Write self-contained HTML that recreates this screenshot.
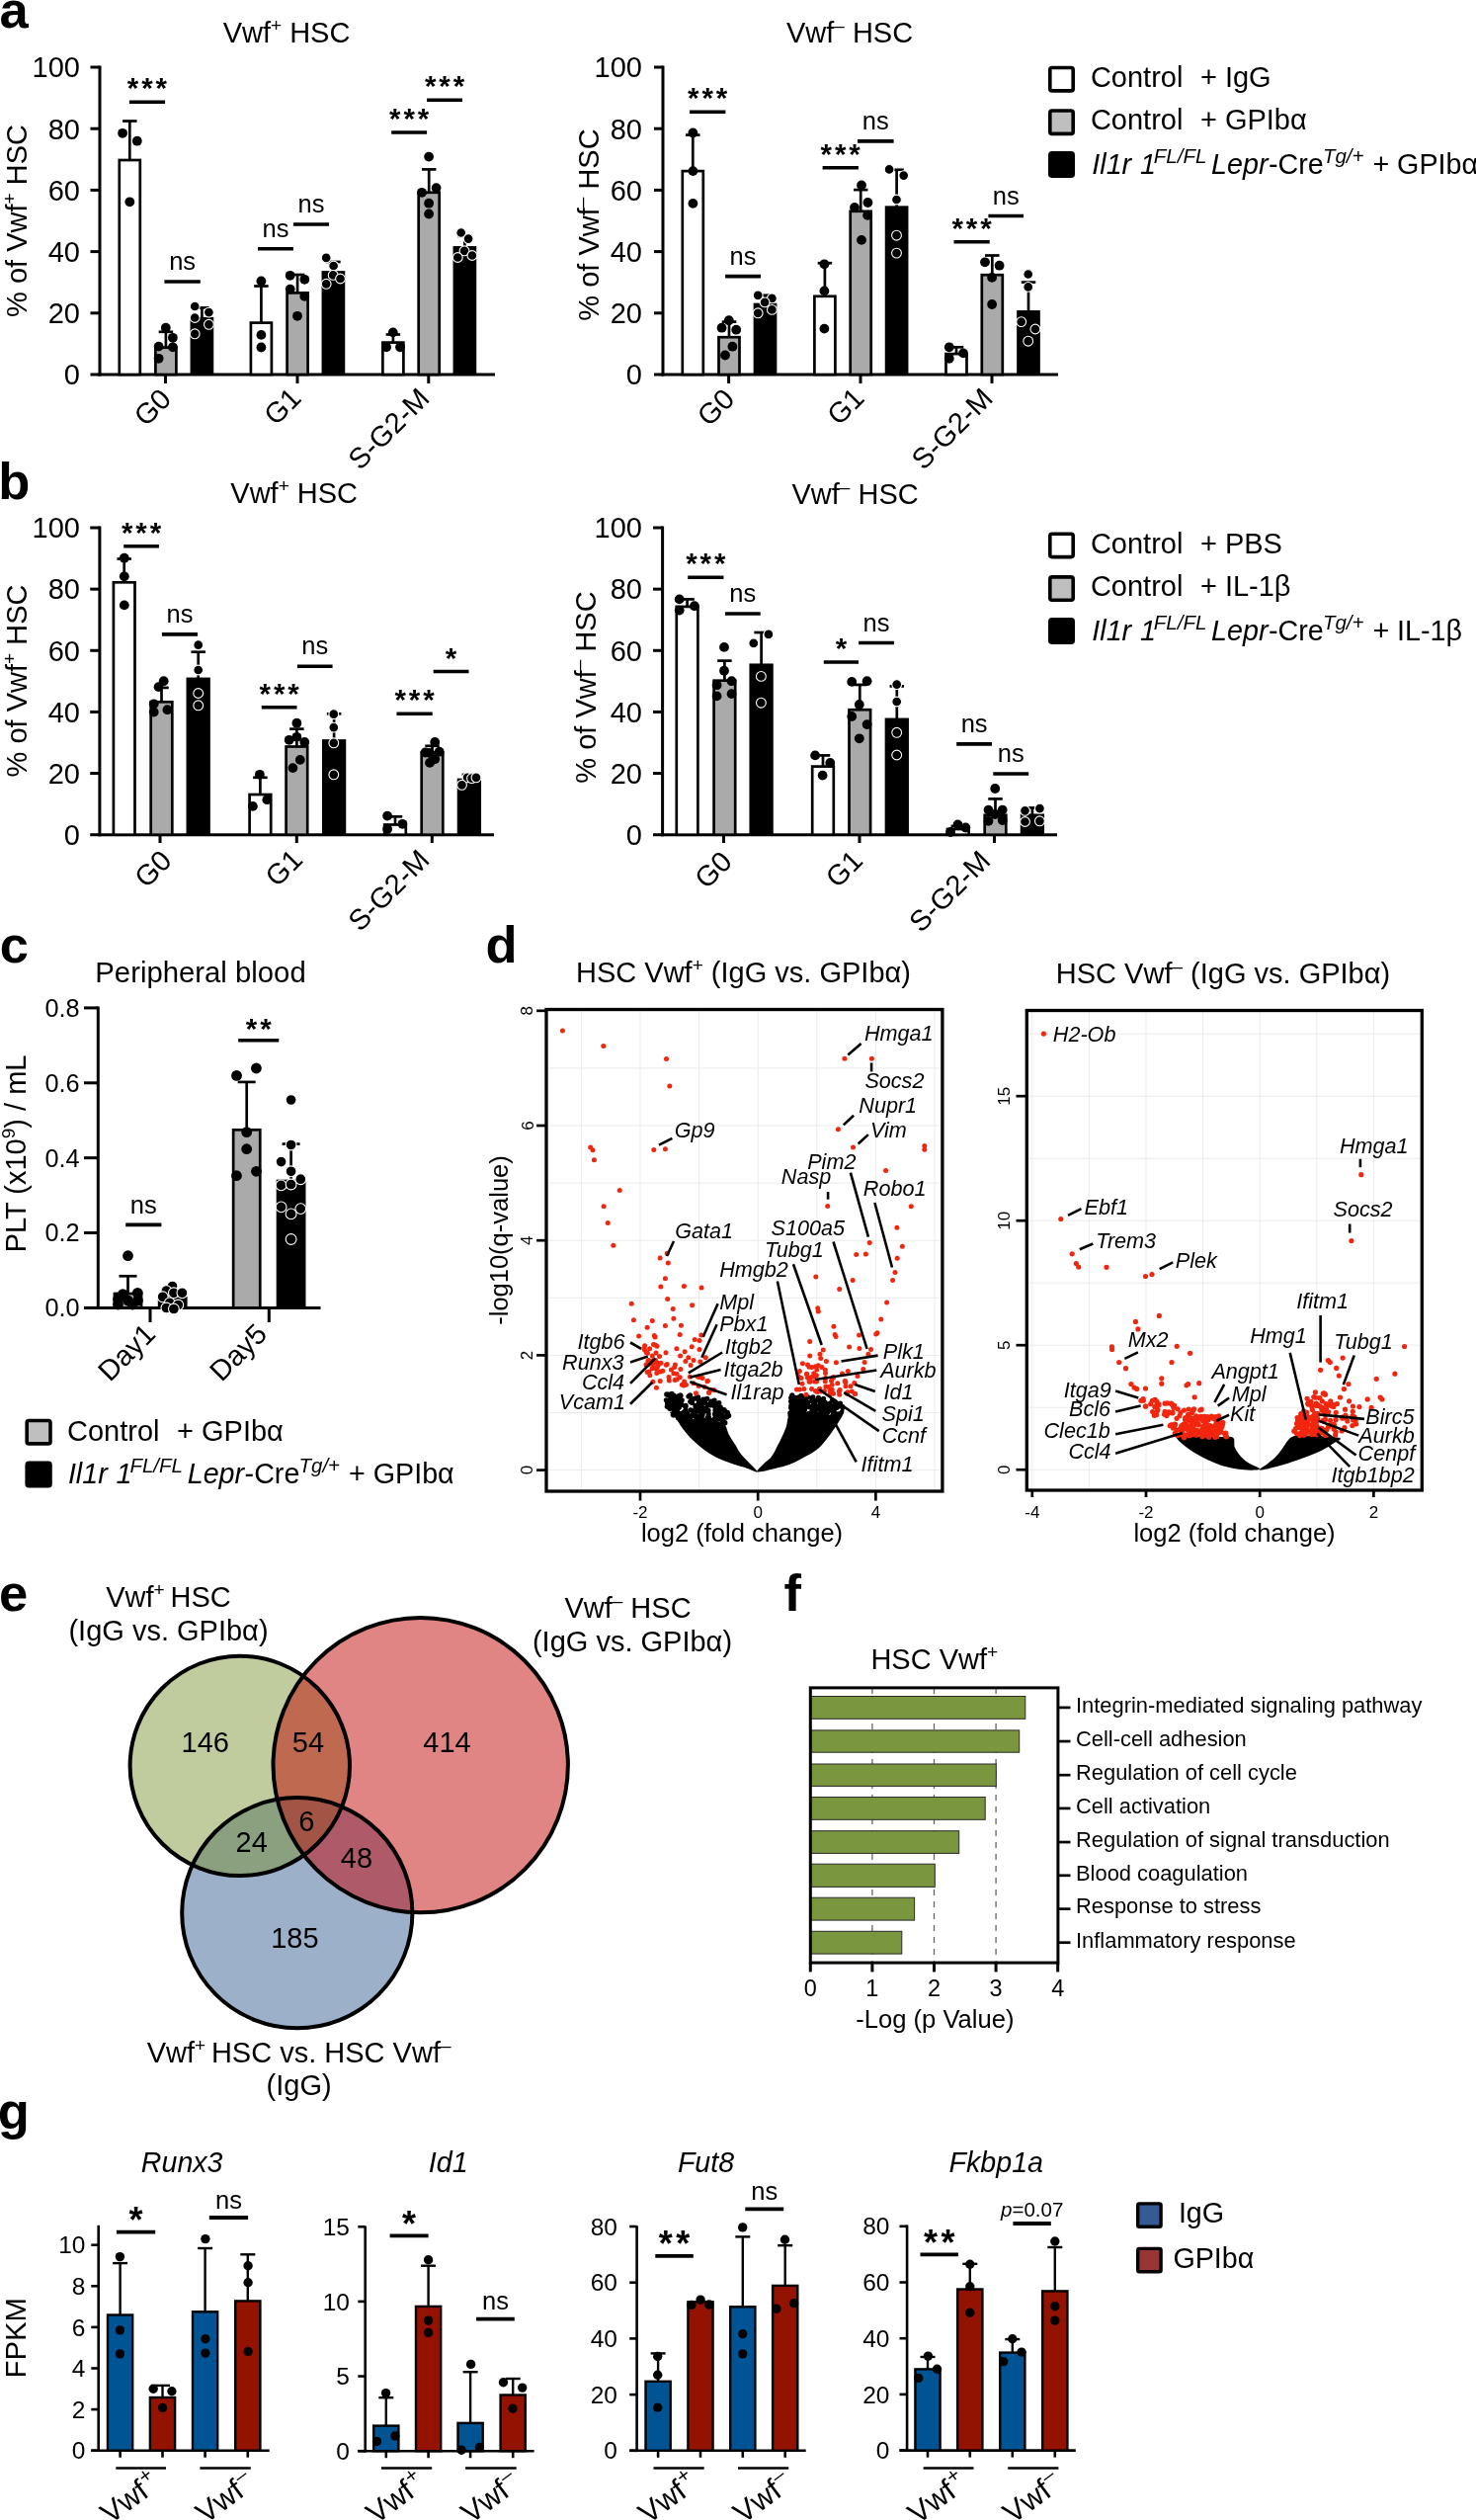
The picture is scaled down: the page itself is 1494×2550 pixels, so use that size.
<!DOCTYPE html>
<html><head><meta charset="utf-8"><style>
html,body{margin:0;padding:0;background:#fff;}
svg{display:block;will-change:transform;}
text{font-family:"Liberation Sans",sans-serif;white-space:pre;}
</style></head><body>
<svg xmlns="http://www.w3.org/2000/svg" width="1494" height="2550" viewBox="0 0 1494 2550">
<rect width="1494" height="2550" fill="#fff"/>
<line x1="101" y1="66.5" x2="101" y2="380.5" stroke="#000" stroke-width="3" stroke-linecap="butt" />
<line x1="99.5" y1="379" x2="501" y2="379" stroke="#000" stroke-width="3" stroke-linecap="butt" />
<line x1="91.5" y1="379" x2="101" y2="379" stroke="#000" stroke-width="3" stroke-linecap="butt" />
<text x="81" y="389.3" font-size="29" text-anchor="end" font-weight="normal" font-style="normal" fill="#000" >0</text>
<line x1="91.5" y1="316.8" x2="101" y2="316.8" stroke="#000" stroke-width="3" stroke-linecap="butt" />
<text x="81" y="327.1" font-size="29" text-anchor="end" font-weight="normal" font-style="normal" fill="#000" >20</text>
<line x1="91.5" y1="254.6" x2="101" y2="254.6" stroke="#000" stroke-width="3" stroke-linecap="butt" />
<text x="81" y="264.9" font-size="29" text-anchor="end" font-weight="normal" font-style="normal" fill="#000" >40</text>
<line x1="91.5" y1="192.4" x2="101" y2="192.4" stroke="#000" stroke-width="3" stroke-linecap="butt" />
<text x="81" y="202.7" font-size="29" text-anchor="end" font-weight="normal" font-style="normal" fill="#000" >60</text>
<line x1="91.5" y1="130.2" x2="101" y2="130.2" stroke="#000" stroke-width="3" stroke-linecap="butt" />
<text x="81" y="140.5" font-size="29" text-anchor="end" font-weight="normal" font-style="normal" fill="#000" >80</text>
<line x1="91.5" y1="68" x2="101" y2="68" stroke="#000" stroke-width="3" stroke-linecap="butt" />
<text x="81" y="78.3" font-size="29" text-anchor="end" font-weight="normal" font-style="normal" fill="#000" >100</text>
<line x1="167.5" y1="379" x2="167.5" y2="388" stroke="#000" stroke-width="3" stroke-linecap="butt" />
<line x1="301" y1="379" x2="301" y2="388" stroke="#000" stroke-width="3" stroke-linecap="butt" />
<line x1="433.8" y1="379" x2="433.8" y2="388" stroke="#000" stroke-width="3" stroke-linecap="butt" />
<rect x="120.8" y="162" width="21" height="217" fill="#fff" stroke="#000" stroke-width="2.7" />
<rect x="157.4" y="351.7" width="21" height="27.3" fill="#aaaaaa" stroke="#000" stroke-width="2.7" />
<rect x="192.55" y="320.85" width="23.7" height="58.15" fill="#000" />
<rect x="253.9" y="326.6" width="21" height="52.4" fill="#fff" stroke="#000" stroke-width="2.7" />
<rect x="290.6" y="296.4" width="21" height="82.6" fill="#aaaaaa" stroke="#000" stroke-width="2.7" />
<rect x="325.55" y="274.15" width="23.7" height="104.85" fill="#000" />
<rect x="387.4" y="346.6" width="21" height="32.4" fill="#fff" stroke="#000" stroke-width="2.7" />
<rect x="423.7" y="194.8" width="21" height="184.2" fill="#aaaaaa" stroke="#000" stroke-width="2.7" />
<rect x="458.55" y="249.05" width="23.7" height="129.95" fill="#000" />
<line x1="131.3" y1="162" x2="131.3" y2="122.5" stroke="#000" stroke-width="2.7" stroke-linecap="butt" />
<line x1="124.05" y1="122.5" x2="138.55" y2="122.5" stroke="#000" stroke-width="2.7" stroke-linecap="butt" />
<line x1="167.9" y1="351.7" x2="167.9" y2="335.8" stroke="#000" stroke-width="2.7" stroke-linecap="butt" />
<line x1="160.65" y1="335.8" x2="175.15" y2="335.8" stroke="#000" stroke-width="2.7" stroke-linecap="butt" />
<line x1="204.4" y1="322.2" x2="204.4" y2="311.4" stroke="#000" stroke-width="2.7" stroke-linecap="butt" />
<line x1="197.15" y1="311.4" x2="211.65" y2="311.4" stroke="#000" stroke-width="2.7" stroke-linecap="butt" />
<line x1="264.4" y1="326.6" x2="264.4" y2="289.5" stroke="#000" stroke-width="2.7" stroke-linecap="butt" />
<line x1="257.15" y1="289.5" x2="271.65" y2="289.5" stroke="#000" stroke-width="2.7" stroke-linecap="butt" />
<line x1="301.1" y1="296.4" x2="301.1" y2="278" stroke="#000" stroke-width="2.7" stroke-linecap="butt" />
<line x1="293.85" y1="278" x2="308.35" y2="278" stroke="#000" stroke-width="2.7" stroke-linecap="butt" />
<line x1="337.4" y1="275.5" x2="337.4" y2="265" stroke="#000" stroke-width="2.7" stroke-linecap="butt" />
<line x1="330.15" y1="265" x2="344.65" y2="265" stroke="#000" stroke-width="2.7" stroke-linecap="butt" />
<line x1="397.9" y1="346.6" x2="397.9" y2="338.5" stroke="#000" stroke-width="2.7" stroke-linecap="butt" />
<line x1="390.65" y1="338.5" x2="405.15" y2="338.5" stroke="#000" stroke-width="2.7" stroke-linecap="butt" />
<line x1="434.2" y1="194.8" x2="434.2" y2="171.4" stroke="#000" stroke-width="2.7" stroke-linecap="butt" />
<line x1="426.95" y1="171.4" x2="441.45" y2="171.4" stroke="#000" stroke-width="2.7" stroke-linecap="butt" />
<line x1="470.4" y1="250.4" x2="470.4" y2="238.9" stroke="#000" stroke-width="2.7" stroke-linecap="butt" />
<line x1="463.15" y1="238.9" x2="477.65" y2="238.9" stroke="#000" stroke-width="2.7" stroke-linecap="butt" />
<circle cx="124.1" cy="134.8" r="4.9" fill="#000"/>
<circle cx="138.8" cy="142.7" r="4.9" fill="#000"/>
<circle cx="131.3" cy="204.3" r="4.9" fill="#000"/>
<circle cx="167.8" cy="331.7" r="4.9" fill="#000"/>
<circle cx="174.9" cy="341.8" r="4.9" fill="#000"/>
<circle cx="160.6" cy="350.6" r="4.9" fill="#000"/>
<circle cx="174.9" cy="351.3" r="4.9" fill="#000"/>
<circle cx="160.6" cy="362.8" r="4.9" fill="#000"/>
<circle cx="197.2" cy="310" r="4.9" fill="#000" stroke="#fff" stroke-width="1.1"/>
<circle cx="211.4" cy="316.1" r="4.9" fill="#000" stroke="#fff" stroke-width="1.1"/>
<circle cx="197.2" cy="321.5" r="4.9" fill="#000" stroke="#fff" stroke-width="1.1"/>
<circle cx="211.4" cy="328.3" r="4.9" fill="#000" stroke="#fff" stroke-width="1.1"/>
<circle cx="197.2" cy="337.8" r="4.9" fill="#000" stroke="#fff" stroke-width="1.1"/>
<circle cx="264.4" cy="284.5" r="4.9" fill="#000"/>
<circle cx="264.4" cy="338.9" r="4.9" fill="#000"/>
<circle cx="264.4" cy="351.5" r="4.9" fill="#000"/>
<circle cx="293.7" cy="278.8" r="4.9" fill="#000"/>
<circle cx="308.3" cy="282.8" r="4.9" fill="#000"/>
<circle cx="293.7" cy="292.6" r="4.9" fill="#000"/>
<circle cx="308.3" cy="299.9" r="4.9" fill="#000"/>
<circle cx="301" cy="319.8" r="4.9" fill="#000"/>
<circle cx="330.2" cy="260.9" r="4.9" fill="#000" stroke="#fff" stroke-width="1.1"/>
<circle cx="337.6" cy="269" r="4.9" fill="#000" stroke="#fff" stroke-width="1.1"/>
<circle cx="337.2" cy="278.4" r="4.9" fill="#000" stroke="#fff" stroke-width="1.1"/>
<circle cx="344.5" cy="282" r="4.9" fill="#000" stroke="#fff" stroke-width="1.1"/>
<circle cx="330.2" cy="287.3" r="4.9" fill="#000" stroke="#fff" stroke-width="1.1"/>
<circle cx="397.8" cy="336.4" r="4.9" fill="#000"/>
<circle cx="391.1" cy="351.3" r="4.9" fill="#000"/>
<circle cx="405" cy="351.3" r="4.9" fill="#000"/>
<circle cx="434.1" cy="158.6" r="4.9" fill="#000"/>
<circle cx="427" cy="194.8" r="4.9" fill="#000"/>
<circle cx="441.6" cy="190.1" r="4.9" fill="#000"/>
<circle cx="434.1" cy="205.7" r="4.9" fill="#000"/>
<circle cx="434.1" cy="216.5" r="4.9" fill="#000"/>
<circle cx="466.7" cy="235.5" r="4.9" fill="#000" stroke="#fff" stroke-width="1.1"/>
<circle cx="474.1" cy="241.6" r="4.9" fill="#000" stroke="#fff" stroke-width="1.1"/>
<circle cx="470" cy="253.8" r="4.9" fill="#000" stroke="#fff" stroke-width="1.1"/>
<circle cx="463.3" cy="260.5" r="4.9" fill="#000" stroke="#fff" stroke-width="1.1"/>
<circle cx="477.9" cy="258.5" r="4.9" fill="#000" stroke="#fff" stroke-width="1.1"/>
<line x1="130.9" y1="103.3" x2="167.1" y2="103.3" stroke="#000" stroke-width="3.6" stroke-linecap="butt" />
<text x="150.45" y="99.3" font-size="29.5" text-anchor="middle" font-weight="bold" font-style="normal" fill="#000" letter-spacing="2.9">***</text>
<line x1="166.4" y1="285" x2="202.8" y2="285" stroke="#000" stroke-width="3.6" stroke-linecap="butt" />
<text x="184.6" y="273.2" font-size="25.5" text-anchor="middle" font-weight="normal" font-style="normal" fill="#000" >ns</text>
<line x1="261" y1="251.8" x2="296.9" y2="251.8" stroke="#000" stroke-width="3.6" stroke-linecap="butt" />
<text x="278.95" y="240" font-size="25.5" text-anchor="middle" font-weight="normal" font-style="normal" fill="#000" >ns</text>
<line x1="296.9" y1="227" x2="333" y2="227" stroke="#000" stroke-width="3.6" stroke-linecap="butt" />
<text x="314.95" y="215.2" font-size="25.5" text-anchor="middle" font-weight="normal" font-style="normal" fill="#000" >ns</text>
<line x1="396.2" y1="134" x2="432.1" y2="134" stroke="#000" stroke-width="3.6" stroke-linecap="butt" />
<text x="415.6" y="130" font-size="29.5" text-anchor="middle" font-weight="bold" font-style="normal" fill="#000" letter-spacing="2.9">***</text>
<line x1="432.1" y1="101.2" x2="468" y2="101.2" stroke="#000" stroke-width="3.6" stroke-linecap="butt" />
<text x="451.5" y="97.2" font-size="29.5" text-anchor="middle" font-weight="bold" font-style="normal" fill="#000" letter-spacing="2.9">***</text>
<text x="290" y="42.5" font-size="29" text-anchor="middle" font-weight="normal" font-style="normal" fill="#000" >Vwf<tspan font-size="19" dy="-11">+</tspan><tspan dy="11"> </tspan>HSC</text>
<text x="27" y="223.5" font-size="29" text-anchor="middle" font-weight="normal" font-style="normal" fill="#000" transform="rotate(-90 27 223.5)" >% of Vwf<tspan font-size="19" dy="-11">+</tspan><tspan dy="11"> </tspan>HSC</text>
<text x="175" y="405.5" font-size="29" text-anchor="end" font-weight="normal" font-style="normal" fill="#000" transform="rotate(-45 175 405.5)" >G0</text>
<text x="306.5" y="404.5" font-size="29" text-anchor="end" font-weight="normal" font-style="normal" fill="#000" transform="rotate(-45 306.5 404.5)" >G1</text>
<text x="436.3" y="405" font-size="29" text-anchor="end" font-weight="normal" font-style="normal" fill="#000" transform="rotate(-45 436.3 405)" >S-G2-M</text>
<line x1="671" y1="66.5" x2="671" y2="380.5" stroke="#000" stroke-width="3" stroke-linecap="butt" />
<line x1="669.5" y1="379" x2="1071" y2="379" stroke="#000" stroke-width="3" stroke-linecap="butt" />
<line x1="662" y1="379" x2="671" y2="379" stroke="#000" stroke-width="3" stroke-linecap="butt" />
<text x="650" y="389.3" font-size="29" text-anchor="end" font-weight="normal" font-style="normal" fill="#000" >0</text>
<line x1="662" y1="316.8" x2="671" y2="316.8" stroke="#000" stroke-width="3" stroke-linecap="butt" />
<text x="650" y="327.1" font-size="29" text-anchor="end" font-weight="normal" font-style="normal" fill="#000" >20</text>
<line x1="662" y1="254.6" x2="671" y2="254.6" stroke="#000" stroke-width="3" stroke-linecap="butt" />
<text x="650" y="264.9" font-size="29" text-anchor="end" font-weight="normal" font-style="normal" fill="#000" >40</text>
<line x1="662" y1="192.4" x2="671" y2="192.4" stroke="#000" stroke-width="3" stroke-linecap="butt" />
<text x="650" y="202.7" font-size="29" text-anchor="end" font-weight="normal" font-style="normal" fill="#000" >60</text>
<line x1="662" y1="130.2" x2="671" y2="130.2" stroke="#000" stroke-width="3" stroke-linecap="butt" />
<text x="650" y="140.5" font-size="29" text-anchor="end" font-weight="normal" font-style="normal" fill="#000" >80</text>
<line x1="662" y1="68" x2="671" y2="68" stroke="#000" stroke-width="3" stroke-linecap="butt" />
<text x="650" y="78.3" font-size="29" text-anchor="end" font-weight="normal" font-style="normal" fill="#000" >100</text>
<line x1="737.6" y1="379" x2="737.6" y2="388" stroke="#000" stroke-width="3" stroke-linecap="butt" />
<line x1="871" y1="379" x2="871" y2="388" stroke="#000" stroke-width="3" stroke-linecap="butt" />
<line x1="1004" y1="379" x2="1004" y2="388" stroke="#000" stroke-width="3" stroke-linecap="butt" />
<rect x="690.8" y="173.1" width="21" height="205.9" fill="#fff" stroke="#000" stroke-width="2.7" />
<rect x="727.5" y="341.2" width="21" height="37.8" fill="#aaaaaa" stroke="#000" stroke-width="2.7" />
<rect x="762.65" y="306.65" width="23.7" height="72.35" fill="#000" />
<rect x="824.4" y="299.8" width="21" height="79.2" fill="#fff" stroke="#000" stroke-width="2.7" />
<rect x="860.7" y="213.8" width="21" height="165.2" fill="#aaaaaa" stroke="#000" stroke-width="2.7" />
<rect x="895.75" y="208.35" width="23.7" height="170.65" fill="#000" />
<rect x="957.5" y="358.1" width="21" height="20.9" fill="#fff" stroke="#000" stroke-width="2.7" />
<rect x="993.8" y="278.2" width="21" height="100.8" fill="#aaaaaa" stroke="#000" stroke-width="2.7" />
<rect x="1029.15" y="314.05" width="23.7" height="64.95" fill="#000" />
<line x1="701.3" y1="173.1" x2="701.3" y2="136.6" stroke="#000" stroke-width="2.7" stroke-linecap="butt" />
<line x1="694.05" y1="136.6" x2="708.55" y2="136.6" stroke="#000" stroke-width="2.7" stroke-linecap="butt" />
<line x1="738" y1="341.2" x2="738" y2="325.6" stroke="#000" stroke-width="2.7" stroke-linecap="butt" />
<line x1="730.75" y1="325.6" x2="745.25" y2="325.6" stroke="#000" stroke-width="2.7" stroke-linecap="butt" />
<line x1="774.5" y1="308" x2="774.5" y2="298.8" stroke="#000" stroke-width="2.7" stroke-linecap="butt" />
<line x1="767.25" y1="298.8" x2="781.75" y2="298.8" stroke="#000" stroke-width="2.7" stroke-linecap="butt" />
<line x1="834.9" y1="299.8" x2="834.9" y2="266.2" stroke="#000" stroke-width="2.7" stroke-linecap="butt" />
<line x1="827.65" y1="266.2" x2="842.15" y2="266.2" stroke="#000" stroke-width="2.7" stroke-linecap="butt" />
<line x1="871.2" y1="213.8" x2="871.2" y2="192.1" stroke="#000" stroke-width="2.7" stroke-linecap="butt" />
<line x1="863.95" y1="192.1" x2="878.45" y2="192.1" stroke="#000" stroke-width="2.7" stroke-linecap="butt" />
<line x1="907.6" y1="209.7" x2="907.6" y2="171.8" stroke="#000" stroke-width="2.7" stroke-linecap="butt" />
<line x1="900.35" y1="171.8" x2="914.85" y2="171.8" stroke="#000" stroke-width="2.7" stroke-linecap="butt" />
<line x1="968" y1="358.1" x2="968" y2="351.3" stroke="#000" stroke-width="2.7" stroke-linecap="butt" />
<line x1="960.75" y1="351.3" x2="975.25" y2="351.3" stroke="#000" stroke-width="2.7" stroke-linecap="butt" />
<line x1="1004.3" y1="278.2" x2="1004.3" y2="258.5" stroke="#000" stroke-width="2.7" stroke-linecap="butt" />
<line x1="997.05" y1="258.5" x2="1011.55" y2="258.5" stroke="#000" stroke-width="2.7" stroke-linecap="butt" />
<line x1="1041" y1="315.4" x2="1041" y2="285.6" stroke="#000" stroke-width="2.7" stroke-linecap="butt" />
<line x1="1033.75" y1="285.6" x2="1048.25" y2="285.6" stroke="#000" stroke-width="2.7" stroke-linecap="butt" />
<circle cx="701.4" cy="134.5" r="4.9" fill="#000"/>
<circle cx="701.4" cy="173.1" r="4.9" fill="#000"/>
<circle cx="701.4" cy="205.9" r="4.9" fill="#000"/>
<circle cx="737.8" cy="324.2" r="4.9" fill="#000"/>
<circle cx="730.6" cy="331.7" r="4.9" fill="#000"/>
<circle cx="745.2" cy="333.7" r="4.9" fill="#000"/>
<circle cx="741.4" cy="350.7" r="4.9" fill="#000"/>
<circle cx="734" cy="359.5" r="4.9" fill="#000"/>
<circle cx="767.2" cy="298.8" r="4.9" fill="#000" stroke="#fff" stroke-width="1.1"/>
<circle cx="781.4" cy="301.9" r="4.9" fill="#000" stroke="#fff" stroke-width="1.1"/>
<circle cx="774.1" cy="305.9" r="4.9" fill="#000" stroke="#fff" stroke-width="1.1"/>
<circle cx="781.4" cy="313.4" r="4.9" fill="#000" stroke="#fff" stroke-width="1.1"/>
<circle cx="767.2" cy="316.8" r="4.9" fill="#000" stroke="#fff" stroke-width="1.1"/>
<circle cx="834.4" cy="267.3" r="4.9" fill="#000"/>
<circle cx="834.4" cy="294.4" r="4.9" fill="#000"/>
<circle cx="834.4" cy="332.6" r="4.9" fill="#000"/>
<circle cx="872" cy="187.4" r="4.9" fill="#000"/>
<circle cx="878.4" cy="205" r="4.9" fill="#000"/>
<circle cx="878.1" cy="217.9" r="4.9" fill="#000"/>
<circle cx="865" cy="210" r="4.9" fill="#000"/>
<circle cx="872" cy="242.9" r="4.9" fill="#000"/>
<circle cx="900.1" cy="171.4" r="4.9" fill="#000" stroke="#fff" stroke-width="1.1"/>
<circle cx="914.7" cy="177.6" r="4.9" fill="#000" stroke="#fff" stroke-width="1.1"/>
<circle cx="907.5" cy="202" r="4.9" fill="#000" stroke="#fff" stroke-width="1.1"/>
<circle cx="907.5" cy="238.2" r="4.9" fill="#000" stroke="#fff" stroke-width="1.1"/>
<circle cx="907.5" cy="256.1" r="4.9" fill="#000" stroke="#fff" stroke-width="1.1"/>
<circle cx="960.8" cy="351.3" r="4.9" fill="#000"/>
<circle cx="975" cy="357.4" r="4.9" fill="#000"/>
<circle cx="960.8" cy="362.8" r="4.9" fill="#000"/>
<circle cx="997" cy="265.3" r="4.9" fill="#000"/>
<circle cx="1011.6" cy="268.7" r="4.9" fill="#000"/>
<circle cx="1004.1" cy="280.9" r="4.9" fill="#000"/>
<circle cx="1004.1" cy="308" r="4.9" fill="#000"/>
<circle cx="1040.7" cy="277.5" r="4.9" fill="#000" stroke="#fff" stroke-width="1.1"/>
<circle cx="1040.7" cy="290.4" r="4.9" fill="#000" stroke="#fff" stroke-width="1.1"/>
<circle cx="1033.7" cy="325.6" r="4.9" fill="#000" stroke="#fff" stroke-width="1.1"/>
<circle cx="1047.9" cy="333" r="4.9" fill="#000" stroke="#fff" stroke-width="1.1"/>
<circle cx="1040.7" cy="345.2" r="4.9" fill="#000" stroke="#fff" stroke-width="1.1"/>
<line x1="698" y1="113.2" x2="734.4" y2="113.2" stroke="#000" stroke-width="3.6" stroke-linecap="butt" />
<text x="717.65" y="109.2" font-size="29.5" text-anchor="middle" font-weight="bold" font-style="normal" fill="#000" letter-spacing="2.9">***</text>
<line x1="734.1" y1="279.6" x2="770" y2="279.6" stroke="#000" stroke-width="3.6" stroke-linecap="butt" />
<text x="752.05" y="267.8" font-size="25.5" text-anchor="middle" font-weight="normal" font-style="normal" fill="#000" >ns</text>
<line x1="832.6" y1="169.7" x2="868.9" y2="169.7" stroke="#000" stroke-width="3.6" stroke-linecap="butt" />
<text x="852.2" y="165.7" font-size="29.5" text-anchor="middle" font-weight="bold" font-style="normal" fill="#000" letter-spacing="2.9">***</text>
<line x1="868" y1="142.9" x2="904.6" y2="142.9" stroke="#000" stroke-width="3.6" stroke-linecap="butt" />
<text x="886.3" y="131.1" font-size="25.5" text-anchor="middle" font-weight="normal" font-style="normal" fill="#000" >ns</text>
<line x1="965.5" y1="244.8" x2="1001.7" y2="244.8" stroke="#000" stroke-width="3.6" stroke-linecap="butt" />
<text x="985.05" y="240.8" font-size="29.5" text-anchor="middle" font-weight="bold" font-style="normal" fill="#000" letter-spacing="2.9">***</text>
<line x1="1000.4" y1="218.5" x2="1036" y2="218.5" stroke="#000" stroke-width="3.6" stroke-linecap="butt" />
<text x="1018.2" y="206.7" font-size="25.5" text-anchor="middle" font-weight="normal" font-style="normal" fill="#000" >ns</text>
<text x="860" y="42.5" font-size="29" text-anchor="middle" font-weight="normal" font-style="normal" fill="#000" >Vwf<tspan font-size="19" dy="-11">–</tspan><tspan dy="11"> </tspan>HSC</text>
<text x="605.6" y="227.5" font-size="29" text-anchor="middle" font-weight="normal" font-style="normal" fill="#000" transform="rotate(-90 605.6 227.5)" >% of Vwf<tspan font-size="19" dy="-11">–</tspan><tspan dy="11"> </tspan>HSC</text>
<text x="745.1" y="405.5" font-size="29" text-anchor="end" font-weight="normal" font-style="normal" fill="#000" transform="rotate(-45 745.1 405.5)" >G0</text>
<text x="876.5" y="404.5" font-size="29" text-anchor="end" font-weight="normal" font-style="normal" fill="#000" transform="rotate(-45 876.5 404.5)" >G1</text>
<text x="1006.5" y="405" font-size="29" text-anchor="end" font-weight="normal" font-style="normal" fill="#000" transform="rotate(-45 1006.5 405)" >S-G2-M</text>
<rect x="1062.8" y="68.5" width="23.4" height="23.4" fill="#fff" stroke="#000" stroke-width="3.6" rx="2"/>
<text x="1103.9" y="87.8" font-size="29" text-anchor="start" font-weight="normal" font-style="normal" fill="#000" >Control</text>
<text x="1214.9" y="87.8" font-size="29" text-anchor="start" font-weight="normal" font-style="normal" fill="#000" >+ IgG</text>
<rect x="1062.8" y="112" width="23.4" height="23.4" fill="#bfbfbf" stroke="#000" stroke-width="3.6" rx="2"/>
<text x="1103.9" y="131.3" font-size="29" text-anchor="start" font-weight="normal" font-style="normal" fill="#000" >Control</text>
<text x="1214.9" y="131.3" font-size="29" text-anchor="start" font-weight="normal" font-style="normal" fill="#000" >+ GPIbα</text>
<rect x="1062.8" y="154.8" width="23.4" height="23.4" fill="#000" stroke="#000" stroke-width="3.6" rx="2"/>
<text x="1105.3" y="175.6" font-size="28.7" text-anchor="start" font-weight="normal" font-style="italic" fill="#000" >Il1r</text>
<text x="1154" y="175.6" font-size="28.7" text-anchor="start" font-weight="normal" font-style="italic" fill="#000" >1</text>
<text x="1167.8" y="165.2" font-size="20.5" text-anchor="start" font-weight="normal" font-style="italic" fill="#000" >FL/FL</text>
<text x="1226.1" y="175.6" font-size="28.7" text-anchor="start" font-weight="normal" font-style="italic" fill="#000" >Lepr</text>
<text x="1284" y="175.6" font-size="28.7" text-anchor="start" font-weight="normal" font-style="normal" fill="#000" >-Cre</text>
<text x="1338.9" y="165.2" font-size="20.5" text-anchor="start" font-weight="normal" font-style="italic" fill="#000" >Tg/+</text>
<text x="1389.4" y="175.6" font-size="28.7" text-anchor="start" font-weight="normal" font-style="normal" fill="#000" >+ GPIbα</text>
<line x1="100.9" y1="532.5" x2="100.9" y2="846.2" stroke="#000" stroke-width="3" stroke-linecap="butt" />
<line x1="99.4" y1="844.7" x2="500" y2="844.7" stroke="#000" stroke-width="3" stroke-linecap="butt" />
<line x1="91.2" y1="844.7" x2="100.9" y2="844.7" stroke="#000" stroke-width="3" stroke-linecap="butt" />
<text x="81" y="855" font-size="29" text-anchor="end" font-weight="normal" font-style="normal" fill="#000" >0</text>
<line x1="91.2" y1="782.56" x2="100.9" y2="782.56" stroke="#000" stroke-width="3" stroke-linecap="butt" />
<text x="81" y="792.86" font-size="29" text-anchor="end" font-weight="normal" font-style="normal" fill="#000" >20</text>
<line x1="91.2" y1="720.42" x2="100.9" y2="720.42" stroke="#000" stroke-width="3" stroke-linecap="butt" />
<text x="81" y="730.72" font-size="29" text-anchor="end" font-weight="normal" font-style="normal" fill="#000" >40</text>
<line x1="91.2" y1="658.28" x2="100.9" y2="658.28" stroke="#000" stroke-width="3" stroke-linecap="butt" />
<text x="81" y="668.58" font-size="29" text-anchor="end" font-weight="normal" font-style="normal" fill="#000" >60</text>
<line x1="91.2" y1="596.14" x2="100.9" y2="596.14" stroke="#000" stroke-width="3" stroke-linecap="butt" />
<text x="81" y="606.44" font-size="29" text-anchor="end" font-weight="normal" font-style="normal" fill="#000" >80</text>
<line x1="91.2" y1="534" x2="100.9" y2="534" stroke="#000" stroke-width="3" stroke-linecap="butt" />
<text x="81" y="544.3" font-size="29" text-anchor="end" font-weight="normal" font-style="normal" fill="#000" >100</text>
<line x1="162" y1="844.7" x2="162" y2="853" stroke="#000" stroke-width="3" stroke-linecap="butt" />
<line x1="300.3" y1="844.7" x2="300.3" y2="853" stroke="#000" stroke-width="3" stroke-linecap="butt" />
<line x1="437.3" y1="844.7" x2="437.3" y2="853" stroke="#000" stroke-width="3" stroke-linecap="butt" />
<rect x="114.9" y="589.3" width="21.6" height="255.4" fill="#fff" stroke="#000" stroke-width="2.7" />
<rect x="152.7" y="710.3" width="21.6" height="134.4" fill="#aaaaaa" stroke="#000" stroke-width="2.7" />
<rect x="188.55" y="685.55" width="24.3" height="159.15" fill="#000" />
<rect x="252.6" y="804" width="21.6" height="40.7" fill="#fff" stroke="#000" stroke-width="2.7" />
<rect x="289.6" y="755.5" width="21.6" height="89.2" fill="#aaaaaa" stroke="#000" stroke-width="2.7" />
<rect x="325.95" y="748.15" width="24.3" height="96.55" fill="#000" />
<rect x="389.2" y="834.5" width="21.6" height="10.2" fill="#fff" stroke="#000" stroke-width="2.7" />
<rect x="426.7" y="761.5" width="21.6" height="83.2" fill="#aaaaaa" stroke="#000" stroke-width="2.7" />
<rect x="462.75" y="787.65" width="24.3" height="57.05" fill="#000" />
<line x1="125.7" y1="589.3" x2="125.7" y2="565.5" stroke="#000" stroke-width="2.7" stroke-linecap="butt" />
<line x1="118.45" y1="565.5" x2="132.95" y2="565.5" stroke="#000" stroke-width="2.7" stroke-linecap="butt" />
<line x1="163.5" y1="710.3" x2="163.5" y2="695.9" stroke="#000" stroke-width="2.7" stroke-linecap="butt" />
<line x1="156.25" y1="695.9" x2="170.75" y2="695.9" stroke="#000" stroke-width="2.7" stroke-linecap="butt" />
<line x1="200.7" y1="686.9" x2="200.7" y2="659.7" stroke="#000" stroke-width="2.7" stroke-linecap="butt" />
<line x1="193.45" y1="659.7" x2="207.95" y2="659.7" stroke="#000" stroke-width="2.7" stroke-linecap="butt" />
<line x1="263.4" y1="804" x2="263.4" y2="786.8" stroke="#000" stroke-width="2.7" stroke-linecap="butt" />
<line x1="256.15" y1="786.8" x2="270.65" y2="786.8" stroke="#000" stroke-width="2.7" stroke-linecap="butt" />
<line x1="300.4" y1="755.5" x2="300.4" y2="737.6" stroke="#000" stroke-width="2.7" stroke-linecap="butt" />
<line x1="293.15" y1="737.6" x2="307.65" y2="737.6" stroke="#000" stroke-width="2.7" stroke-linecap="butt" />
<line x1="338.1" y1="749.5" x2="338.1" y2="722.3" stroke="#000" stroke-width="2.7" stroke-linecap="butt" />
<line x1="330.85" y1="722.3" x2="345.35" y2="722.3" stroke="#000" stroke-width="2.7" stroke-linecap="butt" />
<line x1="400" y1="834.5" x2="400" y2="826.3" stroke="#000" stroke-width="2.7" stroke-linecap="butt" />
<line x1="392.75" y1="826.3" x2="407.25" y2="826.3" stroke="#000" stroke-width="2.7" stroke-linecap="butt" />
<line x1="437.5" y1="761.5" x2="437.5" y2="754.8" stroke="#000" stroke-width="2.7" stroke-linecap="butt" />
<line x1="430.25" y1="754.8" x2="444.75" y2="754.8" stroke="#000" stroke-width="2.7" stroke-linecap="butt" />
<line x1="474.9" y1="789" x2="474.9" y2="784" stroke="#000" stroke-width="2.7" stroke-linecap="butt" />
<line x1="467.65" y1="784" x2="482.15" y2="784" stroke="#000" stroke-width="2.7" stroke-linecap="butt" />
<circle cx="125.8" cy="564.7" r="4.9" fill="#000"/>
<circle cx="125.8" cy="583.3" r="4.9" fill="#000"/>
<circle cx="125.8" cy="612.4" r="4.9" fill="#000"/>
<circle cx="165.7" cy="689.2" r="4.9" fill="#000"/>
<circle cx="160.5" cy="695.1" r="4.9" fill="#000"/>
<circle cx="155.7" cy="712.3" r="4.9" fill="#000"/>
<circle cx="155.7" cy="720.5" r="4.9" fill="#000"/>
<circle cx="169.4" cy="718.2" r="4.9" fill="#000"/>
<circle cx="200.7" cy="652.7" r="4.9" fill="#000" stroke="#fff" stroke-width="1.1"/>
<circle cx="200.7" cy="678" r="4.9" fill="#000" stroke="#fff" stroke-width="1.1"/>
<circle cx="200.7" cy="701.5" r="4.9" fill="#000" stroke="#fff" stroke-width="1.1"/>
<circle cx="200.7" cy="713.8" r="4.9" fill="#000" stroke="#fff" stroke-width="1.1"/>
<circle cx="262.9" cy="783.8" r="4.9" fill="#000"/>
<circle cx="255.9" cy="815.9" r="4.9" fill="#000"/>
<circle cx="270.3" cy="809.2" r="4.9" fill="#000"/>
<circle cx="300.4" cy="731.7" r="4.9" fill="#000"/>
<circle cx="292.7" cy="748.8" r="4.9" fill="#000"/>
<circle cx="300.4" cy="745.8" r="4.9" fill="#000"/>
<circle cx="308.3" cy="751" r="4.9" fill="#000"/>
<circle cx="303.8" cy="768.9" r="4.9" fill="#000"/>
<circle cx="296.4" cy="777.1" r="4.9" fill="#000"/>
<circle cx="337.8" cy="722.7" r="4.9" fill="#000" stroke="#fff" stroke-width="1.1"/>
<circle cx="337.8" cy="736.1" r="4.9" fill="#000" stroke="#fff" stroke-width="1.1"/>
<circle cx="337.8" cy="751.8" r="4.9" fill="#000" stroke="#fff" stroke-width="1.1"/>
<circle cx="337.8" cy="783.8" r="4.9" fill="#000" stroke="#fff" stroke-width="1.1"/>
<circle cx="392.1" cy="825.6" r="4.9" fill="#000"/>
<circle cx="407.4" cy="833.8" r="4.9" fill="#000"/>
<circle cx="392.1" cy="839" r="4.9" fill="#000"/>
<circle cx="440.2" cy="751" r="4.9" fill="#000"/>
<circle cx="430.5" cy="761.5" r="4.9" fill="#000"/>
<circle cx="444.7" cy="760.7" r="4.9" fill="#000"/>
<circle cx="440.2" cy="768.2" r="4.9" fill="#000"/>
<circle cx="435" cy="771.9" r="4.9" fill="#000"/>
<circle cx="435" cy="762" r="4.9" fill="#000"/>
<circle cx="473" cy="786.8" r="4.9" fill="#000" stroke="#fff" stroke-width="1.1"/>
<circle cx="477.5" cy="787.6" r="4.9" fill="#000" stroke="#fff" stroke-width="1.1"/>
<circle cx="482" cy="786.8" r="4.9" fill="#000" stroke="#fff" stroke-width="1.1"/>
<circle cx="467.5" cy="794.3" r="4.9" fill="#000" stroke="#fff" stroke-width="1.1"/>
<line x1="125.2" y1="552.8" x2="160.9" y2="552.8" stroke="#000" stroke-width="3.6" stroke-linecap="butt" />
<text x="144.5" y="548.8" font-size="29.5" text-anchor="middle" font-weight="bold" font-style="normal" fill="#000" letter-spacing="2.9">***</text>
<line x1="163.9" y1="641.9" x2="200" y2="641.9" stroke="#000" stroke-width="3.6" stroke-linecap="butt" />
<text x="181.95" y="630.1" font-size="25.5" text-anchor="middle" font-weight="normal" font-style="normal" fill="#000" >ns</text>
<line x1="264.8" y1="715.7" x2="300.5" y2="715.7" stroke="#000" stroke-width="3.6" stroke-linecap="butt" />
<text x="284.1" y="711.7" font-size="29.5" text-anchor="middle" font-weight="bold" font-style="normal" fill="#000" letter-spacing="2.9">***</text>
<line x1="300.9" y1="674.2" x2="336.6" y2="674.2" stroke="#000" stroke-width="3.6" stroke-linecap="butt" />
<text x="318.75" y="662.4" font-size="25.5" text-anchor="middle" font-weight="normal" font-style="normal" fill="#000" >ns</text>
<line x1="401.5" y1="722.2" x2="437.7" y2="722.2" stroke="#000" stroke-width="3.6" stroke-linecap="butt" />
<text x="421.05" y="718.2" font-size="29.5" text-anchor="middle" font-weight="bold" font-style="normal" fill="#000" letter-spacing="2.9">***</text>
<line x1="438.7" y1="679.5" x2="474.5" y2="679.5" stroke="#000" stroke-width="3.6" stroke-linecap="butt" />
<text x="458.05" y="675.5" font-size="29.5" text-anchor="middle" font-weight="bold" font-style="normal" fill="#000" letter-spacing="2.9">*</text>
<text x="297.7" y="509.1" font-size="29" text-anchor="middle" font-weight="normal" font-style="normal" fill="#000" >Vwf<tspan font-size="19" dy="-11">+</tspan><tspan dy="11"> </tspan>HSC</text>
<text x="27" y="689" font-size="29" text-anchor="middle" font-weight="normal" font-style="normal" fill="#000" transform="rotate(-90 27 689)" >% of Vwf<tspan font-size="19" dy="-11">+</tspan><tspan dy="11"> </tspan>HSC</text>
<text x="175.5" y="872.5" font-size="29" text-anchor="end" font-weight="normal" font-style="normal" fill="#000" transform="rotate(-45 175.5 872.5)" >G0</text>
<text x="307.8" y="871.5" font-size="29" text-anchor="end" font-weight="normal" font-style="normal" fill="#000" transform="rotate(-45 307.8 871.5)" >G1</text>
<text x="436.3" y="872" font-size="29" text-anchor="end" font-weight="normal" font-style="normal" fill="#000" transform="rotate(-45 436.3 872)" >S-G2-M</text>
<line x1="670.6" y1="532.5" x2="670.6" y2="846.2" stroke="#000" stroke-width="3" stroke-linecap="butt" />
<line x1="669.1" y1="844.7" x2="1070" y2="844.7" stroke="#000" stroke-width="3" stroke-linecap="butt" />
<line x1="661" y1="844.7" x2="670.6" y2="844.7" stroke="#000" stroke-width="3" stroke-linecap="butt" />
<text x="650" y="855" font-size="29" text-anchor="end" font-weight="normal" font-style="normal" fill="#000" >0</text>
<line x1="661" y1="782.56" x2="670.6" y2="782.56" stroke="#000" stroke-width="3" stroke-linecap="butt" />
<text x="650" y="792.86" font-size="29" text-anchor="end" font-weight="normal" font-style="normal" fill="#000" >20</text>
<line x1="661" y1="720.42" x2="670.6" y2="720.42" stroke="#000" stroke-width="3" stroke-linecap="butt" />
<text x="650" y="730.72" font-size="29" text-anchor="end" font-weight="normal" font-style="normal" fill="#000" >40</text>
<line x1="661" y1="658.28" x2="670.6" y2="658.28" stroke="#000" stroke-width="3" stroke-linecap="butt" />
<text x="650" y="668.58" font-size="29" text-anchor="end" font-weight="normal" font-style="normal" fill="#000" >60</text>
<line x1="661" y1="596.14" x2="670.6" y2="596.14" stroke="#000" stroke-width="3" stroke-linecap="butt" />
<text x="650" y="606.44" font-size="29" text-anchor="end" font-weight="normal" font-style="normal" fill="#000" >80</text>
<line x1="661" y1="534" x2="670.6" y2="534" stroke="#000" stroke-width="3" stroke-linecap="butt" />
<text x="650" y="544.3" font-size="29" text-anchor="end" font-weight="normal" font-style="normal" fill="#000" >100</text>
<line x1="732.5" y1="844.7" x2="732.5" y2="853" stroke="#000" stroke-width="3" stroke-linecap="butt" />
<line x1="870" y1="844.7" x2="870" y2="853" stroke="#000" stroke-width="3" stroke-linecap="butt" />
<line x1="1006.5" y1="844.7" x2="1006.5" y2="853" stroke="#000" stroke-width="3" stroke-linecap="butt" />
<rect x="684.8" y="613.9" width="21.6" height="230.8" fill="#fff" stroke="#000" stroke-width="2.7" />
<rect x="722.6" y="688.7" width="21.6" height="156" fill="#aaaaaa" stroke="#000" stroke-width="2.7" />
<rect x="758.45" y="671.45" width="24.3" height="173.25" fill="#000" />
<rect x="822.2" y="775.6" width="21.6" height="69.1" fill="#fff" stroke="#000" stroke-width="2.7" />
<rect x="859.5" y="718.2" width="21.6" height="126.5" fill="#aaaaaa" stroke="#000" stroke-width="2.7" />
<rect x="895.65" y="726.55" width="24.3" height="118.15" fill="#000" />
<rect x="959" y="839" width="21.6" height="5.7" fill="#fff" stroke="#000" stroke-width="2.7" />
<rect x="996.7" y="824.8" width="21.6" height="19.9" fill="#aaaaaa" stroke="#000" stroke-width="2.7" />
<rect x="1032.75" y="823.45" width="24.3" height="21.25" fill="#000" />
<line x1="695.6" y1="613.9" x2="695.6" y2="606.4" stroke="#000" stroke-width="2.7" stroke-linecap="butt" />
<line x1="688.35" y1="606.4" x2="702.85" y2="606.4" stroke="#000" stroke-width="2.7" stroke-linecap="butt" />
<line x1="733.4" y1="688.7" x2="733.4" y2="668.6" stroke="#000" stroke-width="2.7" stroke-linecap="butt" />
<line x1="726.15" y1="668.6" x2="740.65" y2="668.6" stroke="#000" stroke-width="2.7" stroke-linecap="butt" />
<line x1="770.6" y1="672.8" x2="770.6" y2="640" stroke="#000" stroke-width="2.7" stroke-linecap="butt" />
<line x1="763.35" y1="640" x2="777.85" y2="640" stroke="#000" stroke-width="2.7" stroke-linecap="butt" />
<line x1="833" y1="775.6" x2="833" y2="764.4" stroke="#000" stroke-width="2.7" stroke-linecap="butt" />
<line x1="825.75" y1="764.4" x2="840.25" y2="764.4" stroke="#000" stroke-width="2.7" stroke-linecap="butt" />
<line x1="870.3" y1="718.2" x2="870.3" y2="692.9" stroke="#000" stroke-width="2.7" stroke-linecap="butt" />
<line x1="863.05" y1="692.9" x2="877.55" y2="692.9" stroke="#000" stroke-width="2.7" stroke-linecap="butt" />
<line x1="907.8" y1="727.9" x2="907.8" y2="694.4" stroke="#000" stroke-width="2.7" stroke-linecap="butt" />
<line x1="900.55" y1="694.4" x2="915.05" y2="694.4" stroke="#000" stroke-width="2.7" stroke-linecap="butt" />
<line x1="969.8" y1="839" x2="969.8" y2="836" stroke="#000" stroke-width="2.7" stroke-linecap="butt" />
<line x1="962.55" y1="836" x2="977.05" y2="836" stroke="#000" stroke-width="2.7" stroke-linecap="butt" />
<line x1="1007.5" y1="824.8" x2="1007.5" y2="808.4" stroke="#000" stroke-width="2.7" stroke-linecap="butt" />
<line x1="1000.25" y1="808.4" x2="1014.75" y2="808.4" stroke="#000" stroke-width="2.7" stroke-linecap="butt" />
<line x1="1044.9" y1="824.8" x2="1044.9" y2="817.4" stroke="#000" stroke-width="2.7" stroke-linecap="butt" />
<line x1="1037.65" y1="817.4" x2="1052.15" y2="817.4" stroke="#000" stroke-width="2.7" stroke-linecap="butt" />
<circle cx="687.7" cy="606.4" r="4.9" fill="#000"/>
<circle cx="702.9" cy="613.2" r="4.9" fill="#000"/>
<circle cx="687.7" cy="617.6" r="4.9" fill="#000"/>
<circle cx="733" cy="654.9" r="4.9" fill="#000"/>
<circle cx="733" cy="678.7" r="4.9" fill="#000"/>
<circle cx="740.5" cy="689.2" r="4.9" fill="#000"/>
<circle cx="725.6" cy="693.2" r="4.9" fill="#000"/>
<circle cx="725.6" cy="704.4" r="4.9" fill="#000"/>
<circle cx="740.5" cy="702.1" r="4.9" fill="#000"/>
<circle cx="777.9" cy="641.9" r="4.9" fill="#000" stroke="#fff" stroke-width="1.1"/>
<circle cx="762.8" cy="650.9" r="4.9" fill="#000" stroke="#fff" stroke-width="1.1"/>
<circle cx="770.4" cy="684.4" r="4.9" fill="#000" stroke="#fff" stroke-width="1.1"/>
<circle cx="770.4" cy="711.2" r="4.9" fill="#000" stroke="#fff" stroke-width="1.1"/>
<circle cx="825.1" cy="764.4" r="4.9" fill="#000"/>
<circle cx="840.3" cy="771.9" r="4.9" fill="#000"/>
<circle cx="832.6" cy="784.6" r="4.9" fill="#000"/>
<circle cx="862.2" cy="689.9" r="4.9" fill="#000"/>
<circle cx="877.6" cy="689.2" r="4.9" fill="#000"/>
<circle cx="869.8" cy="713" r="4.9" fill="#000"/>
<circle cx="862.2" cy="725" r="4.9" fill="#000"/>
<circle cx="877.6" cy="733.1" r="4.9" fill="#000"/>
<circle cx="869.8" cy="747.3" r="4.9" fill="#000"/>
<circle cx="907.7" cy="692.6" r="4.9" fill="#000" stroke="#fff" stroke-width="1.1"/>
<circle cx="907.7" cy="710" r="4.9" fill="#000" stroke="#fff" stroke-width="1.1"/>
<circle cx="907.7" cy="741.3" r="4.9" fill="#000" stroke="#fff" stroke-width="1.1"/>
<circle cx="907.7" cy="764" r="4.9" fill="#000" stroke="#fff" stroke-width="1.1"/>
<circle cx="969.5" cy="834.5" r="4.9" fill="#000"/>
<circle cx="962.1" cy="842" r="4.9" fill="#000"/>
<circle cx="977.4" cy="837.5" r="4.9" fill="#000"/>
<circle cx="1007.2" cy="798" r="4.9" fill="#000"/>
<circle cx="1000.5" cy="819.6" r="4.9" fill="#000"/>
<circle cx="1014.7" cy="819.6" r="4.9" fill="#000"/>
<circle cx="1007.2" cy="824" r="4.9" fill="#000"/>
<circle cx="1000.5" cy="830.8" r="4.9" fill="#000"/>
<circle cx="1014.7" cy="830" r="4.9" fill="#000"/>
<circle cx="1037.5" cy="820.3" r="4.9" fill="#000" stroke="#fff" stroke-width="1.1"/>
<circle cx="1052.4" cy="818.1" r="4.9" fill="#000" stroke="#fff" stroke-width="1.1"/>
<circle cx="1037.5" cy="831.5" r="4.9" fill="#000" stroke="#fff" stroke-width="1.1"/>
<circle cx="1052.4" cy="830.8" r="4.9" fill="#000" stroke="#fff" stroke-width="1.1"/>
<line x1="696.2" y1="584.3" x2="732.4" y2="584.3" stroke="#000" stroke-width="3.6" stroke-linecap="butt" />
<text x="715.75" y="580.3" font-size="29.5" text-anchor="middle" font-weight="bold" font-style="normal" fill="#000" letter-spacing="2.9">***</text>
<line x1="733.9" y1="621" x2="769.7" y2="621" stroke="#000" stroke-width="3.6" stroke-linecap="butt" />
<text x="751.8" y="609.2" font-size="25.5" text-anchor="middle" font-weight="normal" font-style="normal" fill="#000" >ns</text>
<line x1="833.8" y1="670" x2="869" y2="670" stroke="#000" stroke-width="3.6" stroke-linecap="butt" />
<text x="852.85" y="666" font-size="29.5" text-anchor="middle" font-weight="bold" font-style="normal" fill="#000" letter-spacing="2.9">*</text>
<line x1="869.1" y1="650.5" x2="904.9" y2="650.5" stroke="#000" stroke-width="3.6" stroke-linecap="butt" />
<text x="887" y="638.7" font-size="25.5" text-anchor="middle" font-weight="normal" font-style="normal" fill="#000" >ns</text>
<line x1="968.2" y1="752.9" x2="1004" y2="752.9" stroke="#000" stroke-width="3.6" stroke-linecap="butt" />
<text x="986.1" y="741.1" font-size="25.5" text-anchor="middle" font-weight="normal" font-style="normal" fill="#000" >ns</text>
<line x1="1005.3" y1="783" x2="1041.2" y2="783" stroke="#000" stroke-width="3.6" stroke-linecap="butt" />
<text x="1023.25" y="771.2" font-size="25.5" text-anchor="middle" font-weight="normal" font-style="normal" fill="#000" >ns</text>
<text x="865.6" y="509.8" font-size="29" text-anchor="middle" font-weight="normal" font-style="normal" fill="#000" >Vwf<tspan font-size="19" dy="-11">–</tspan><tspan dy="11"> </tspan>HSC</text>
<text x="602.5" y="695.5" font-size="29" text-anchor="middle" font-weight="normal" font-style="normal" fill="#000" transform="rotate(-90 602.5 695.5)" >% of Vwf<tspan font-size="19" dy="-11">–</tspan><tspan dy="11"> </tspan>HSC</text>
<text x="742.7" y="873.5" font-size="29" text-anchor="end" font-weight="normal" font-style="normal" fill="#000" transform="rotate(-45 742.7 873.5)" >G0</text>
<text x="875" y="872.5" font-size="29" text-anchor="end" font-weight="normal" font-style="normal" fill="#000" transform="rotate(-45 875 872.5)" >G1</text>
<text x="1004" y="873" font-size="29" text-anchor="end" font-weight="normal" font-style="normal" fill="#000" transform="rotate(-45 1004 873)" >S-G2-M</text>
<rect x="1062.8" y="540.2" width="23.4" height="23.4" fill="#fff" stroke="#000" stroke-width="3.6" rx="2"/>
<text x="1103.9" y="559.5" font-size="29" text-anchor="start" font-weight="normal" font-style="normal" fill="#000" >Control</text>
<text x="1214.9" y="559.5" font-size="29" text-anchor="start" font-weight="normal" font-style="normal" fill="#000" >+ PBS</text>
<rect x="1062.8" y="583.9" width="23.4" height="23.4" fill="#bfbfbf" stroke="#000" stroke-width="3.6" rx="2"/>
<text x="1103.9" y="603.2" font-size="29" text-anchor="start" font-weight="normal" font-style="normal" fill="#000" >Control</text>
<text x="1214.9" y="603.2" font-size="29" text-anchor="start" font-weight="normal" font-style="normal" fill="#000" >+ IL-1β</text>
<rect x="1062.8" y="626.8" width="23.4" height="23.4" fill="#000" stroke="#000" stroke-width="3.6" rx="2"/>
<text x="1105.3" y="647.6" font-size="28.7" text-anchor="start" font-weight="normal" font-style="italic" fill="#000" >Il1r</text>
<text x="1154" y="647.6" font-size="28.7" text-anchor="start" font-weight="normal" font-style="italic" fill="#000" >1</text>
<text x="1167.8" y="637.2" font-size="20.5" text-anchor="start" font-weight="normal" font-style="italic" fill="#000" >FL/FL</text>
<text x="1226.1" y="647.6" font-size="28.7" text-anchor="start" font-weight="normal" font-style="italic" fill="#000" >Lepr</text>
<text x="1284" y="647.6" font-size="28.7" text-anchor="start" font-weight="normal" font-style="normal" fill="#000" >-Cre</text>
<text x="1338.9" y="637.2" font-size="20.5" text-anchor="start" font-weight="normal" font-style="italic" fill="#000" >Tg/+</text>
<text x="1389.4" y="647.6" font-size="28.7" text-anchor="start" font-weight="normal" font-style="normal" fill="#000" >+ IL-1β</text>
<line x1="99.3" y1="1018.4" x2="99.3" y2="1324.9" stroke="#000" stroke-width="3" stroke-linecap="butt" />
<line x1="85" y1="1323.4" x2="324.5" y2="1323.4" stroke="#000" stroke-width="3" stroke-linecap="butt" />
<line x1="85" y1="1323.4" x2="99.3" y2="1323.4" stroke="#000" stroke-width="3" stroke-linecap="butt" />
<text x="80.6" y="1332.3" font-size="25.3" text-anchor="end" font-weight="normal" font-style="normal" fill="#000" >0.0</text>
<line x1="85" y1="1247.53" x2="99.3" y2="1247.53" stroke="#000" stroke-width="3" stroke-linecap="butt" />
<text x="80.6" y="1256.43" font-size="25.3" text-anchor="end" font-weight="normal" font-style="normal" fill="#000" >0.2</text>
<line x1="85" y1="1171.65" x2="99.3" y2="1171.65" stroke="#000" stroke-width="3" stroke-linecap="butt" />
<text x="80.6" y="1180.55" font-size="25.3" text-anchor="end" font-weight="normal" font-style="normal" fill="#000" >0.4</text>
<line x1="85" y1="1095.78" x2="99.3" y2="1095.78" stroke="#000" stroke-width="3" stroke-linecap="butt" />
<text x="80.6" y="1104.68" font-size="25.3" text-anchor="end" font-weight="normal" font-style="normal" fill="#000" >0.6</text>
<line x1="85" y1="1019.9" x2="99.3" y2="1019.9" stroke="#000" stroke-width="3" stroke-linecap="butt" />
<text x="80.6" y="1028.8" font-size="25.3" text-anchor="end" font-weight="normal" font-style="normal" fill="#000" >0.8</text>
<line x1="152" y1="1323.4" x2="152" y2="1338" stroke="#000" stroke-width="3" stroke-linecap="butt" />
<line x1="272.3" y1="1323.4" x2="272.3" y2="1338" stroke="#000" stroke-width="3" stroke-linecap="butt" />
<rect x="115.95" y="1309" width="27.1" height="14.4" fill="#aaaaaa" stroke="#000" stroke-width="2.7" />
<rect x="159.8" y="1311.95" width="29.8" height="11.45" fill="#000" />
<rect x="236.15" y="1143.3" width="27.1" height="180.1" fill="#aaaaaa" stroke="#000" stroke-width="2.7" />
<rect x="279.7" y="1193.65" width="29.8" height="129.75" fill="#000" />
<line x1="129.5" y1="1309" x2="129.5" y2="1291.3" stroke="#000" stroke-width="2.7" stroke-linecap="butt" />
<line x1="120.5" y1="1291.3" x2="138.5" y2="1291.3" stroke="#000" stroke-width="2.7" stroke-linecap="butt" />
<line x1="249.7" y1="1143.3" x2="249.7" y2="1094.9" stroke="#000" stroke-width="2.7" stroke-linecap="butt" />
<line x1="240.7" y1="1094.9" x2="258.7" y2="1094.9" stroke="#000" stroke-width="2.7" stroke-linecap="butt" />
<line x1="294.6" y1="1195" x2="294.6" y2="1157.6" stroke="#000" stroke-width="2.7" stroke-linecap="butt" />
<line x1="285.6" y1="1157.6" x2="303.6" y2="1157.6" stroke="#000" stroke-width="2.7" stroke-linecap="butt" />
<circle cx="129.5" cy="1270.7" r="5.4" fill="#000"/>
<circle cx="124.4" cy="1309.6" r="5.4" fill="#000"/>
<circle cx="139.3" cy="1308.3" r="5.4" fill="#000"/>
<circle cx="119.5" cy="1315" r="5.4" fill="#000"/>
<circle cx="129.5" cy="1316" r="5.4" fill="#000"/>
<circle cx="139.5" cy="1316" r="5.4" fill="#000"/>
<circle cx="119.5" cy="1320" r="5.4" fill="#000"/>
<circle cx="134" cy="1320" r="5.4" fill="#000"/>
<circle cx="174.5" cy="1301.5" r="5.4" fill="#000" stroke="#fff" stroke-width="1.1"/>
<circle cx="168.4" cy="1306.2" r="5.4" fill="#000" stroke="#fff" stroke-width="1.1"/>
<circle cx="175.9" cy="1308.3" r="5.4" fill="#000" stroke="#fff" stroke-width="1.1"/>
<circle cx="184.4" cy="1308.3" r="5.4" fill="#000" stroke="#fff" stroke-width="1.1"/>
<circle cx="164.7" cy="1312.3" r="5.4" fill="#000" stroke="#fff" stroke-width="1.1"/>
<circle cx="171.8" cy="1318.4" r="5.4" fill="#000" stroke="#fff" stroke-width="1.1"/>
<circle cx="180.3" cy="1320.5" r="5.4" fill="#000" stroke="#fff" stroke-width="1.1"/>
<circle cx="168.4" cy="1323.5" r="5.4" fill="#000" stroke="#fff" stroke-width="1.1"/>
<circle cx="175.9" cy="1324.5" r="5.4" fill="#000" stroke="#fff" stroke-width="1.1"/>
<circle cx="239.5" cy="1088.4" r="5.4" fill="#000"/>
<circle cx="259.4" cy="1081" r="5.4" fill="#000"/>
<circle cx="249.7" cy="1145.6" r="5.4" fill="#000"/>
<circle cx="249.7" cy="1162.7" r="5.4" fill="#000"/>
<circle cx="239.5" cy="1189.7" r="5.4" fill="#000"/>
<circle cx="259.4" cy="1185.3" r="5.4" fill="#000"/>
<circle cx="294.6" cy="1113" r="5.4" fill="#000" stroke="#fff" stroke-width="1.1"/>
<circle cx="294.6" cy="1158.5" r="5.4" fill="#000" stroke="#fff" stroke-width="1.1"/>
<circle cx="284.6" cy="1175.6" r="5.4" fill="#000" stroke="#fff" stroke-width="1.1"/>
<circle cx="294.6" cy="1185.3" r="5.4" fill="#000" stroke="#fff" stroke-width="1.1"/>
<circle cx="284.6" cy="1199.4" r="5.4" fill="#000" stroke="#fff" stroke-width="1.1"/>
<circle cx="294.6" cy="1198.5" r="5.4" fill="#000" stroke="#fff" stroke-width="1.1"/>
<circle cx="304.3" cy="1193.2" r="5.4" fill="#000" stroke="#fff" stroke-width="1.1"/>
<circle cx="284.6" cy="1221.4" r="5.4" fill="#000" stroke="#fff" stroke-width="1.1"/>
<circle cx="304.3" cy="1223.1" r="5.4" fill="#000" stroke="#fff" stroke-width="1.1"/>
<circle cx="294.6" cy="1228.4" r="5.4" fill="#000" stroke="#fff" stroke-width="1.1"/>
<circle cx="294.6" cy="1254" r="5.4" fill="#000" stroke="#fff" stroke-width="1.1"/>
<line x1="127.2" y1="1239.4" x2="163.4" y2="1239.4" stroke="#000" stroke-width="3.6" stroke-linecap="butt" />
<text x="145.3" y="1227.6" font-size="25.5" text-anchor="middle" font-weight="normal" font-style="normal" fill="#000" >ns</text>
<line x1="241.2" y1="1052.8" x2="282.3" y2="1052.8" stroke="#000" stroke-width="3.6" stroke-linecap="butt" />
<text x="263.2" y="1050.8" font-size="29.5" text-anchor="middle" font-weight="bold" font-style="normal" fill="#000" letter-spacing="2.9">**</text>
<text x="203" y="994.3" font-size="29.3" text-anchor="middle" font-weight="normal" font-style="normal" fill="#000" >Peripheral blood</text>
<text x="25.7" y="1167.4" font-size="29" text-anchor="middle" font-weight="normal" font-style="normal" fill="#000" transform="rotate(-90 25.7 1167.4)" >PLT (x10<tspan font-size="19" dy="-11">9</tspan><tspan dy="11">) / mL</tspan></text>
<text x="159" y="1351.5" font-size="29" text-anchor="end" font-weight="normal" font-style="normal" fill="#000" transform="rotate(-45 159 1351.5)" >Day1</text>
<text x="272" y="1351.5" font-size="29" text-anchor="end" font-weight="normal" font-style="normal" fill="#000" transform="rotate(-45 272 1351.5)" >Day5</text>
<rect x="27.2" y="1437.5" width="23.8" height="23.4" fill="#bfbfbf" stroke="#000" stroke-width="3.6" rx="2"/>
<rect x="27.2" y="1480.3" width="23.8" height="23.4" fill="#000" stroke="#000" stroke-width="3.6" rx="2"/>
<text x="68" y="1457.8" font-size="29" text-anchor="start" font-weight="normal" font-style="normal" fill="#000" >Control</text>
<text x="179" y="1457.8" font-size="29" text-anchor="start" font-weight="normal" font-style="normal" fill="#000" >+ GPIbα</text>
<text x="68.9" y="1500.8" font-size="28.7" text-anchor="start" font-weight="normal" font-style="italic" fill="#000" >Il1r</text>
<text x="117.6" y="1500.8" font-size="28.7" text-anchor="start" font-weight="normal" font-style="italic" fill="#000" >1</text>
<text x="131.4" y="1490.4" font-size="20.5" text-anchor="start" font-weight="normal" font-style="italic" fill="#000" >FL/FL</text>
<text x="189.7" y="1500.8" font-size="28.7" text-anchor="start" font-weight="normal" font-style="italic" fill="#000" >Lepr</text>
<text x="247.6" y="1500.8" font-size="28.7" text-anchor="start" font-weight="normal" font-style="normal" fill="#000" >-Cre</text>
<text x="302.5" y="1490.4" font-size="20.5" text-anchor="start" font-weight="normal" font-style="italic" fill="#000" >Tg/+</text>
<text x="353" y="1500.8" font-size="28.7" text-anchor="start" font-weight="normal" font-style="normal" fill="#000" >+ GPIbα</text>
<rect x="553" y="1021.5" width="400.9" height="487.5" fill="#fff" />
<line x1="588.4" y1="1021.5" x2="588.4" y2="1509" stroke="#ebebeb" stroke-width="1" stroke-linecap="butt" />
<line x1="648" y1="1021.5" x2="648" y2="1509" stroke="#ebebeb" stroke-width="1" stroke-linecap="butt" />
<line x1="707.6" y1="1021.5" x2="707.6" y2="1509" stroke="#ebebeb" stroke-width="1" stroke-linecap="butt" />
<line x1="767.2" y1="1021.5" x2="767.2" y2="1509" stroke="#ebebeb" stroke-width="1" stroke-linecap="butt" />
<line x1="826.8" y1="1021.5" x2="826.8" y2="1509" stroke="#ebebeb" stroke-width="1" stroke-linecap="butt" />
<line x1="886.4" y1="1021.5" x2="886.4" y2="1509" stroke="#ebebeb" stroke-width="1" stroke-linecap="butt" />
<line x1="946" y1="1021.5" x2="946" y2="1509" stroke="#ebebeb" stroke-width="1" stroke-linecap="butt" />
<line x1="553" y1="1487.6" x2="953.9" y2="1487.6" stroke="#ebebeb" stroke-width="1" stroke-linecap="butt" />
<line x1="553" y1="1429.5" x2="953.9" y2="1429.5" stroke="#ebebeb" stroke-width="1" stroke-linecap="butt" />
<line x1="553" y1="1371.4" x2="953.9" y2="1371.4" stroke="#ebebeb" stroke-width="1" stroke-linecap="butt" />
<line x1="553" y1="1313.3" x2="953.9" y2="1313.3" stroke="#ebebeb" stroke-width="1" stroke-linecap="butt" />
<line x1="553" y1="1255.2" x2="953.9" y2="1255.2" stroke="#ebebeb" stroke-width="1" stroke-linecap="butt" />
<line x1="553" y1="1197.1" x2="953.9" y2="1197.1" stroke="#ebebeb" stroke-width="1" stroke-linecap="butt" />
<line x1="553" y1="1139" x2="953.9" y2="1139" stroke="#ebebeb" stroke-width="1" stroke-linecap="butt" />
<line x1="553" y1="1080.9" x2="953.9" y2="1080.9" stroke="#ebebeb" stroke-width="1" stroke-linecap="butt" />
<line x1="553" y1="1022.8" x2="953.9" y2="1022.8" stroke="#ebebeb" stroke-width="1" stroke-linecap="butt" />
<path d="M677.9,1429 C677.5,1429.75 681.43,1431.77 683.6,1434.5 C685.77,1437.23 688.05,1441.68 690.9,1445.4 C693.75,1449.12 697.18,1453.28 700.7,1456.8 C704.22,1460.32 707.95,1463.52 712,1466.5 C716.05,1469.48 720.12,1472.25 725,1474.7 C729.88,1477.15 736.55,1479.52 741.3,1481.2 C746.05,1482.88 749.28,1483.43 753.5,1484.8 C757.72,1486.17 765.92,1490.27 766.6,1489.4 C767.28,1488.53 760.47,1482.73 757.6,1479.6 C754.73,1476.47 751.57,1473.45 749.4,1470.6 C747.23,1467.75 746.5,1465.62 744.6,1462.5 C742.7,1459.38 739.93,1455.48 738,1451.9 C736.07,1448.32 735.67,1443.32 733,1441 C730.33,1438.68 726.17,1438.67 722,1438 C717.83,1437.33 712.5,1437.67 708,1437 C703.5,1436.33 698.67,1435.17 695,1434 C691.33,1432.83 688.85,1430.83 686,1430 C683.15,1429.17 678.3,1428.25 677.9,1429 Z" fill="#000"/>
<path d="M799,1432 C801.03,1430.7 804.5,1435.33 808,1436 C811.5,1436.67 815.5,1436.5 820,1436 C824.5,1435.5 830.5,1434 835,1433 C839.5,1432 843.92,1431.5 847,1430 C850.08,1428.5 852.28,1424.25 853.5,1424 C854.72,1423.75 854.57,1426.83 854.3,1428.5 C854.03,1430.17 853.25,1431.58 851.9,1434 C850.55,1436.42 848.37,1439.75 846.2,1443 C844.03,1446.25 841.75,1449.85 838.9,1453.5 C836.05,1457.15 832.77,1461.65 829.1,1464.9 C825.43,1468.15 821.63,1470.28 816.9,1473 C812.17,1475.72 806.12,1479.02 800.7,1481.2 C795.28,1483.38 790.08,1484.73 784.4,1486.1 C778.72,1487.47 768.5,1490.22 766.6,1489.4 C764.7,1488.58 770.72,1483.65 773,1481.2 C775.28,1478.75 778.13,1477.42 780.3,1474.7 C782.47,1471.98 784.1,1468.43 786,1464.9 C787.9,1461.37 790.07,1457.02 791.7,1453.5 C793.33,1449.98 794.58,1447.38 795.8,1443.8 C797.02,1440.22 796.97,1433.3 799,1432 Z" fill="#000"/>
<circle cx="698.95" cy="1426.79" r="2.6" fill="#000"/>
<circle cx="729.15" cy="1423.97" r="2.6" fill="#000"/>
<circle cx="702.5" cy="1427.62" r="2.6" fill="#000"/>
<circle cx="681.82" cy="1425.36" r="2.6" fill="#000"/>
<circle cx="710.31" cy="1433.79" r="2.6" fill="#000"/>
<circle cx="676.02" cy="1419.1" r="2.6" fill="#000"/>
<circle cx="732.86" cy="1438.94" r="2.6" fill="#000"/>
<circle cx="711.85" cy="1428.47" r="2.6" fill="#000"/>
<circle cx="680.08" cy="1410.45" r="2.6" fill="#000"/>
<circle cx="682.17" cy="1417.26" r="2.6" fill="#000"/>
<circle cx="698.19" cy="1435.27" r="2.6" fill="#000"/>
<circle cx="703.22" cy="1429.21" r="2.6" fill="#000"/>
<circle cx="701.99" cy="1429.87" r="2.6" fill="#000"/>
<circle cx="699.27" cy="1418.34" r="2.6" fill="#000"/>
<circle cx="733.85" cy="1439.87" r="2.6" fill="#000"/>
<circle cx="723.77" cy="1431.23" r="2.6" fill="#000"/>
<circle cx="690.18" cy="1416.89" r="2.6" fill="#000"/>
<circle cx="688.5" cy="1412.11" r="2.6" fill="#000"/>
<circle cx="719.04" cy="1422.01" r="2.6" fill="#000"/>
<circle cx="724.18" cy="1421.6" r="2.6" fill="#000"/>
<circle cx="731.31" cy="1435.42" r="2.6" fill="#000"/>
<circle cx="728.26" cy="1424.1" r="2.6" fill="#000"/>
<circle cx="719.82" cy="1418.09" r="2.6" fill="#000"/>
<circle cx="675.58" cy="1419.98" r="2.6" fill="#000"/>
<circle cx="731.7" cy="1432.74" r="2.6" fill="#000"/>
<circle cx="677.55" cy="1417.39" r="2.6" fill="#000"/>
<circle cx="676.47" cy="1411.8" r="2.6" fill="#000"/>
<circle cx="705.79" cy="1423.42" r="2.6" fill="#000"/>
<circle cx="682.2" cy="1431.96" r="2.6" fill="#000"/>
<circle cx="677.46" cy="1422.62" r="2.6" fill="#000"/>
<circle cx="683.62" cy="1418.09" r="2.6" fill="#000"/>
<circle cx="732.14" cy="1434.1" r="2.6" fill="#000"/>
<circle cx="689.47" cy="1436.55" r="2.6" fill="#000"/>
<circle cx="683.49" cy="1421.83" r="2.6" fill="#000"/>
<circle cx="724.68" cy="1429.26" r="2.6" fill="#000"/>
<circle cx="683.65" cy="1417.75" r="2.6" fill="#000"/>
<circle cx="719.45" cy="1419.87" r="2.6" fill="#000"/>
<circle cx="688.96" cy="1412.2" r="2.6" fill="#000"/>
<circle cx="685.55" cy="1428.04" r="2.6" fill="#000"/>
<circle cx="693.79" cy="1423.6" r="2.6" fill="#000"/>
<circle cx="706.77" cy="1436" r="2.6" fill="#000"/>
<circle cx="681.7" cy="1414.62" r="2.6" fill="#000"/>
<circle cx="728.14" cy="1434.53" r="2.6" fill="#000"/>
<circle cx="685.97" cy="1415.69" r="2.6" fill="#000"/>
<circle cx="717.32" cy="1438.21" r="2.6" fill="#000"/>
<circle cx="726.46" cy="1428.11" r="2.6" fill="#000"/>
<circle cx="696.97" cy="1413.12" r="2.6" fill="#000"/>
<circle cx="685.26" cy="1431.14" r="2.6" fill="#000"/>
<circle cx="686.45" cy="1434.71" r="2.6" fill="#000"/>
<circle cx="708.17" cy="1418.8" r="2.6" fill="#000"/>
<circle cx="681.23" cy="1431.61" r="2.6" fill="#000"/>
<circle cx="674.4" cy="1416.85" r="2.6" fill="#000"/>
<circle cx="705.8" cy="1435.57" r="2.6" fill="#000"/>
<circle cx="709.32" cy="1418.41" r="2.6" fill="#000"/>
<circle cx="698.53" cy="1411.81" r="2.6" fill="#000"/>
<circle cx="681.28" cy="1421.06" r="2.6" fill="#000"/>
<circle cx="706.62" cy="1413.95" r="2.6" fill="#000"/>
<circle cx="693.18" cy="1436.73" r="2.6" fill="#000"/>
<circle cx="714.24" cy="1427.53" r="2.6" fill="#000"/>
<circle cx="678.98" cy="1411.05" r="2.6" fill="#000"/>
<circle cx="714.86" cy="1438.88" r="2.6" fill="#000"/>
<circle cx="700.86" cy="1431.91" r="2.6" fill="#000"/>
<circle cx="717.17" cy="1437.01" r="2.6" fill="#000"/>
<circle cx="717.17" cy="1431.11" r="2.6" fill="#000"/>
<circle cx="720.77" cy="1437.45" r="2.6" fill="#000"/>
<circle cx="692.52" cy="1430.55" r="2.6" fill="#000"/>
<circle cx="727.65" cy="1436.13" r="2.6" fill="#000"/>
<circle cx="696.7" cy="1433.72" r="2.6" fill="#000"/>
<circle cx="725.26" cy="1427.18" r="2.6" fill="#000"/>
<circle cx="710" cy="1421.47" r="2.6" fill="#000"/>
<circle cx="707.29" cy="1428.27" r="2.6" fill="#000"/>
<circle cx="716.61" cy="1421.65" r="2.6" fill="#000"/>
<circle cx="717.04" cy="1427.43" r="2.6" fill="#000"/>
<circle cx="698.19" cy="1435.15" r="2.6" fill="#000"/>
<circle cx="700.78" cy="1416.91" r="2.6" fill="#000"/>
<circle cx="714.69" cy="1424.92" r="2.6" fill="#000"/>
<circle cx="709.33" cy="1437.61" r="2.6" fill="#000"/>
<circle cx="689.27" cy="1430.34" r="2.6" fill="#000"/>
<circle cx="682.96" cy="1415.09" r="2.6" fill="#000"/>
<circle cx="727.97" cy="1429.8" r="2.6" fill="#000"/>
<circle cx="698.28" cy="1436.75" r="2.6" fill="#000"/>
<circle cx="690.93" cy="1429.98" r="2.6" fill="#000"/>
<circle cx="682.7" cy="1422.93" r="2.6" fill="#000"/>
<circle cx="721.58" cy="1437.43" r="2.6" fill="#000"/>
<circle cx="726.34" cy="1421.53" r="2.6" fill="#000"/>
<circle cx="707.32" cy="1419.49" r="2.6" fill="#000"/>
<circle cx="678.72" cy="1424.89" r="2.6" fill="#000"/>
<circle cx="723.57" cy="1435.46" r="2.6" fill="#000"/>
<circle cx="715.52" cy="1438.5" r="2.6" fill="#000"/>
<circle cx="687.71" cy="1415.07" r="2.6" fill="#000"/>
<circle cx="698.84" cy="1418.25" r="2.6" fill="#000"/>
<circle cx="683.7" cy="1422.42" r="2.6" fill="#000"/>
<circle cx="710.05" cy="1424.82" r="2.6" fill="#000"/>
<circle cx="690.18" cy="1435.17" r="2.6" fill="#000"/>
<circle cx="674.78" cy="1410.94" r="2.6" fill="#000"/>
<circle cx="715.35" cy="1427.12" r="2.6" fill="#000"/>
<circle cx="689.78" cy="1433.75" r="2.6" fill="#000"/>
<circle cx="723.1" cy="1417.12" r="2.6" fill="#000"/>
<circle cx="679.02" cy="1411.41" r="2.6" fill="#000"/>
<circle cx="710.27" cy="1423.39" r="2.6" fill="#000"/>
<circle cx="710.32" cy="1429.65" r="2.6" fill="#000"/>
<circle cx="721.67" cy="1438.75" r="2.6" fill="#000"/>
<circle cx="713.81" cy="1415.98" r="2.6" fill="#000"/>
<circle cx="700.41" cy="1415.36" r="2.6" fill="#000"/>
<circle cx="715.71" cy="1415.37" r="2.6" fill="#000"/>
<circle cx="687.43" cy="1420.37" r="2.6" fill="#000"/>
<circle cx="714.63" cy="1425.61" r="2.6" fill="#000"/>
<circle cx="709.32" cy="1432.69" r="2.6" fill="#000"/>
<circle cx="695.19" cy="1433.76" r="2.6" fill="#000"/>
<circle cx="729.69" cy="1431.67" r="2.6" fill="#000"/>
<circle cx="678.31" cy="1423.61" r="2.6" fill="#000"/>
<circle cx="710.04" cy="1437.3" r="2.6" fill="#000"/>
<circle cx="694.12" cy="1427.06" r="2.6" fill="#000"/>
<circle cx="726.28" cy="1433.9" r="2.6" fill="#000"/>
<circle cx="711.68" cy="1416.15" r="2.6" fill="#000"/>
<circle cx="716.2" cy="1434.55" r="2.6" fill="#000"/>
<circle cx="711.06" cy="1431.53" r="2.6" fill="#000"/>
<circle cx="732.75" cy="1439.32" r="2.6" fill="#000"/>
<circle cx="704.37" cy="1433.72" r="2.6" fill="#000"/>
<circle cx="724.77" cy="1420.46" r="2.6" fill="#000"/>
<circle cx="675.3" cy="1423.23" r="2.6" fill="#000"/>
<circle cx="705.22" cy="1433.05" r="2.6" fill="#000"/>
<circle cx="691.44" cy="1433.64" r="2.6" fill="#000"/>
<circle cx="678.99" cy="1414.46" r="2.6" fill="#000"/>
<circle cx="703.06" cy="1431.71" r="2.6" fill="#000"/>
<circle cx="723.76" cy="1430.68" r="2.6" fill="#000"/>
<circle cx="684.17" cy="1425.8" r="2.6" fill="#000"/>
<circle cx="688.57" cy="1431.87" r="2.6" fill="#000"/>
<circle cx="710.89" cy="1425.68" r="2.6" fill="#000"/>
<circle cx="723.99" cy="1426.8" r="2.6" fill="#000"/>
<circle cx="689.95" cy="1421.44" r="2.6" fill="#000"/>
<circle cx="724.1" cy="1437.02" r="2.6" fill="#000"/>
<circle cx="706.67" cy="1416.03" r="2.6" fill="#000"/>
<circle cx="704.3" cy="1425.1" r="2.6" fill="#000"/>
<circle cx="695.64" cy="1434.03" r="2.6" fill="#000"/>
<circle cx="706.02" cy="1424.73" r="2.6" fill="#000"/>
<circle cx="704.48" cy="1422.41" r="2.6" fill="#000"/>
<circle cx="731.24" cy="1437.7" r="2.6" fill="#000"/>
<circle cx="687.23" cy="1424.19" r="2.6" fill="#000"/>
<circle cx="678.13" cy="1423.01" r="2.6" fill="#000"/>
<circle cx="722.21" cy="1437.02" r="2.6" fill="#000"/>
<circle cx="700.5" cy="1419.52" r="2.6" fill="#000"/>
<circle cx="682.25" cy="1428.54" r="2.6" fill="#000"/>
<circle cx="682.42" cy="1416.82" r="2.6" fill="#000"/>
<circle cx="713.97" cy="1419.66" r="2.6" fill="#000"/>
<circle cx="692.74" cy="1428.59" r="2.6" fill="#000"/>
<circle cx="677.86" cy="1425.31" r="2.6" fill="#000"/>
<circle cx="686.04" cy="1415.93" r="2.6" fill="#000"/>
<circle cx="703.94" cy="1423.1" r="2.6" fill="#000"/>
<circle cx="694.05" cy="1422.4" r="2.6" fill="#000"/>
<circle cx="703.88" cy="1414.79" r="2.6" fill="#000"/>
<circle cx="683.07" cy="1428.94" r="2.6" fill="#000"/>
<circle cx="710.86" cy="1425.89" r="2.6" fill="#000"/>
<circle cx="724.48" cy="1428.35" r="2.6" fill="#000"/>
<circle cx="717.41" cy="1434.32" r="2.6" fill="#000"/>
<circle cx="727.77" cy="1419.48" r="2.6" fill="#000"/>
<circle cx="685.32" cy="1431.8" r="2.6" fill="#000"/>
<circle cx="686.61" cy="1412.91" r="2.6" fill="#000"/>
<circle cx="723.26" cy="1422.65" r="2.6" fill="#000"/>
<circle cx="695.78" cy="1430.56" r="2.6" fill="#000"/>
<circle cx="713.67" cy="1437.34" r="2.6" fill="#000"/>
<circle cx="702.36" cy="1432.74" r="2.6" fill="#000"/>
<circle cx="702.18" cy="1430.57" r="2.6" fill="#000"/>
<circle cx="682.1" cy="1412.12" r="2.6" fill="#000"/>
<circle cx="676.8" cy="1411.12" r="2.6" fill="#000"/>
<circle cx="705.31" cy="1425.44" r="2.6" fill="#000"/>
<circle cx="706.4" cy="1414.4" r="2.6" fill="#000"/>
<circle cx="681.81" cy="1416.12" r="2.6" fill="#000"/>
<circle cx="723.77" cy="1439.71" r="2.6" fill="#000"/>
<circle cx="699.57" cy="1432.94" r="2.6" fill="#000"/>
<circle cx="734.64" cy="1433.78" r="2.6" fill="#000"/>
<circle cx="737.67" cy="1432.43" r="2.6" fill="#000"/>
<circle cx="735.81" cy="1433.87" r="2.6" fill="#000"/>
<circle cx="732.72" cy="1427.71" r="2.6" fill="#000"/>
<circle cx="729.89" cy="1425.5" r="2.6" fill="#000"/>
<circle cx="733.61" cy="1428.05" r="2.6" fill="#000"/>
<circle cx="736.34" cy="1429.44" r="2.6" fill="#000"/>
<circle cx="732.99" cy="1426.72" r="2.6" fill="#000"/>
<circle cx="812.99" cy="1429.5" r="2.6" fill="#000"/>
<circle cx="835.94" cy="1433.93" r="2.6" fill="#000"/>
<circle cx="809.03" cy="1417.23" r="2.6" fill="#000"/>
<circle cx="806.95" cy="1417.08" r="2.6" fill="#000"/>
<circle cx="827.69" cy="1416.78" r="2.6" fill="#000"/>
<circle cx="814.91" cy="1422.65" r="2.6" fill="#000"/>
<circle cx="844.23" cy="1427.43" r="2.6" fill="#000"/>
<circle cx="806.92" cy="1434.52" r="2.6" fill="#000"/>
<circle cx="842.73" cy="1432.76" r="2.6" fill="#000"/>
<circle cx="843.62" cy="1431.11" r="2.6" fill="#000"/>
<circle cx="812.86" cy="1433.95" r="2.6" fill="#000"/>
<circle cx="825.29" cy="1431.39" r="2.6" fill="#000"/>
<circle cx="829.46" cy="1422.6" r="2.6" fill="#000"/>
<circle cx="818.67" cy="1422.61" r="2.6" fill="#000"/>
<circle cx="815.94" cy="1414.17" r="2.6" fill="#000"/>
<circle cx="843.26" cy="1432.55" r="2.6" fill="#000"/>
<circle cx="828.93" cy="1431.21" r="2.6" fill="#000"/>
<circle cx="806.28" cy="1429.27" r="2.6" fill="#000"/>
<circle cx="822.94" cy="1415.77" r="2.6" fill="#000"/>
<circle cx="809.94" cy="1425.11" r="2.6" fill="#000"/>
<circle cx="812.68" cy="1423.41" r="2.6" fill="#000"/>
<circle cx="831.7" cy="1421.69" r="2.6" fill="#000"/>
<circle cx="806.06" cy="1424.25" r="2.6" fill="#000"/>
<circle cx="811.71" cy="1417.36" r="2.6" fill="#000"/>
<circle cx="809.5" cy="1420.89" r="2.6" fill="#000"/>
<circle cx="802.96" cy="1428.58" r="2.6" fill="#000"/>
<circle cx="850.5" cy="1421.52" r="2.6" fill="#000"/>
<circle cx="801.33" cy="1414.83" r="2.6" fill="#000"/>
<circle cx="842.53" cy="1433.63" r="2.6" fill="#000"/>
<circle cx="833.51" cy="1415.31" r="2.6" fill="#000"/>
<circle cx="821.33" cy="1434.44" r="2.6" fill="#000"/>
<circle cx="809.97" cy="1434.05" r="2.6" fill="#000"/>
<circle cx="819.24" cy="1430.35" r="2.6" fill="#000"/>
<circle cx="831.59" cy="1430.51" r="2.6" fill="#000"/>
<circle cx="810.43" cy="1427.67" r="2.6" fill="#000"/>
<circle cx="830.37" cy="1426.96" r="2.6" fill="#000"/>
<circle cx="818.4" cy="1430.65" r="2.6" fill="#000"/>
<circle cx="817.43" cy="1418.97" r="2.6" fill="#000"/>
<circle cx="807.88" cy="1429.47" r="2.6" fill="#000"/>
<circle cx="805.06" cy="1417.09" r="2.6" fill="#000"/>
<circle cx="802.73" cy="1428.38" r="2.6" fill="#000"/>
<circle cx="829.03" cy="1425.67" r="2.6" fill="#000"/>
<circle cx="801.1" cy="1422.87" r="2.6" fill="#000"/>
<circle cx="817.53" cy="1413.5" r="2.6" fill="#000"/>
<circle cx="805.56" cy="1419.14" r="2.6" fill="#000"/>
<circle cx="813.52" cy="1427.13" r="2.6" fill="#000"/>
<circle cx="803.18" cy="1423.69" r="2.6" fill="#000"/>
<circle cx="818.8" cy="1433.53" r="2.6" fill="#000"/>
<circle cx="826.9" cy="1423.8" r="2.6" fill="#000"/>
<circle cx="835.15" cy="1419.01" r="2.6" fill="#000"/>
<circle cx="800.71" cy="1424.54" r="2.6" fill="#000"/>
<circle cx="848.16" cy="1430.94" r="2.6" fill="#000"/>
<circle cx="812.95" cy="1429.47" r="2.6" fill="#000"/>
<circle cx="844.85" cy="1417.98" r="2.6" fill="#000"/>
<circle cx="830.75" cy="1420.6" r="2.6" fill="#000"/>
<circle cx="812.19" cy="1418.76" r="2.6" fill="#000"/>
<circle cx="810.01" cy="1420.47" r="2.6" fill="#000"/>
<circle cx="801.06" cy="1421.74" r="2.6" fill="#000"/>
<circle cx="803.68" cy="1431.47" r="2.6" fill="#000"/>
<circle cx="824.96" cy="1425.97" r="2.6" fill="#000"/>
<circle cx="816.97" cy="1418.81" r="2.6" fill="#000"/>
<circle cx="822.49" cy="1414.7" r="2.6" fill="#000"/>
<circle cx="815.38" cy="1421.49" r="2.6" fill="#000"/>
<circle cx="800.8" cy="1414.46" r="2.6" fill="#000"/>
<circle cx="818.5" cy="1422.93" r="2.6" fill="#000"/>
<circle cx="801.35" cy="1425.45" r="2.6" fill="#000"/>
<circle cx="805.99" cy="1432.7" r="2.6" fill="#000"/>
<circle cx="816.43" cy="1435.11" r="2.6" fill="#000"/>
<circle cx="828.45" cy="1414.39" r="2.6" fill="#000"/>
<circle cx="824.86" cy="1421.03" r="2.6" fill="#000"/>
<circle cx="817.63" cy="1432.65" r="2.6" fill="#000"/>
<circle cx="810.54" cy="1430.4" r="2.6" fill="#000"/>
<circle cx="835" cy="1436.25" r="2.6" fill="#000"/>
<circle cx="827.07" cy="1435.85" r="2.6" fill="#000"/>
<circle cx="822.79" cy="1426.48" r="2.6" fill="#000"/>
<circle cx="832.51" cy="1433.67" r="2.6" fill="#000"/>
<circle cx="806.41" cy="1425.41" r="2.6" fill="#000"/>
<circle cx="842.87" cy="1425.41" r="2.6" fill="#000"/>
<circle cx="815.17" cy="1436.97" r="2.6" fill="#000"/>
<circle cx="815.08" cy="1413.35" r="2.6" fill="#000"/>
<circle cx="801.81" cy="1411.82" r="2.6" fill="#000"/>
<circle cx="837.67" cy="1434.39" r="2.6" fill="#000"/>
<circle cx="821.91" cy="1427.8" r="2.6" fill="#000"/>
<circle cx="843.99" cy="1430.33" r="2.6" fill="#000"/>
<circle cx="814.68" cy="1431.57" r="2.6" fill="#000"/>
<circle cx="804.91" cy="1419.33" r="2.6" fill="#000"/>
<circle cx="852.79" cy="1423.72" r="2.6" fill="#000"/>
<circle cx="813.46" cy="1432.19" r="2.6" fill="#000"/>
<circle cx="800.58" cy="1417.99" r="2.6" fill="#000"/>
<circle cx="816.93" cy="1436.31" r="2.6" fill="#000"/>
<circle cx="812.35" cy="1433.95" r="2.6" fill="#000"/>
<circle cx="845.09" cy="1422.24" r="2.6" fill="#000"/>
<circle cx="825.14" cy="1418.06" r="2.6" fill="#000"/>
<circle cx="823.9" cy="1435.36" r="2.6" fill="#000"/>
<circle cx="827.98" cy="1416.24" r="2.6" fill="#000"/>
<circle cx="819.28" cy="1423.85" r="2.6" fill="#000"/>
<circle cx="809.3" cy="1426.47" r="2.6" fill="#000"/>
<circle cx="808.65" cy="1413.78" r="2.6" fill="#000"/>
<circle cx="830.8" cy="1419.3" r="2.6" fill="#000"/>
<circle cx="846.8" cy="1424.42" r="2.6" fill="#000"/>
<circle cx="827.15" cy="1433.53" r="2.6" fill="#000"/>
<circle cx="810.57" cy="1431.12" r="2.6" fill="#000"/>
<circle cx="834.05" cy="1422.57" r="2.6" fill="#000"/>
<circle cx="801.89" cy="1424.52" r="2.6" fill="#000"/>
<circle cx="825.27" cy="1427.42" r="2.6" fill="#000"/>
<circle cx="812.16" cy="1425.32" r="2.6" fill="#000"/>
<circle cx="840.03" cy="1420.18" r="2.6" fill="#000"/>
<circle cx="810.9" cy="1412.37" r="2.6" fill="#000"/>
<circle cx="836.83" cy="1422.53" r="2.6" fill="#000"/>
<circle cx="843.89" cy="1429.4" r="2.6" fill="#000"/>
<circle cx="837.93" cy="1429.01" r="2.6" fill="#000"/>
<circle cx="830.9" cy="1417.94" r="2.6" fill="#000"/>
<circle cx="806.21" cy="1430.61" r="2.6" fill="#000"/>
<circle cx="833.65" cy="1427.47" r="2.6" fill="#000"/>
<circle cx="826.62" cy="1431.93" r="2.6" fill="#000"/>
<circle cx="846.32" cy="1421.29" r="2.6" fill="#000"/>
<circle cx="842.99" cy="1424.48" r="2.6" fill="#000"/>
<circle cx="829.88" cy="1422.17" r="2.6" fill="#000"/>
<circle cx="849.38" cy="1423" r="2.6" fill="#000"/>
<circle cx="850.43" cy="1420.13" r="2.6" fill="#000"/>
<circle cx="835.3" cy="1435.64" r="2.6" fill="#000"/>
<circle cx="835.92" cy="1421.13" r="2.6" fill="#000"/>
<circle cx="803.2" cy="1423.92" r="2.6" fill="#000"/>
<circle cx="821.37" cy="1432.98" r="2.6" fill="#000"/>
<circle cx="823.18" cy="1422.08" r="2.6" fill="#000"/>
<circle cx="829.47" cy="1431.24" r="2.6" fill="#000"/>
<circle cx="803.32" cy="1416.82" r="2.6" fill="#000"/>
<circle cx="806.87" cy="1419.76" r="2.6" fill="#000"/>
<circle cx="815.19" cy="1437.14" r="2.6" fill="#000"/>
<circle cx="810.22" cy="1436.2" r="2.6" fill="#000"/>
<circle cx="814.91" cy="1416.5" r="2.6" fill="#000"/>
<circle cx="805.1" cy="1414.47" r="2.6" fill="#000"/>
<circle cx="802.61" cy="1421.44" r="2.6" fill="#000"/>
<circle cx="810.47" cy="1415.3" r="2.6" fill="#000"/>
<circle cx="799.85" cy="1429.85" r="2.6" fill="#000"/>
<circle cx="801.66" cy="1417.25" r="2.6" fill="#000"/>
<circle cx="829.53" cy="1434.85" r="2.6" fill="#000"/>
<circle cx="834.61" cy="1430.14" r="2.6" fill="#000"/>
<circle cx="836.83" cy="1432.52" r="2.6" fill="#000"/>
<circle cx="801.92" cy="1427.76" r="2.6" fill="#000"/>
<circle cx="827.02" cy="1425.07" r="2.6" fill="#000"/>
<circle cx="837.13" cy="1422.51" r="2.6" fill="#000"/>
<circle cx="821.77" cy="1417.61" r="2.6" fill="#000"/>
<circle cx="814.2" cy="1426.63" r="2.6" fill="#000"/>
<circle cx="828.91" cy="1435.48" r="2.6" fill="#000"/>
<circle cx="814.13" cy="1430.32" r="2.6" fill="#000"/>
<circle cx="804.24" cy="1428.6" r="2.6" fill="#000"/>
<circle cx="807.68" cy="1434.16" r="2.6" fill="#000"/>
<circle cx="842.64" cy="1416.93" r="2.6" fill="#000"/>
<circle cx="815.49" cy="1413.79" r="2.6" fill="#000"/>
<circle cx="822.84" cy="1413.82" r="2.6" fill="#000"/>
<circle cx="837.04" cy="1426.54" r="2.6" fill="#000"/>
<circle cx="821.69" cy="1430.17" r="2.6" fill="#000"/>
<circle cx="811.6" cy="1419.96" r="2.6" fill="#000"/>
<circle cx="804.46" cy="1432.54" r="2.6" fill="#000"/>
<circle cx="843.19" cy="1423.08" r="2.6" fill="#000"/>
<circle cx="821.76" cy="1414.76" r="2.6" fill="#000"/>
<circle cx="812.17" cy="1415.08" r="2.6" fill="#000"/>
<circle cx="818.56" cy="1431.29" r="2.6" fill="#000"/>
<circle cx="839.07" cy="1426.21" r="2.6" fill="#000"/>
<circle cx="842.13" cy="1427.18" r="2.6" fill="#000"/>
<circle cx="840.57" cy="1424.28" r="2.6" fill="#000"/>
<circle cx="828.79" cy="1433.07" r="2.6" fill="#000"/>
<circle cx="832.45" cy="1421.16" r="2.6" fill="#000"/>
<circle cx="800.1" cy="1432.32" r="2.6" fill="#000"/>
<circle cx="817.37" cy="1422.58" r="2.6" fill="#000"/>
<circle cx="814.53" cy="1425.99" r="2.6" fill="#000"/>
<circle cx="820.65" cy="1433.52" r="2.6" fill="#000"/>
<circle cx="831.08" cy="1426.08" r="2.6" fill="#000"/>
<circle cx="841.28" cy="1422.89" r="2.6" fill="#000"/>
<circle cx="698.35" cy="1393.33" r="2.5" fill="#f2260f"/>
<circle cx="710.97" cy="1394.4" r="2.5" fill="#f2260f"/>
<circle cx="688.87" cy="1385.55" r="2.5" fill="#f2260f"/>
<circle cx="668.99" cy="1379.35" r="2.5" fill="#f2260f"/>
<circle cx="715.88" cy="1397.71" r="2.5" fill="#f2260f"/>
<circle cx="685.08" cy="1395.66" r="2.5" fill="#f2260f"/>
<circle cx="677.03" cy="1393.51" r="2.5" fill="#f2260f"/>
<circle cx="665.64" cy="1379.19" r="2.5" fill="#f2260f"/>
<circle cx="722.72" cy="1406.61" r="2.5" fill="#f2260f"/>
<circle cx="707.1" cy="1402.41" r="2.5" fill="#f2260f"/>
<circle cx="694.4" cy="1401.35" r="2.5" fill="#f2260f"/>
<circle cx="719.39" cy="1406.4" r="2.5" fill="#f2260f"/>
<circle cx="681.9" cy="1389.69" r="2.5" fill="#f2260f"/>
<circle cx="684.95" cy="1390.34" r="2.5" fill="#f2260f"/>
<circle cx="653.96" cy="1380.98" r="2.5" fill="#f2260f"/>
<circle cx="704.42" cy="1409.77" r="2.5" fill="#f2260f"/>
<circle cx="688.21" cy="1393.73" r="2.5" fill="#f2260f"/>
<circle cx="692.18" cy="1401.94" r="2.5" fill="#f2260f"/>
<circle cx="668.21" cy="1397.48" r="2.5" fill="#f2260f"/>
<circle cx="692.62" cy="1397.92" r="2.5" fill="#f2260f"/>
<circle cx="665.19" cy="1383.44" r="2.5" fill="#f2260f"/>
<circle cx="677.3" cy="1397.11" r="2.5" fill="#f2260f"/>
<circle cx="674.38" cy="1381.3" r="2.5" fill="#f2260f"/>
<circle cx="701.88" cy="1399.63" r="2.5" fill="#f2260f"/>
<circle cx="717.6" cy="1408.66" r="2.5" fill="#f2260f"/>
<circle cx="679.42" cy="1385.91" r="2.5" fill="#f2260f"/>
<circle cx="708.5" cy="1393.46" r="2.5" fill="#f2260f"/>
<circle cx="670.83" cy="1387.28" r="2.5" fill="#f2260f"/>
<circle cx="682.63" cy="1383.46" r="2.5" fill="#f2260f"/>
<circle cx="717.64" cy="1409.47" r="2.5" fill="#f2260f"/>
<circle cx="706.45" cy="1393.33" r="2.5" fill="#f2260f"/>
<circle cx="690.37" cy="1401.32" r="2.5" fill="#f2260f"/>
<circle cx="713.19" cy="1403.45" r="2.5" fill="#f2260f"/>
<circle cx="716.35" cy="1397.24" r="2.5" fill="#f2260f"/>
<circle cx="683.1" cy="1396.6" r="2.5" fill="#f2260f"/>
<circle cx="652.42" cy="1365.79" r="2.5" fill="#f2260f"/>
<circle cx="663.63" cy="1376.59" r="2.5" fill="#f2260f"/>
<circle cx="664.45" cy="1404.34" r="2.5" fill="#f2260f"/>
<circle cx="664.99" cy="1362.33" r="2.5" fill="#f2260f"/>
<circle cx="655.46" cy="1369.13" r="2.5" fill="#f2260f"/>
<circle cx="668.4" cy="1387.98" r="2.5" fill="#f2260f"/>
<circle cx="664.76" cy="1389.39" r="2.5" fill="#f2260f"/>
<circle cx="664.02" cy="1368.88" r="2.5" fill="#f2260f"/>
<circle cx="660.15" cy="1384.83" r="2.5" fill="#f2260f"/>
<circle cx="657.83" cy="1391.73" r="2.5" fill="#f2260f"/>
<circle cx="656.97" cy="1387.96" r="2.5" fill="#f2260f"/>
<circle cx="655.14" cy="1388.59" r="2.5" fill="#f2260f"/>
<circle cx="661.03" cy="1380.81" r="2.5" fill="#f2260f"/>
<circle cx="664.16" cy="1385.36" r="2.5" fill="#f2260f"/>
<circle cx="656.54" cy="1380.72" r="2.5" fill="#f2260f"/>
<circle cx="657.62" cy="1364.64" r="2.5" fill="#f2260f"/>
<circle cx="661.12" cy="1376.76" r="2.5" fill="#f2260f"/>
<circle cx="655.88" cy="1377.15" r="2.5" fill="#f2260f"/>
<circle cx="652.59" cy="1361.77" r="2.5" fill="#f2260f"/>
<circle cx="660.85" cy="1398.2" r="2.5" fill="#f2260f"/>
<circle cx="865.12" cy="1410.36" r="2.5" fill="#f2260f"/>
<circle cx="843.48" cy="1393.56" r="2.5" fill="#f2260f"/>
<circle cx="817.48" cy="1394.23" r="2.5" fill="#f2260f"/>
<circle cx="819.37" cy="1394.56" r="2.5" fill="#f2260f"/>
<circle cx="838.32" cy="1403.49" r="2.5" fill="#f2260f"/>
<circle cx="828.33" cy="1381.84" r="2.5" fill="#f2260f"/>
<circle cx="855.9" cy="1398.85" r="2.5" fill="#f2260f"/>
<circle cx="847.76" cy="1399.87" r="2.5" fill="#f2260f"/>
<circle cx="842.18" cy="1401.14" r="2.5" fill="#f2260f"/>
<circle cx="825.44" cy="1382.74" r="2.5" fill="#f2260f"/>
<circle cx="835.81" cy="1402.97" r="2.5" fill="#f2260f"/>
<circle cx="843.39" cy="1394.32" r="2.5" fill="#f2260f"/>
<circle cx="816.61" cy="1390.35" r="2.5" fill="#f2260f"/>
<circle cx="807.53" cy="1388.82" r="2.5" fill="#f2260f"/>
<circle cx="842.23" cy="1406.26" r="2.5" fill="#f2260f"/>
<circle cx="826.5" cy="1391.83" r="2.5" fill="#f2260f"/>
<circle cx="823.75" cy="1389.75" r="2.5" fill="#f2260f"/>
<circle cx="855.54" cy="1397.57" r="2.5" fill="#f2260f"/>
<circle cx="821.8" cy="1383.43" r="2.5" fill="#f2260f"/>
<circle cx="855.95" cy="1402.63" r="2.5" fill="#f2260f"/>
<circle cx="840.46" cy="1409.4" r="2.5" fill="#f2260f"/>
<circle cx="843.53" cy="1410.25" r="2.5" fill="#f2260f"/>
<circle cx="815.87" cy="1411.2" r="2.5" fill="#f2260f"/>
<circle cx="808.63" cy="1393.32" r="2.5" fill="#f2260f"/>
<circle cx="806.52" cy="1405.91" r="2.5" fill="#f2260f"/>
<circle cx="849.67" cy="1411.16" r="2.5" fill="#f2260f"/>
<circle cx="857.32" cy="1410.36" r="2.5" fill="#f2260f"/>
<circle cx="840.01" cy="1411.62" r="2.5" fill="#f2260f"/>
<circle cx="835.29" cy="1386.29" r="2.5" fill="#f2260f"/>
<circle cx="865.68" cy="1410.41" r="2.5" fill="#f2260f"/>
<circle cx="819.04" cy="1383.31" r="2.5" fill="#f2260f"/>
<circle cx="840.34" cy="1406.01" r="2.5" fill="#f2260f"/>
<circle cx="821.45" cy="1393.5" r="2.5" fill="#f2260f"/>
<circle cx="827.28" cy="1408.55" r="2.5" fill="#f2260f"/>
<circle cx="857.89" cy="1408.65" r="2.5" fill="#f2260f"/>
<circle cx="850.05" cy="1406.55" r="2.5" fill="#f2260f"/>
<circle cx="824.19" cy="1393.11" r="2.5" fill="#f2260f"/>
<circle cx="855.16" cy="1397.83" r="2.5" fill="#f2260f"/>
<circle cx="840.75" cy="1406.45" r="2.5" fill="#f2260f"/>
<circle cx="812.05" cy="1400.2" r="2.5" fill="#f2260f"/>
<circle cx="826.61" cy="1397.9" r="2.5" fill="#f2260f"/>
<circle cx="841.53" cy="1397.34" r="2.5" fill="#f2260f"/>
<circle cx="820.28" cy="1397.95" r="2.5" fill="#f2260f"/>
<circle cx="835.6" cy="1394.39" r="2.5" fill="#f2260f"/>
<circle cx="829.52" cy="1405.14" r="2.5" fill="#f2260f"/>
<circle cx="569.4" cy="1043.1" r="2.5" fill="#f2260f"/>
<circle cx="610.8" cy="1058.5" r="2.5" fill="#f2260f"/>
<circle cx="674.5" cy="1071.4" r="2.5" fill="#f2260f"/>
<circle cx="677.8" cy="1099" r="2.5" fill="#f2260f"/>
<circle cx="597.7" cy="1160.9" r="2.5" fill="#f2260f"/>
<circle cx="600" cy="1163.8" r="2.5" fill="#f2260f"/>
<circle cx="661.8" cy="1163.5" r="2.5" fill="#f2260f"/>
<circle cx="673.4" cy="1162.8" r="2.5" fill="#f2260f"/>
<circle cx="601.4" cy="1173.8" r="2.5" fill="#f2260f"/>
<circle cx="627.2" cy="1204.4" r="2.5" fill="#f2260f"/>
<circle cx="611.1" cy="1220.8" r="2.5" fill="#f2260f"/>
<circle cx="615.2" cy="1237.6" r="2.5" fill="#f2260f"/>
<circle cx="620.8" cy="1260.2" r="2.5" fill="#f2260f"/>
<circle cx="675.2" cy="1268.2" r="2.5" fill="#f2260f"/>
<circle cx="668.1" cy="1273.1" r="2.5" fill="#f2260f"/>
<circle cx="676.3" cy="1278" r="2.5" fill="#f2260f"/>
<circle cx="673.4" cy="1293.7" r="2.5" fill="#f2260f"/>
<circle cx="668.8" cy="1301.9" r="2.5" fill="#f2260f"/>
<circle cx="692.4" cy="1301.4" r="2.5" fill="#f2260f"/>
<circle cx="710" cy="1302.9" r="2.5" fill="#f2260f"/>
<circle cx="675.7" cy="1314.4" r="2.5" fill="#f2260f"/>
<circle cx="639.2" cy="1319.3" r="2.5" fill="#f2260f"/>
<circle cx="700.6" cy="1320.8" r="2.5" fill="#f2260f"/>
<circle cx="681.2" cy="1324.5" r="2.5" fill="#f2260f"/>
<circle cx="641.4" cy="1335.7" r="2.5" fill="#f2260f"/>
<circle cx="681.9" cy="1334.2" r="2.5" fill="#f2260f"/>
<circle cx="660.3" cy="1336.5" r="2.5" fill="#f2260f"/>
<circle cx="673.4" cy="1341.4" r="2.5" fill="#f2260f"/>
<circle cx="689.4" cy="1341.2" r="2.5" fill="#f2260f"/>
<circle cx="655.1" cy="1343.2" r="2.5" fill="#f2260f"/>
<circle cx="646.6" cy="1352.1" r="2.5" fill="#f2260f"/>
<circle cx="662.3" cy="1351.4" r="2.5" fill="#f2260f"/>
<circle cx="663" cy="1353" r="2.5" fill="#f2260f"/>
<circle cx="688.2" cy="1350.6" r="2.5" fill="#f2260f"/>
<circle cx="709.8" cy="1351.1" r="2.5" fill="#f2260f"/>
<circle cx="663.3" cy="1361" r="2.5" fill="#f2260f"/>
<circle cx="661.5" cy="1360.6" r="2.5" fill="#f2260f"/>
<circle cx="703.2" cy="1355.5" r="2.5" fill="#f2260f"/>
<circle cx="708" cy="1356.6" r="2.5" fill="#f2260f"/>
<circle cx="652.1" cy="1364.8" r="2.5" fill="#f2260f"/>
<circle cx="684.9" cy="1364.8" r="2.5" fill="#f2260f"/>
<circle cx="700.3" cy="1362.8" r="2.5" fill="#f2260f"/>
<circle cx="693.1" cy="1367.8" r="2.5" fill="#f2260f"/>
<circle cx="708" cy="1365.5" r="2.5" fill="#f2260f"/>
<circle cx="654.1" cy="1368.5" r="2.5" fill="#f2260f"/>
<circle cx="660.3" cy="1371.9" r="2.5" fill="#f2260f"/>
<circle cx="667.5" cy="1372.5" r="2.5" fill="#f2260f"/>
<circle cx="674" cy="1368.8" r="2.5" fill="#f2260f"/>
<circle cx="688.6" cy="1371.9" r="2.5" fill="#f2260f"/>
<circle cx="696.8" cy="1373.7" r="2.5" fill="#f2260f"/>
<circle cx="702" cy="1376.4" r="2.5" fill="#f2260f"/>
<circle cx="714.3" cy="1373.7" r="2.5" fill="#f2260f"/>
<circle cx="656.6" cy="1376.4" r="2.5" fill="#f2260f"/>
<circle cx="664" cy="1377.9" r="2.5" fill="#f2260f"/>
<circle cx="666.3" cy="1381.2" r="2.5" fill="#f2260f"/>
<circle cx="675.2" cy="1380.4" r="2.5" fill="#f2260f"/>
<circle cx="683.4" cy="1380.9" r="2.5" fill="#f2260f"/>
<circle cx="693.9" cy="1377.4" r="2.5" fill="#f2260f"/>
<circle cx="699.1" cy="1381.5" r="2.5" fill="#f2260f"/>
<circle cx="708.8" cy="1377.9" r="2.5" fill="#f2260f"/>
<circle cx="664.8" cy="1384.1" r="2.5" fill="#f2260f"/>
<circle cx="854.9" cy="1071.2" r="2.5" fill="#f2260f"/>
<circle cx="882.4" cy="1071.2" r="2.5" fill="#f2260f"/>
<circle cx="848.4" cy="1142.7" r="2.5" fill="#f2260f"/>
<circle cx="863.5" cy="1161" r="2.5" fill="#f2260f"/>
<circle cx="935.8" cy="1159.6" r="2.5" fill="#f2260f"/>
<circle cx="935.8" cy="1163.2" r="2.5" fill="#f2260f"/>
<circle cx="896.6" cy="1184.4" r="2.5" fill="#f2260f"/>
<circle cx="837.7" cy="1220.4" r="2.5" fill="#f2260f"/>
<circle cx="922.3" cy="1220.8" r="2.5" fill="#f2260f"/>
<circle cx="907.9" cy="1242.2" r="2.5" fill="#f2260f"/>
<circle cx="880.2" cy="1257.6" r="2.5" fill="#f2260f"/>
<circle cx="913.3" cy="1261.2" r="2.5" fill="#f2260f"/>
<circle cx="866.7" cy="1269.4" r="2.5" fill="#f2260f"/>
<circle cx="876.4" cy="1269" r="2.5" fill="#f2260f"/>
<circle cx="908.2" cy="1273.2" r="2.5" fill="#f2260f"/>
<circle cx="906" cy="1287.6" r="2.5" fill="#f2260f"/>
<circle cx="903.6" cy="1295.4" r="2.5" fill="#f2260f"/>
<circle cx="825.8" cy="1292.1" r="2.5" fill="#f2260f"/>
<circle cx="863.1" cy="1295.6" r="2.5" fill="#f2260f"/>
<circle cx="849.7" cy="1304.4" r="2.5" fill="#f2260f"/>
<circle cx="897.6" cy="1317.9" r="2.5" fill="#f2260f"/>
<circle cx="827.7" cy="1323.7" r="2.5" fill="#f2260f"/>
<circle cx="828.3" cy="1326.9" r="2.5" fill="#f2260f"/>
<circle cx="891.8" cy="1335" r="2.5" fill="#f2260f"/>
<circle cx="843.9" cy="1342.3" r="2.5" fill="#f2260f"/>
<circle cx="845.1" cy="1350.5" r="2.5" fill="#f2260f"/>
<circle cx="846.1" cy="1352.5" r="2.5" fill="#f2260f"/>
<circle cx="869.5" cy="1351" r="2.5" fill="#f2260f"/>
<circle cx="886.7" cy="1350.1" r="2.5" fill="#f2260f"/>
<circle cx="888" cy="1348.8" r="2.5" fill="#f2260f"/>
<circle cx="819.7" cy="1357.4" r="2.5" fill="#f2260f"/>
<circle cx="859.6" cy="1362.9" r="2.5" fill="#f2260f"/>
<circle cx="869.9" cy="1364.6" r="2.5" fill="#f2260f"/>
<circle cx="881.5" cy="1365.5" r="2.5" fill="#f2260f"/>
<circle cx="833.2" cy="1365.9" r="2.5" fill="#f2260f"/>
<circle cx="830" cy="1370.3" r="2.5" fill="#f2260f"/>
<circle cx="830.7" cy="1374.5" r="2.5" fill="#f2260f"/>
<circle cx="819.7" cy="1372" r="2.5" fill="#f2260f"/>
<circle cx="878.9" cy="1370.3" r="2.5" fill="#f2260f"/>
<circle cx="836.4" cy="1377.5" r="2.5" fill="#f2260f"/>
<circle cx="846.4" cy="1378.8" r="2.5" fill="#f2260f"/>
<circle cx="812.4" cy="1379.7" r="2.5" fill="#f2260f"/>
<circle cx="817.5" cy="1381" r="2.5" fill="#f2260f"/>
<circle cx="875.1" cy="1378.4" r="2.5" fill="#f2260f"/>
<circle cx="873.8" cy="1385.5" r="2.5" fill="#f2260f"/>
<circle cx="826.8" cy="1386.1" r="2.5" fill="#f2260f"/>
<circle cx="832" cy="1383.5" r="2.5" fill="#f2260f"/>
<circle cx="835.5" cy="1389.6" r="2.5" fill="#f2260f"/>
<circle cx="809.4" cy="1387.4" r="2.5" fill="#f2260f"/>
<circle cx="816.5" cy="1390.6" r="2.5" fill="#f2260f"/>
<circle cx="852.5" cy="1390" r="2.5" fill="#f2260f"/>
<circle cx="858.3" cy="1387.4" r="2.5" fill="#f2260f"/>
<circle cx="868" cy="1392.6" r="2.5" fill="#f2260f"/>
<circle cx="811.1" cy="1394.5" r="2.5" fill="#f2260f"/>
<circle cx="819.1" cy="1398.3" r="2.5" fill="#f2260f"/>
<circle cx="824.5" cy="1398.1" r="2.5" fill="#f2260f"/>
<circle cx="835.2" cy="1397.7" r="2.5" fill="#f2260f"/>
<circle cx="864.8" cy="1399.6" r="2.5" fill="#f2260f"/>
<circle cx="860.9" cy="1402.8" r="2.5" fill="#f2260f"/>
<circle cx="809.4" cy="1406.1" r="2.5" fill="#f2260f"/>
<circle cx="813.9" cy="1405.4" r="2.5" fill="#f2260f"/>
<circle cx="821.6" cy="1405.4" r="2.5" fill="#f2260f"/>
<circle cx="825.5" cy="1407.4" r="2.5" fill="#f2260f"/>
<circle cx="831" cy="1408" r="2.5" fill="#f2260f"/>
<circle cx="834.5" cy="1407.4" r="2.5" fill="#f2260f"/>
<circle cx="849.3" cy="1408" r="2.5" fill="#f2260f"/>
<circle cx="862.2" cy="1408" r="2.5" fill="#f2260f"/>
<rect x="553" y="1021.5" width="400.9" height="487.5" fill="none" stroke="#000" stroke-width="3.3" />
<line x1="543.1" y1="1487.6" x2="553" y2="1487.6" stroke="#000" stroke-width="2.7" stroke-linecap="butt" />
<text x="539.5" y="1487.6" font-size="17" text-anchor="middle" font-weight="normal" font-style="normal" fill="#000" transform="rotate(-90 539.5 1487.6)" >0</text>
<line x1="543.1" y1="1371.4" x2="553" y2="1371.4" stroke="#000" stroke-width="2.7" stroke-linecap="butt" />
<text x="539.5" y="1371.4" font-size="17" text-anchor="middle" font-weight="normal" font-style="normal" fill="#000" transform="rotate(-90 539.5 1371.4)" >2</text>
<line x1="543.1" y1="1255.2" x2="553" y2="1255.2" stroke="#000" stroke-width="2.7" stroke-linecap="butt" />
<text x="539.5" y="1255.2" font-size="17" text-anchor="middle" font-weight="normal" font-style="normal" fill="#000" transform="rotate(-90 539.5 1255.2)" >4</text>
<line x1="543.1" y1="1139" x2="553" y2="1139" stroke="#000" stroke-width="2.7" stroke-linecap="butt" />
<text x="539.5" y="1139" font-size="17" text-anchor="middle" font-weight="normal" font-style="normal" fill="#000" transform="rotate(-90 539.5 1139)" >6</text>
<line x1="543.1" y1="1022.8" x2="553" y2="1022.8" stroke="#000" stroke-width="2.7" stroke-linecap="butt" />
<text x="539.5" y="1022.8" font-size="17" text-anchor="middle" font-weight="normal" font-style="normal" fill="#000" transform="rotate(-90 539.5 1022.8)" >8</text>
<line x1="648" y1="1509" x2="648" y2="1518.5" stroke="#000" stroke-width="2.7" stroke-linecap="butt" />
<text x="648" y="1535.5" font-size="17" text-anchor="middle" font-weight="normal" font-style="normal" fill="#000" >-2</text>
<line x1="767.2" y1="1509" x2="767.2" y2="1518.5" stroke="#000" stroke-width="2.7" stroke-linecap="butt" />
<text x="767.2" y="1535.5" font-size="17" text-anchor="middle" font-weight="normal" font-style="normal" fill="#000" >0</text>
<line x1="886.4" y1="1509" x2="886.4" y2="1518.5" stroke="#000" stroke-width="2.7" stroke-linecap="butt" />
<text x="886.4" y="1535.5" font-size="17" text-anchor="middle" font-weight="normal" font-style="normal" fill="#000" >4</text>
<text x="751" y="1559.5" font-size="25.5" text-anchor="middle" font-weight="normal" font-style="normal" fill="#000" >log2 (fold change)</text>
<text x="514" y="1255" font-size="25.5" text-anchor="middle" font-weight="normal" font-style="normal" fill="#000" transform="rotate(-90 514 1255)" >-log10(q-value)</text>
<text x="752.5" y="994.2" font-size="29" text-anchor="middle" font-weight="normal" font-style="normal" fill="#000" >HSC Vwf<tspan font-size="19" dy="-11">+</tspan><tspan dy="11"> (IgG vs. GPIbα)</tspan></text>
<text x="874.9" y="1052.8" font-size="21.6" text-anchor="start" font-weight="normal" font-style="italic" fill="#000" >Hmga1</text>
<text x="875.4" y="1101.4" font-size="21.6" text-anchor="start" font-weight="normal" font-style="italic" fill="#000" >Socs2</text>
<text x="869.3" y="1126.2" font-size="21.6" text-anchor="start" font-weight="normal" font-style="italic" fill="#000" >Nupr1</text>
<text x="880.9" y="1151.3" font-size="21.6" text-anchor="start" font-weight="normal" font-style="italic" fill="#000" >Vim</text>
<text x="817.2" y="1182.5" font-size="21.6" text-anchor="start" font-weight="normal" font-style="italic" fill="#000" >Pim2</text>
<text x="790.8" y="1198.3" font-size="21.6" text-anchor="start" font-weight="normal" font-style="italic" fill="#000" >Nasp</text>
<text x="873.8" y="1209.9" font-size="21.6" text-anchor="start" font-weight="normal" font-style="italic" fill="#000" >Robo1</text>
<text x="780.5" y="1249.8" font-size="21.6" text-anchor="start" font-weight="normal" font-style="italic" fill="#000" >S100a5</text>
<text x="774.1" y="1271.5" font-size="21.6" text-anchor="start" font-weight="normal" font-style="italic" fill="#000" >Tubg1</text>
<text x="728.2" y="1292.3" font-size="21.6" text-anchor="start" font-weight="normal" font-style="italic" fill="#000" >Hmgb2</text>
<text x="893.8" y="1374.5" font-size="21.6" text-anchor="start" font-weight="normal" font-style="italic" fill="#000" >Plk1</text>
<text x="891.2" y="1393.8" font-size="21.6" text-anchor="start" font-weight="normal" font-style="italic" fill="#000" >Aurkb</text>
<text x="894.4" y="1415.7" font-size="21.6" text-anchor="start" font-weight="normal" font-style="italic" fill="#000" >Id1</text>
<text x="892.5" y="1438" font-size="21.6" text-anchor="start" font-weight="normal" font-style="italic" fill="#000" >Spi1</text>
<text x="892.7" y="1459.9" font-size="21.6" text-anchor="start" font-weight="normal" font-style="italic" fill="#000" >Ccnf</text>
<text x="871.6" y="1488.8" font-size="21.6" text-anchor="start" font-weight="normal" font-style="italic" fill="#000" >Ifitm1</text>
<text x="682.8" y="1151.2" font-size="21.6" text-anchor="start" font-weight="normal" font-style="italic" fill="#000" >Gp9</text>
<text x="683.3" y="1252.5" font-size="21.6" text-anchor="start" font-weight="normal" font-style="italic" fill="#000" >Gata1</text>
<text x="584.4" y="1364.8" font-size="21.6" text-anchor="start" font-weight="normal" font-style="italic" fill="#000" >Itgb6</text>
<text x="569.1" y="1385.9" font-size="21.6" text-anchor="start" font-weight="normal" font-style="italic" fill="#000" >Runx3</text>
<text x="588.9" y="1405.8" font-size="21.6" text-anchor="start" font-weight="normal" font-style="italic" fill="#000" >Ccl4</text>
<text x="565.8" y="1425.9" font-size="21.6" text-anchor="start" font-weight="normal" font-style="italic" fill="#000" >Vcam1</text>
<text x="728.2" y="1324.5" font-size="21.6" text-anchor="start" font-weight="normal" font-style="italic" fill="#000" >Mpl</text>
<text x="728.2" y="1346.9" font-size="21.6" text-anchor="start" font-weight="normal" font-style="italic" fill="#000" >Pbx1</text>
<text x="733.8" y="1370.4" font-size="21.6" text-anchor="start" font-weight="normal" font-style="italic" fill="#000" >Itgb2</text>
<text x="732.4" y="1393.1" font-size="21.6" text-anchor="start" font-weight="normal" font-style="italic" fill="#000" >Itga2b</text>
<text x="739.4" y="1416.2" font-size="21.6" text-anchor="start" font-weight="normal" font-style="italic" fill="#000" >Il1rap</text>
<line x1="858.3" y1="1067.6" x2="871.6" y2="1056" stroke="#000" stroke-width="2.6" stroke-linecap="butt" />
<line x1="882.1" y1="1075.4" x2="882.1" y2="1084.4" stroke="#000" stroke-width="2.6" stroke-linecap="butt" />
<line x1="853.8" y1="1138.4" x2="864.1" y2="1128.8" stroke="#000" stroke-width="2.6" stroke-linecap="butt" />
<line x1="868.6" y1="1157.5" x2="878.9" y2="1148.1" stroke="#000" stroke-width="2.6" stroke-linecap="butt" />
<line x1="860.9" y1="1186.7" x2="878.9" y2="1251.7" stroke="#000" stroke-width="2.6" stroke-linecap="butt" />
<line x1="838.1" y1="1206" x2="838.1" y2="1213.7" stroke="#000" stroke-width="2.6" stroke-linecap="butt" />
<line x1="885.4" y1="1217" x2="903" y2="1282.5" stroke="#000" stroke-width="2.6" stroke-linecap="butt" />
<line x1="843.5" y1="1256.5" x2="877.6" y2="1364.9" stroke="#000" stroke-width="2.6" stroke-linecap="butt" />
<line x1="803" y1="1279.3" x2="831.7" y2="1361" stroke="#000" stroke-width="2.6" stroke-linecap="butt" />
<line x1="786.9" y1="1296.6" x2="808.8" y2="1400.9" stroke="#000" stroke-width="2.6" stroke-linecap="butt" />
<line x1="851.5" y1="1377.5" x2="888.6" y2="1371.6" stroke="#000" stroke-width="2.6" stroke-linecap="butt" />
<line x1="825.2" y1="1396" x2="887.3" y2="1386.5" stroke="#000" stroke-width="2.6" stroke-linecap="butt" />
<line x1="865.4" y1="1400.9" x2="885.8" y2="1408" stroke="#000" stroke-width="2.6" stroke-linecap="butt" />
<line x1="854.2" y1="1409.2" x2="886.3" y2="1427.8" stroke="#000" stroke-width="2.6" stroke-linecap="butt" />
<line x1="828.8" y1="1405.8" x2="889.7" y2="1448.1" stroke="#000" stroke-width="2.6" stroke-linecap="butt" />
<line x1="844" y1="1438" x2="866.7" y2="1479.3" stroke="#000" stroke-width="2.6" stroke-linecap="butt" />
<line x1="667" y1="1158.6" x2="680.4" y2="1151.9" stroke="#000" stroke-width="2.6" stroke-linecap="butt" />
<line x1="675" y1="1271" x2="682" y2="1256" stroke="#000" stroke-width="2.6" stroke-linecap="butt" />
<line x1="638" y1="1358.5" x2="649.1" y2="1364.8" stroke="#000" stroke-width="2.6" stroke-linecap="butt" />
<line x1="638" y1="1378.5" x2="655.8" y2="1372.5" stroke="#000" stroke-width="2.6" stroke-linecap="butt" />
<line x1="638" y1="1399.8" x2="663.3" y2="1374.5" stroke="#000" stroke-width="2.6" stroke-linecap="butt" />
<line x1="638" y1="1420.7" x2="660.3" y2="1398.8" stroke="#000" stroke-width="2.6" stroke-linecap="butt" />
<line x1="726.6" y1="1319.3" x2="711.7" y2="1352.8" stroke="#000" stroke-width="2.6" stroke-linecap="butt" />
<line x1="725.6" y1="1340.2" x2="710.3" y2="1373.7" stroke="#000" stroke-width="2.6" stroke-linecap="butt" />
<line x1="731.1" y1="1368.5" x2="696.8" y2="1389.4" stroke="#000" stroke-width="2.6" stroke-linecap="butt" />
<line x1="729.6" y1="1385.9" x2="698.3" y2="1393.8" stroke="#000" stroke-width="2.6" stroke-linecap="butt" />
<line x1="735.6" y1="1411.3" x2="698.3" y2="1398.3" stroke="#000" stroke-width="2.6" stroke-linecap="butt" />
<rect x="1039.3" y="1022.5" width="400" height="485.5" fill="#fff" />
<line x1="1044.8" y1="1022.5" x2="1044.8" y2="1508" stroke="#ebebeb" stroke-width="1" stroke-linecap="butt" />
<line x1="1102.4" y1="1022.5" x2="1102.4" y2="1508" stroke="#ebebeb" stroke-width="1" stroke-linecap="butt" />
<line x1="1160" y1="1022.5" x2="1160" y2="1508" stroke="#ebebeb" stroke-width="1" stroke-linecap="butt" />
<line x1="1217.6" y1="1022.5" x2="1217.6" y2="1508" stroke="#ebebeb" stroke-width="1" stroke-linecap="butt" />
<line x1="1275.2" y1="1022.5" x2="1275.2" y2="1508" stroke="#ebebeb" stroke-width="1" stroke-linecap="butt" />
<line x1="1332.8" y1="1022.5" x2="1332.8" y2="1508" stroke="#ebebeb" stroke-width="1" stroke-linecap="butt" />
<line x1="1390.4" y1="1022.5" x2="1390.4" y2="1508" stroke="#ebebeb" stroke-width="1" stroke-linecap="butt" />
<line x1="1039.3" y1="1487.2" x2="1439.3" y2="1487.2" stroke="#ebebeb" stroke-width="1" stroke-linecap="butt" />
<line x1="1039.3" y1="1424.2" x2="1439.3" y2="1424.2" stroke="#ebebeb" stroke-width="1" stroke-linecap="butt" />
<line x1="1039.3" y1="1361.2" x2="1439.3" y2="1361.2" stroke="#ebebeb" stroke-width="1" stroke-linecap="butt" />
<line x1="1039.3" y1="1298.2" x2="1439.3" y2="1298.2" stroke="#ebebeb" stroke-width="1" stroke-linecap="butt" />
<line x1="1039.3" y1="1235.2" x2="1439.3" y2="1235.2" stroke="#ebebeb" stroke-width="1" stroke-linecap="butt" />
<line x1="1039.3" y1="1172.2" x2="1439.3" y2="1172.2" stroke="#ebebeb" stroke-width="1" stroke-linecap="butt" />
<line x1="1039.3" y1="1109.2" x2="1439.3" y2="1109.2" stroke="#ebebeb" stroke-width="1" stroke-linecap="butt" />
<line x1="1039.3" y1="1046.2" x2="1439.3" y2="1046.2" stroke="#ebebeb" stroke-width="1" stroke-linecap="butt" />
<path d="M1191.2,1455.5 C1189.85,1452.65 1197.98,1454.38 1202.6,1454 C1207.22,1453.62 1213.48,1453.2 1218.9,1453.2 C1224.32,1453.2 1230.23,1453.73 1235.1,1454 C1239.97,1454.27 1245.65,1453.03 1248.1,1454.8 C1250.55,1456.57 1248.43,1461.35 1249.8,1464.6 C1251.17,1467.85 1253.87,1471.6 1256.3,1474.3 C1258.73,1477 1261.25,1478.77 1264.4,1480.8 C1267.55,1482.83 1276.02,1485.42 1275.2,1486.5 C1274.38,1487.58 1266.18,1487.98 1259.5,1487.3 C1252.82,1486.62 1243.23,1485.1 1235.1,1482.4 C1226.97,1479.7 1218.02,1475.58 1210.7,1471.1 C1203.38,1466.62 1192.55,1458.35 1191.2,1455.5 Z" fill="#000"/>
<path d="M1307.6,1453.9 C1310.17,1452.83 1312.97,1452.72 1317.9,1452.6 C1322.83,1452.48 1330.77,1452.77 1337.2,1453.2 C1343.63,1453.63 1354.35,1454.02 1356.5,1455.2 C1358.65,1456.38 1353.32,1458.17 1350.1,1460.3 C1346.88,1462.43 1342.57,1465.42 1337.2,1468 C1331.83,1470.58 1324.33,1473.43 1317.9,1475.8 C1311.47,1478.17 1305.72,1480.23 1298.6,1482.2 C1291.48,1484.17 1277.77,1487.82 1275.2,1487.6 C1272.63,1487.38 1280.58,1483.08 1283.2,1480.9 C1285.82,1478.72 1288.55,1476.85 1290.9,1474.5 C1293.25,1472.15 1295.37,1469.38 1297.3,1466.8 C1299.23,1464.22 1300.78,1461.15 1302.5,1459 C1304.22,1456.85 1305.03,1454.97 1307.6,1453.9 Z" fill="#000"/>
<circle cx="1154.92" cy="1417.25" r="2.6" fill="#f2260f"/>
<circle cx="1189.59" cy="1441.43" r="2.6" fill="#f2260f"/>
<circle cx="1166.43" cy="1417.26" r="2.6" fill="#f2260f"/>
<circle cx="1202.6" cy="1431.44" r="2.6" fill="#f2260f"/>
<circle cx="1171.88" cy="1426.47" r="2.6" fill="#f2260f"/>
<circle cx="1172.96" cy="1421.68" r="2.6" fill="#f2260f"/>
<circle cx="1207.08" cy="1435.65" r="2.6" fill="#f2260f"/>
<circle cx="1186.19" cy="1421.12" r="2.6" fill="#f2260f"/>
<circle cx="1230" cy="1454.33" r="2.6" fill="#f2260f"/>
<circle cx="1232.91" cy="1440.04" r="2.6" fill="#f2260f"/>
<circle cx="1184.26" cy="1429.26" r="2.6" fill="#f2260f"/>
<circle cx="1212.72" cy="1447.87" r="2.6" fill="#f2260f"/>
<circle cx="1241.38" cy="1453.8" r="2.6" fill="#f2260f"/>
<circle cx="1181.71" cy="1419.96" r="2.6" fill="#f2260f"/>
<circle cx="1210.62" cy="1435.59" r="2.6" fill="#f2260f"/>
<circle cx="1208.59" cy="1441.91" r="2.6" fill="#f2260f"/>
<circle cx="1195.23" cy="1446.36" r="2.6" fill="#f2260f"/>
<circle cx="1194.31" cy="1445.87" r="2.6" fill="#f2260f"/>
<circle cx="1164.67" cy="1420.71" r="2.6" fill="#f2260f"/>
<circle cx="1184.34" cy="1442.68" r="2.6" fill="#f2260f"/>
<circle cx="1199.18" cy="1445.85" r="2.6" fill="#f2260f"/>
<circle cx="1179.13" cy="1428.25" r="2.6" fill="#f2260f"/>
<circle cx="1209.62" cy="1439.41" r="2.6" fill="#f2260f"/>
<circle cx="1157.27" cy="1417.24" r="2.6" fill="#f2260f"/>
<circle cx="1216.93" cy="1453.66" r="2.6" fill="#f2260f"/>
<circle cx="1223.54" cy="1454.17" r="2.6" fill="#f2260f"/>
<circle cx="1187.98" cy="1424.45" r="2.6" fill="#f2260f"/>
<circle cx="1172.61" cy="1420.68" r="2.6" fill="#f2260f"/>
<circle cx="1170.55" cy="1431.74" r="2.6" fill="#f2260f"/>
<circle cx="1217.11" cy="1434.68" r="2.6" fill="#f2260f"/>
<circle cx="1201.54" cy="1442.83" r="2.6" fill="#f2260f"/>
<circle cx="1195.85" cy="1442.83" r="2.6" fill="#f2260f"/>
<circle cx="1221.66" cy="1452.38" r="2.6" fill="#f2260f"/>
<circle cx="1216.67" cy="1437.02" r="2.6" fill="#f2260f"/>
<circle cx="1166.61" cy="1428.6" r="2.6" fill="#f2260f"/>
<circle cx="1181.79" cy="1430.5" r="2.6" fill="#f2260f"/>
<circle cx="1218.58" cy="1435.41" r="2.6" fill="#f2260f"/>
<circle cx="1220.77" cy="1447.49" r="2.6" fill="#f2260f"/>
<circle cx="1186.95" cy="1429.47" r="2.6" fill="#f2260f"/>
<circle cx="1171.88" cy="1421.57" r="2.6" fill="#f2260f"/>
<circle cx="1185.29" cy="1442.02" r="2.6" fill="#f2260f"/>
<circle cx="1187.35" cy="1445.12" r="2.6" fill="#f2260f"/>
<circle cx="1159.81" cy="1423.03" r="2.6" fill="#f2260f"/>
<circle cx="1210.73" cy="1432.78" r="2.6" fill="#f2260f"/>
<circle cx="1199.34" cy="1452.07" r="2.6" fill="#f2260f"/>
<circle cx="1179.07" cy="1420.18" r="2.6" fill="#f2260f"/>
<circle cx="1180.87" cy="1432.54" r="2.6" fill="#f2260f"/>
<circle cx="1188.39" cy="1444.55" r="2.6" fill="#f2260f"/>
<circle cx="1206.58" cy="1429.57" r="2.6" fill="#f2260f"/>
<circle cx="1208.93" cy="1448.31" r="2.6" fill="#f2260f"/>
<circle cx="1203.08" cy="1426.02" r="2.6" fill="#f2260f"/>
<circle cx="1170.89" cy="1428.29" r="2.6" fill="#f2260f"/>
<circle cx="1203.22" cy="1452.31" r="2.6" fill="#f2260f"/>
<circle cx="1215.14" cy="1434.47" r="2.6" fill="#f2260f"/>
<circle cx="1189.11" cy="1441.15" r="2.6" fill="#f2260f"/>
<circle cx="1191.21" cy="1447.33" r="2.6" fill="#f2260f"/>
<circle cx="1216.12" cy="1426.19" r="2.6" fill="#f2260f"/>
<circle cx="1159.42" cy="1423" r="2.6" fill="#f2260f"/>
<circle cx="1198.59" cy="1454.72" r="2.6" fill="#f2260f"/>
<circle cx="1191.05" cy="1435.28" r="2.6" fill="#f2260f"/>
<circle cx="1193.89" cy="1432.81" r="2.6" fill="#f2260f"/>
<circle cx="1197.35" cy="1441.5" r="2.6" fill="#f2260f"/>
<circle cx="1235.86" cy="1447.49" r="2.6" fill="#f2260f"/>
<circle cx="1169.17" cy="1416.3" r="2.6" fill="#f2260f"/>
<circle cx="1205.66" cy="1450.98" r="2.6" fill="#f2260f"/>
<circle cx="1183.16" cy="1428.96" r="2.6" fill="#f2260f"/>
<circle cx="1191.88" cy="1452.45" r="2.6" fill="#f2260f"/>
<circle cx="1216.13" cy="1447.98" r="2.6" fill="#f2260f"/>
<circle cx="1194.88" cy="1429.48" r="2.6" fill="#f2260f"/>
<circle cx="1228.19" cy="1443.6" r="2.6" fill="#f2260f"/>
<circle cx="1236.74" cy="1443.74" r="2.6" fill="#f2260f"/>
<circle cx="1204.46" cy="1445.7" r="2.6" fill="#f2260f"/>
<circle cx="1207.13" cy="1449.35" r="2.6" fill="#f2260f"/>
<circle cx="1188.52" cy="1422.17" r="2.6" fill="#f2260f"/>
<circle cx="1192.16" cy="1425.75" r="2.6" fill="#f2260f"/>
<circle cx="1178.63" cy="1431.13" r="2.6" fill="#f2260f"/>
<circle cx="1214.81" cy="1426.99" r="2.6" fill="#f2260f"/>
<circle cx="1170.77" cy="1422.06" r="2.6" fill="#f2260f"/>
<circle cx="1203.17" cy="1433.06" r="2.6" fill="#f2260f"/>
<circle cx="1185.89" cy="1441.74" r="2.6" fill="#f2260f"/>
<circle cx="1208.55" cy="1425.77" r="2.6" fill="#f2260f"/>
<circle cx="1230.93" cy="1435.72" r="2.6" fill="#f2260f"/>
<circle cx="1218.21" cy="1438.32" r="2.6" fill="#f2260f"/>
<circle cx="1231.32" cy="1449.9" r="2.6" fill="#f2260f"/>
<circle cx="1204.04" cy="1437.55" r="2.6" fill="#f2260f"/>
<circle cx="1203.44" cy="1445.78" r="2.6" fill="#f2260f"/>
<circle cx="1207.96" cy="1435.45" r="2.6" fill="#f2260f"/>
<circle cx="1231.76" cy="1453.76" r="2.6" fill="#f2260f"/>
<circle cx="1202.46" cy="1447.07" r="2.6" fill="#f2260f"/>
<circle cx="1189.26" cy="1450.46" r="2.6" fill="#f2260f"/>
<circle cx="1199.35" cy="1440.55" r="2.6" fill="#f2260f"/>
<circle cx="1170.91" cy="1418.26" r="2.6" fill="#f2260f"/>
<circle cx="1218.28" cy="1443.72" r="2.6" fill="#f2260f"/>
<circle cx="1207.69" cy="1427.13" r="2.6" fill="#f2260f"/>
<circle cx="1231.94" cy="1445.77" r="2.6" fill="#f2260f"/>
<circle cx="1169.16" cy="1416.65" r="2.6" fill="#f2260f"/>
<circle cx="1227.72" cy="1448.37" r="2.6" fill="#f2260f"/>
<circle cx="1185.48" cy="1420.11" r="2.6" fill="#f2260f"/>
<circle cx="1157.12" cy="1415.64" r="2.6" fill="#f2260f"/>
<circle cx="1232.31" cy="1442.33" r="2.6" fill="#f2260f"/>
<circle cx="1209.03" cy="1451.56" r="2.6" fill="#f2260f"/>
<circle cx="1186.51" cy="1429.97" r="2.6" fill="#f2260f"/>
<circle cx="1219.2" cy="1449.83" r="2.6" fill="#f2260f"/>
<circle cx="1168.89" cy="1423.63" r="2.6" fill="#f2260f"/>
<circle cx="1198.5" cy="1427.05" r="2.6" fill="#f2260f"/>
<circle cx="1168.42" cy="1432.29" r="2.6" fill="#f2260f"/>
<circle cx="1187.12" cy="1422.35" r="2.6" fill="#f2260f"/>
<circle cx="1212.69" cy="1440.49" r="2.6" fill="#f2260f"/>
<circle cx="1240.74" cy="1453.47" r="2.6" fill="#f2260f"/>
<circle cx="1196.25" cy="1442.8" r="2.6" fill="#f2260f"/>
<circle cx="1199.56" cy="1436.49" r="2.6" fill="#f2260f"/>
<circle cx="1209.94" cy="1450.9" r="2.6" fill="#f2260f"/>
<circle cx="1218.83" cy="1447.13" r="2.6" fill="#f2260f"/>
<circle cx="1200.61" cy="1442.69" r="2.6" fill="#f2260f"/>
<circle cx="1234.78" cy="1442.98" r="2.6" fill="#f2260f"/>
<circle cx="1239.46" cy="1450.52" r="2.6" fill="#f2260f"/>
<circle cx="1230.74" cy="1434.65" r="2.6" fill="#f2260f"/>
<circle cx="1196.43" cy="1447.34" r="2.6" fill="#f2260f"/>
<circle cx="1234.77" cy="1449.57" r="2.6" fill="#f2260f"/>
<circle cx="1199.75" cy="1434.54" r="2.6" fill="#f2260f"/>
<circle cx="1212.24" cy="1435.43" r="2.6" fill="#f2260f"/>
<circle cx="1210.25" cy="1451.51" r="2.6" fill="#f2260f"/>
<circle cx="1203.7" cy="1449.1" r="2.6" fill="#f2260f"/>
<circle cx="1229.96" cy="1443.94" r="2.6" fill="#f2260f"/>
<circle cx="1222.48" cy="1448.17" r="2.6" fill="#f2260f"/>
<circle cx="1223.01" cy="1436.82" r="2.6" fill="#f2260f"/>
<circle cx="1211.16" cy="1437.12" r="2.6" fill="#f2260f"/>
<circle cx="1215.63" cy="1433.46" r="2.6" fill="#f2260f"/>
<circle cx="1217.93" cy="1449.07" r="2.6" fill="#f2260f"/>
<circle cx="1216.5" cy="1446.75" r="2.6" fill="#f2260f"/>
<circle cx="1226.44" cy="1433.01" r="2.6" fill="#f2260f"/>
<circle cx="1209.89" cy="1440.08" r="2.6" fill="#f2260f"/>
<circle cx="1196.31" cy="1451.98" r="2.6" fill="#f2260f"/>
<circle cx="1227.68" cy="1451.99" r="2.6" fill="#f2260f"/>
<circle cx="1218.62" cy="1452.04" r="2.6" fill="#f2260f"/>
<circle cx="1235.68" cy="1444.98" r="2.6" fill="#f2260f"/>
<circle cx="1220.16" cy="1442.68" r="2.6" fill="#f2260f"/>
<circle cx="1206.37" cy="1439.9" r="2.6" fill="#f2260f"/>
<circle cx="1229.25" cy="1436.1" r="2.6" fill="#f2260f"/>
<circle cx="1235.1" cy="1442.71" r="2.6" fill="#f2260f"/>
<circle cx="1223.79" cy="1449.26" r="2.6" fill="#f2260f"/>
<circle cx="1225.72" cy="1434.89" r="2.6" fill="#f2260f"/>
<circle cx="1197.26" cy="1451.98" r="2.6" fill="#f2260f"/>
<circle cx="1223.28" cy="1452.34" r="2.6" fill="#f2260f"/>
<circle cx="1231.91" cy="1438.63" r="2.6" fill="#f2260f"/>
<circle cx="1240.49" cy="1451.37" r="2.6" fill="#f2260f"/>
<circle cx="1216.99" cy="1433.75" r="2.6" fill="#f2260f"/>
<circle cx="1210.65" cy="1435.49" r="2.6" fill="#f2260f"/>
<circle cx="1212.82" cy="1433.73" r="2.6" fill="#f2260f"/>
<circle cx="1205.7" cy="1448.38" r="2.6" fill="#f2260f"/>
<circle cx="1222.88" cy="1442.14" r="2.6" fill="#f2260f"/>
<circle cx="1237.74" cy="1439.92" r="2.6" fill="#f2260f"/>
<circle cx="1233.77" cy="1432.73" r="2.6" fill="#f2260f"/>
<circle cx="1196.17" cy="1450.51" r="2.6" fill="#f2260f"/>
<circle cx="1229.19" cy="1446.17" r="2.6" fill="#f2260f"/>
<circle cx="1231.23" cy="1439.92" r="2.6" fill="#f2260f"/>
<circle cx="1201.26" cy="1438.68" r="2.6" fill="#f2260f"/>
<circle cx="1206.58" cy="1441.29" r="2.6" fill="#f2260f"/>
<circle cx="1216.73" cy="1450.99" r="2.6" fill="#f2260f"/>
<circle cx="1196.25" cy="1449.41" r="2.6" fill="#f2260f"/>
<circle cx="1207.66" cy="1443.53" r="2.6" fill="#f2260f"/>
<circle cx="1201.94" cy="1433.77" r="2.6" fill="#f2260f"/>
<circle cx="1236.62" cy="1442.56" r="2.6" fill="#f2260f"/>
<circle cx="1240.7" cy="1450.16" r="2.6" fill="#f2260f"/>
<circle cx="1230.61" cy="1433.57" r="2.6" fill="#f2260f"/>
<circle cx="1219.14" cy="1433.38" r="2.6" fill="#f2260f"/>
<circle cx="1204.5" cy="1452.75" r="2.6" fill="#f2260f"/>
<circle cx="1210.65" cy="1447.01" r="2.6" fill="#f2260f"/>
<circle cx="1219.35" cy="1435.9" r="2.6" fill="#f2260f"/>
<circle cx="1219.48" cy="1447.79" r="2.6" fill="#f2260f"/>
<circle cx="1204.18" cy="1433.83" r="2.6" fill="#f2260f"/>
<circle cx="1229.31" cy="1451.33" r="2.6" fill="#f2260f"/>
<circle cx="1213.34" cy="1441.93" r="2.6" fill="#f2260f"/>
<circle cx="1225.28" cy="1442.92" r="2.6" fill="#f2260f"/>
<circle cx="1201.9" cy="1437.77" r="2.6" fill="#f2260f"/>
<circle cx="1205.48" cy="1436.14" r="2.6" fill="#f2260f"/>
<circle cx="1200.06" cy="1440.22" r="2.6" fill="#f2260f"/>
<circle cx="1206.09" cy="1449.8" r="2.6" fill="#f2260f"/>
<circle cx="1210.81" cy="1452.23" r="2.6" fill="#f2260f"/>
<circle cx="1233.31" cy="1437.65" r="2.6" fill="#f2260f"/>
<circle cx="1203.09" cy="1444.01" r="2.6" fill="#f2260f"/>
<circle cx="1217.8" cy="1443.24" r="2.6" fill="#f2260f"/>
<circle cx="1201.67" cy="1443.15" r="2.6" fill="#f2260f"/>
<circle cx="1230.93" cy="1441.35" r="2.6" fill="#f2260f"/>
<circle cx="1207.74" cy="1451.37" r="2.6" fill="#f2260f"/>
<circle cx="1216.58" cy="1435.13" r="2.6" fill="#f2260f"/>
<circle cx="1232.17" cy="1440.84" r="2.6" fill="#f2260f"/>
<circle cx="1199.93" cy="1451.99" r="2.6" fill="#f2260f"/>
<circle cx="1232.77" cy="1444.76" r="2.6" fill="#f2260f"/>
<circle cx="1222.11" cy="1433.56" r="2.6" fill="#f2260f"/>
<circle cx="1220.1" cy="1442.29" r="2.6" fill="#f2260f"/>
<circle cx="1237.09" cy="1442.34" r="2.6" fill="#f2260f"/>
<circle cx="1214.1" cy="1450.07" r="2.6" fill="#f2260f"/>
<circle cx="1235.56" cy="1447.1" r="2.6" fill="#f2260f"/>
<circle cx="1237.74" cy="1439.34" r="2.6" fill="#f2260f"/>
<circle cx="1200.82" cy="1439.3" r="2.6" fill="#f2260f"/>
<circle cx="1223.67" cy="1448.52" r="2.6" fill="#f2260f"/>
<circle cx="1229.78" cy="1445.22" r="2.6" fill="#f2260f"/>
<circle cx="1223.64" cy="1445.99" r="2.6" fill="#f2260f"/>
<circle cx="1221.15" cy="1437.79" r="2.6" fill="#f2260f"/>
<circle cx="1346.55" cy="1437.31" r="2.6" fill="#f2260f"/>
<circle cx="1352.12" cy="1448.98" r="2.6" fill="#f2260f"/>
<circle cx="1352.11" cy="1436.63" r="2.6" fill="#f2260f"/>
<circle cx="1341.98" cy="1452.38" r="2.6" fill="#f2260f"/>
<circle cx="1343.68" cy="1428.88" r="2.6" fill="#f2260f"/>
<circle cx="1372.05" cy="1437.47" r="2.6" fill="#f2260f"/>
<circle cx="1328.18" cy="1422.75" r="2.6" fill="#f2260f"/>
<circle cx="1341.48" cy="1411.17" r="2.6" fill="#f2260f"/>
<circle cx="1349.1" cy="1441.99" r="2.6" fill="#f2260f"/>
<circle cx="1336.71" cy="1446.98" r="2.6" fill="#f2260f"/>
<circle cx="1370.98" cy="1433.86" r="2.6" fill="#f2260f"/>
<circle cx="1327.03" cy="1418.42" r="2.6" fill="#f2260f"/>
<circle cx="1368.84" cy="1442.62" r="2.6" fill="#f2260f"/>
<circle cx="1324.17" cy="1421.1" r="2.6" fill="#f2260f"/>
<circle cx="1328.39" cy="1426.58" r="2.6" fill="#f2260f"/>
<circle cx="1309.85" cy="1448.16" r="2.6" fill="#f2260f"/>
<circle cx="1358.65" cy="1434.04" r="2.6" fill="#f2260f"/>
<circle cx="1352.25" cy="1429.45" r="2.6" fill="#f2260f"/>
<circle cx="1339.94" cy="1424.95" r="2.6" fill="#f2260f"/>
<circle cx="1344.41" cy="1444.21" r="2.6" fill="#f2260f"/>
<circle cx="1340.46" cy="1425.9" r="2.6" fill="#f2260f"/>
<circle cx="1344.63" cy="1428.81" r="2.6" fill="#f2260f"/>
<circle cx="1329.14" cy="1448.89" r="2.6" fill="#f2260f"/>
<circle cx="1341.4" cy="1436.41" r="2.6" fill="#f2260f"/>
<circle cx="1348.7" cy="1441.7" r="2.6" fill="#f2260f"/>
<circle cx="1339.2" cy="1427.84" r="2.6" fill="#f2260f"/>
<circle cx="1342.22" cy="1420.55" r="2.6" fill="#f2260f"/>
<circle cx="1340.51" cy="1409.73" r="2.6" fill="#f2260f"/>
<circle cx="1334.72" cy="1445.02" r="2.6" fill="#f2260f"/>
<circle cx="1329.79" cy="1413.56" r="2.6" fill="#f2260f"/>
<circle cx="1320.25" cy="1440.9" r="2.6" fill="#f2260f"/>
<circle cx="1350.08" cy="1421.71" r="2.6" fill="#f2260f"/>
<circle cx="1350.19" cy="1443.11" r="2.6" fill="#f2260f"/>
<circle cx="1337.24" cy="1445.31" r="2.6" fill="#f2260f"/>
<circle cx="1358.86" cy="1435.26" r="2.6" fill="#f2260f"/>
<circle cx="1342.53" cy="1447.15" r="2.6" fill="#f2260f"/>
<circle cx="1350.29" cy="1441.33" r="2.6" fill="#f2260f"/>
<circle cx="1326.07" cy="1435.11" r="2.6" fill="#f2260f"/>
<circle cx="1346.74" cy="1417.76" r="2.6" fill="#f2260f"/>
<circle cx="1320.48" cy="1451.65" r="2.6" fill="#f2260f"/>
<circle cx="1312.48" cy="1450.58" r="2.6" fill="#f2260f"/>
<circle cx="1360.33" cy="1434.67" r="2.6" fill="#f2260f"/>
<circle cx="1335.84" cy="1450.14" r="2.6" fill="#f2260f"/>
<circle cx="1360.92" cy="1444.49" r="2.6" fill="#f2260f"/>
<circle cx="1332.63" cy="1444.85" r="2.6" fill="#f2260f"/>
<circle cx="1358.19" cy="1447.91" r="2.6" fill="#f2260f"/>
<circle cx="1349.86" cy="1423.54" r="2.6" fill="#f2260f"/>
<circle cx="1330.76" cy="1431.16" r="2.6" fill="#f2260f"/>
<circle cx="1338.33" cy="1417.92" r="2.6" fill="#f2260f"/>
<circle cx="1335.91" cy="1414.67" r="2.6" fill="#f2260f"/>
<circle cx="1362.24" cy="1433.37" r="2.6" fill="#f2260f"/>
<circle cx="1339.02" cy="1437.63" r="2.6" fill="#f2260f"/>
<circle cx="1332.27" cy="1420.19" r="2.6" fill="#f2260f"/>
<circle cx="1328.53" cy="1446.4" r="2.6" fill="#f2260f"/>
<circle cx="1333.76" cy="1421.52" r="2.6" fill="#f2260f"/>
<circle cx="1315.6" cy="1452.59" r="2.6" fill="#f2260f"/>
<circle cx="1351.65" cy="1451.94" r="2.6" fill="#f2260f"/>
<circle cx="1330.23" cy="1445.33" r="2.6" fill="#f2260f"/>
<circle cx="1361.87" cy="1432.07" r="2.6" fill="#f2260f"/>
<circle cx="1361.52" cy="1426.2" r="2.6" fill="#f2260f"/>
<circle cx="1321.22" cy="1448.63" r="2.6" fill="#f2260f"/>
<circle cx="1336.97" cy="1445.45" r="2.6" fill="#f2260f"/>
<circle cx="1326.99" cy="1441.73" r="2.6" fill="#f2260f"/>
<circle cx="1369.58" cy="1437.07" r="2.6" fill="#f2260f"/>
<circle cx="1323.62" cy="1438.94" r="2.6" fill="#f2260f"/>
<circle cx="1337.92" cy="1426.81" r="2.6" fill="#f2260f"/>
<circle cx="1314.33" cy="1443.46" r="2.6" fill="#f2260f"/>
<circle cx="1333.81" cy="1430.3" r="2.6" fill="#f2260f"/>
<circle cx="1319.57" cy="1427.94" r="2.6" fill="#f2260f"/>
<circle cx="1316.85" cy="1432.36" r="2.6" fill="#f2260f"/>
<circle cx="1369.02" cy="1432.75" r="2.6" fill="#f2260f"/>
<circle cx="1333.73" cy="1435.27" r="2.6" fill="#f2260f"/>
<circle cx="1341.31" cy="1431.65" r="2.6" fill="#f2260f"/>
<circle cx="1328.81" cy="1433.16" r="2.6" fill="#f2260f"/>
<circle cx="1344.73" cy="1421.57" r="2.6" fill="#f2260f"/>
<circle cx="1338.9" cy="1450.09" r="2.6" fill="#f2260f"/>
<circle cx="1323.72" cy="1420.25" r="2.6" fill="#f2260f"/>
<circle cx="1328.4" cy="1447.52" r="2.6" fill="#f2260f"/>
<circle cx="1328.31" cy="1446.1" r="2.6" fill="#f2260f"/>
<circle cx="1338.36" cy="1445.93" r="2.6" fill="#f2260f"/>
<circle cx="1324.39" cy="1435.94" r="2.6" fill="#f2260f"/>
<circle cx="1331.55" cy="1414.18" r="2.6" fill="#f2260f"/>
<circle cx="1344.97" cy="1421.45" r="2.6" fill="#f2260f"/>
<circle cx="1363.87" cy="1438.12" r="2.6" fill="#f2260f"/>
<circle cx="1350.03" cy="1446.09" r="2.6" fill="#f2260f"/>
<circle cx="1330.03" cy="1438.11" r="2.6" fill="#f2260f"/>
<circle cx="1331.56" cy="1421.84" r="2.6" fill="#f2260f"/>
<circle cx="1315.43" cy="1444.37" r="2.6" fill="#f2260f"/>
<circle cx="1336.12" cy="1423.08" r="2.6" fill="#f2260f"/>
<circle cx="1369.26" cy="1428.33" r="2.6" fill="#f2260f"/>
<circle cx="1342.48" cy="1424.85" r="2.6" fill="#f2260f"/>
<circle cx="1324.99" cy="1419.77" r="2.6" fill="#f2260f"/>
<circle cx="1345.17" cy="1442.1" r="2.6" fill="#f2260f"/>
<circle cx="1353.4" cy="1420.49" r="2.6" fill="#f2260f"/>
<circle cx="1337.08" cy="1423.85" r="2.6" fill="#f2260f"/>
<circle cx="1319.85" cy="1452.14" r="2.6" fill="#f2260f"/>
<circle cx="1319.69" cy="1445.33" r="2.6" fill="#f2260f"/>
<circle cx="1333.04" cy="1422.4" r="2.6" fill="#f2260f"/>
<circle cx="1327.86" cy="1423.48" r="2.6" fill="#f2260f"/>
<circle cx="1347.82" cy="1422.86" r="2.6" fill="#f2260f"/>
<circle cx="1322.69" cy="1442.06" r="2.6" fill="#f2260f"/>
<circle cx="1330.24" cy="1449.57" r="2.6" fill="#f2260f"/>
<circle cx="1331.17" cy="1436.75" r="2.6" fill="#f2260f"/>
<circle cx="1332.77" cy="1438.18" r="2.6" fill="#f2260f"/>
<circle cx="1317.35" cy="1430.27" r="2.6" fill="#f2260f"/>
<circle cx="1322.28" cy="1431.72" r="2.6" fill="#f2260f"/>
<circle cx="1316.58" cy="1442.65" r="2.6" fill="#f2260f"/>
<circle cx="1328.63" cy="1446.06" r="2.6" fill="#f2260f"/>
<circle cx="1316.13" cy="1441.25" r="2.6" fill="#f2260f"/>
<circle cx="1330.13" cy="1447.21" r="2.6" fill="#f2260f"/>
<circle cx="1332.41" cy="1442.13" r="2.6" fill="#f2260f"/>
<circle cx="1325.28" cy="1435.01" r="2.6" fill="#f2260f"/>
<circle cx="1317.53" cy="1432.94" r="2.6" fill="#f2260f"/>
<circle cx="1322.85" cy="1442.57" r="2.6" fill="#f2260f"/>
<circle cx="1323.76" cy="1437.41" r="2.6" fill="#f2260f"/>
<circle cx="1320.17" cy="1433.96" r="2.6" fill="#f2260f"/>
<circle cx="1329.56" cy="1441.95" r="2.6" fill="#f2260f"/>
<circle cx="1327.97" cy="1447.48" r="2.6" fill="#f2260f"/>
<circle cx="1316.74" cy="1430.81" r="2.6" fill="#f2260f"/>
<circle cx="1316.79" cy="1449.77" r="2.6" fill="#f2260f"/>
<circle cx="1329" cy="1437.73" r="2.6" fill="#f2260f"/>
<circle cx="1328.64" cy="1436.21" r="2.6" fill="#f2260f"/>
<circle cx="1330.77" cy="1430.17" r="2.6" fill="#f2260f"/>
<circle cx="1327.78" cy="1451.53" r="2.6" fill="#f2260f"/>
<circle cx="1320.08" cy="1439.09" r="2.6" fill="#f2260f"/>
<circle cx="1313.14" cy="1434.61" r="2.6" fill="#f2260f"/>
<circle cx="1315.61" cy="1435.11" r="2.6" fill="#f2260f"/>
<circle cx="1312.5" cy="1440.59" r="2.6" fill="#f2260f"/>
<circle cx="1319.75" cy="1433.46" r="2.6" fill="#f2260f"/>
<circle cx="1332.64" cy="1435.43" r="2.6" fill="#f2260f"/>
<circle cx="1322.76" cy="1449.47" r="2.6" fill="#f2260f"/>
<circle cx="1328.2" cy="1451.18" r="2.6" fill="#f2260f"/>
<circle cx="1324.63" cy="1448.9" r="2.6" fill="#f2260f"/>
<circle cx="1311.56" cy="1445.62" r="2.6" fill="#f2260f"/>
<circle cx="1318.07" cy="1435.7" r="2.6" fill="#f2260f"/>
<circle cx="1328.47" cy="1445.8" r="2.6" fill="#f2260f"/>
<circle cx="1318.21" cy="1436.72" r="2.6" fill="#f2260f"/>
<circle cx="1316.69" cy="1450.42" r="2.6" fill="#f2260f"/>
<circle cx="1324.75" cy="1434.24" r="2.6" fill="#f2260f"/>
<circle cx="1322.78" cy="1429.39" r="2.6" fill="#f2260f"/>
<circle cx="1316.47" cy="1440.03" r="2.6" fill="#f2260f"/>
<circle cx="1333.34" cy="1448.6" r="2.6" fill="#f2260f"/>
<circle cx="1323.14" cy="1446.31" r="2.6" fill="#f2260f"/>
<circle cx="1316.05" cy="1444.66" r="2.6" fill="#f2260f"/>
<circle cx="1332.38" cy="1451.65" r="2.6" fill="#f2260f"/>
<circle cx="1318.83" cy="1447.54" r="2.6" fill="#f2260f"/>
<circle cx="1321.16" cy="1442.25" r="2.6" fill="#f2260f"/>
<circle cx="1329.05" cy="1434.38" r="2.6" fill="#f2260f"/>
<circle cx="1328.04" cy="1444.9" r="2.6" fill="#f2260f"/>
<circle cx="1330.59" cy="1445.63" r="2.6" fill="#f2260f"/>
<circle cx="1330.66" cy="1442.5" r="2.6" fill="#f2260f"/>
<circle cx="1323.04" cy="1439.08" r="2.6" fill="#f2260f"/>
<circle cx="1319.76" cy="1439.1" r="2.6" fill="#f2260f"/>
<circle cx="1321.84" cy="1437.41" r="2.6" fill="#f2260f"/>
<circle cx="1313.48" cy="1437.54" r="2.6" fill="#f2260f"/>
<circle cx="1332.68" cy="1435.35" r="2.6" fill="#f2260f"/>
<circle cx="1333.59" cy="1447.98" r="2.6" fill="#f2260f"/>
<circle cx="1320.88" cy="1433.23" r="2.6" fill="#f2260f"/>
<circle cx="1331.1" cy="1450.92" r="2.6" fill="#f2260f"/>
<circle cx="1317.46" cy="1444.05" r="2.6" fill="#f2260f"/>
<circle cx="1056.4" cy="1046.1" r="2.6" fill="#f2260f"/>
<circle cx="1073.8" cy="1233.5" r="2.6" fill="#f2260f"/>
<circle cx="1085.2" cy="1268.8" r="2.6" fill="#f2260f"/>
<circle cx="1089.3" cy="1278.5" r="2.6" fill="#f2260f"/>
<circle cx="1091.7" cy="1282.1" r="2.6" fill="#f2260f"/>
<circle cx="1120" cy="1282.3" r="2.6" fill="#f2260f"/>
<circle cx="1159.5" cy="1291.5" r="2.6" fill="#f2260f"/>
<circle cx="1166" cy="1289.6" r="2.6" fill="#f2260f"/>
<circle cx="1173.3" cy="1331.4" r="2.6" fill="#f2260f"/>
<circle cx="1149.4" cy="1337.4" r="2.6" fill="#f2260f"/>
<circle cx="1151.9" cy="1344.9" r="2.6" fill="#f2260f"/>
<circle cx="1125.4" cy="1362.8" r="2.6" fill="#f2260f"/>
<circle cx="1125.6" cy="1365.5" r="2.6" fill="#f2260f"/>
<circle cx="1191.2" cy="1362.3" r="2.6" fill="#f2260f"/>
<circle cx="1204.6" cy="1369.3" r="2.6" fill="#f2260f"/>
<circle cx="1132.7" cy="1378.5" r="2.6" fill="#f2260f"/>
<circle cx="1186" cy="1378.5" r="2.6" fill="#f2260f"/>
<circle cx="1139.5" cy="1384.7" r="2.6" fill="#f2260f"/>
<circle cx="1175.8" cy="1394.8" r="2.6" fill="#f2260f"/>
<circle cx="1175.8" cy="1400.2" r="2.6" fill="#f2260f"/>
<circle cx="1201" cy="1401.8" r="2.6" fill="#f2260f"/>
<circle cx="1202.6" cy="1400.5" r="2.6" fill="#f2260f"/>
<circle cx="1213.7" cy="1399.7" r="2.6" fill="#f2260f"/>
<circle cx="1144.9" cy="1400.5" r="2.6" fill="#f2260f"/>
<circle cx="1150.6" cy="1405.4" r="2.6" fill="#f2260f"/>
<circle cx="1159.5" cy="1405" r="2.6" fill="#f2260f"/>
<circle cx="1209.1" cy="1413.8" r="2.6" fill="#f2260f"/>
<circle cx="1148" cy="1404" r="2.6" fill="#f2260f"/>
<circle cx="1377.8" cy="1188.7" r="2.6" fill="#f2260f"/>
<circle cx="1367.9" cy="1255.6" r="2.6" fill="#f2260f"/>
<circle cx="1421.6" cy="1362.5" r="2.6" fill="#f2260f"/>
<circle cx="1411.9" cy="1390.2" r="2.6" fill="#f2260f"/>
<circle cx="1393.2" cy="1395.3" r="2.6" fill="#f2260f"/>
<circle cx="1397.1" cy="1414" r="2.6" fill="#f2260f"/>
<circle cx="1399" cy="1416" r="2.6" fill="#f2260f"/>
<circle cx="1384.2" cy="1415.9" r="2.6" fill="#f2260f"/>
<circle cx="1388.1" cy="1424.3" r="2.6" fill="#f2260f"/>
<circle cx="1336.6" cy="1386.3" r="2.6" fill="#f2260f"/>
<circle cx="1344.3" cy="1376.6" r="2.6" fill="#f2260f"/>
<circle cx="1346.3" cy="1378.6" r="2.6" fill="#f2260f"/>
<circle cx="1359.1" cy="1374.1" r="2.6" fill="#f2260f"/>
<circle cx="1352.7" cy="1384.4" r="2.6" fill="#f2260f"/>
<circle cx="1355.3" cy="1392.1" r="2.6" fill="#f2260f"/>
<circle cx="1364.9" cy="1400.5" r="2.6" fill="#f2260f"/>
<circle cx="1360.4" cy="1405.6" r="2.6" fill="#f2260f"/>
<circle cx="1356.5" cy="1414" r="2.6" fill="#f2260f"/>
<circle cx="1365.6" cy="1417.8" r="2.6" fill="#f2260f"/>
<circle cx="1369.4" cy="1423" r="2.6" fill="#f2260f"/>
<circle cx="1375.9" cy="1423.6" r="2.6" fill="#f2260f"/>
<circle cx="1372.6" cy="1441" r="2.6" fill="#f2260f"/>
<circle cx="1331.4" cy="1408.8" r="2.6" fill="#f2260f"/>
<circle cx="1339.2" cy="1410.1" r="2.6" fill="#f2260f"/>
<circle cx="1323.1" cy="1415.3" r="2.6" fill="#f2260f"/>
<rect x="1039.3" y="1022.5" width="400" height="485.5" fill="none" stroke="#000" stroke-width="3.3" />
<line x1="1028.5" y1="1487.2" x2="1039.3" y2="1487.2" stroke="#000" stroke-width="2.7" stroke-linecap="butt" />
<text x="1022.5" y="1487.2" font-size="17" text-anchor="middle" font-weight="normal" font-style="normal" fill="#000" transform="rotate(-90 1022.5 1487.2)" >0</text>
<line x1="1028.5" y1="1361.2" x2="1039.3" y2="1361.2" stroke="#000" stroke-width="2.7" stroke-linecap="butt" />
<text x="1022.5" y="1361.2" font-size="17" text-anchor="middle" font-weight="normal" font-style="normal" fill="#000" transform="rotate(-90 1022.5 1361.2)" >5</text>
<line x1="1028.5" y1="1235.2" x2="1039.3" y2="1235.2" stroke="#000" stroke-width="2.7" stroke-linecap="butt" />
<text x="1022.5" y="1235.2" font-size="17" text-anchor="middle" font-weight="normal" font-style="normal" fill="#000" transform="rotate(-90 1022.5 1235.2)" >10</text>
<line x1="1028.5" y1="1109.2" x2="1039.3" y2="1109.2" stroke="#000" stroke-width="2.7" stroke-linecap="butt" />
<text x="1022.5" y="1109.2" font-size="17" text-anchor="middle" font-weight="normal" font-style="normal" fill="#000" transform="rotate(-90 1022.5 1109.2)" >15</text>
<line x1="1044.8" y1="1508" x2="1044.8" y2="1515" stroke="#000" stroke-width="2.7" stroke-linecap="butt" />
<text x="1044.8" y="1536.2" font-size="17" text-anchor="middle" font-weight="normal" font-style="normal" fill="#000" >-4</text>
<line x1="1160" y1="1508" x2="1160" y2="1515" stroke="#000" stroke-width="2.7" stroke-linecap="butt" />
<text x="1160" y="1536.2" font-size="17" text-anchor="middle" font-weight="normal" font-style="normal" fill="#000" >-2</text>
<line x1="1275.2" y1="1508" x2="1275.2" y2="1515" stroke="#000" stroke-width="2.7" stroke-linecap="butt" />
<text x="1275.2" y="1536.2" font-size="17" text-anchor="middle" font-weight="normal" font-style="normal" fill="#000" >0</text>
<line x1="1390.4" y1="1508" x2="1390.4" y2="1515" stroke="#000" stroke-width="2.7" stroke-linecap="butt" />
<text x="1390.4" y="1536.2" font-size="17" text-anchor="middle" font-weight="normal" font-style="normal" fill="#000" >2</text>
<text x="1249.5" y="1559.5" font-size="25.5" text-anchor="middle" font-weight="normal" font-style="normal" fill="#000" >log2 (fold change)</text>
<text x="1238" y="994.6" font-size="29" text-anchor="middle" font-weight="normal" font-style="normal" fill="#000" >HSC Vwf<tspan font-size="19" dy="-11">–</tspan><tspan dy="11"> (IgG vs. GPIbα)</tspan></text>
<text x="1065.8" y="1053.9" font-size="21.6" text-anchor="start" font-weight="normal" font-style="italic" fill="#000" >H2-Ob</text>
<text x="1097.6" y="1228.7" font-size="21.6" text-anchor="start" font-weight="normal" font-style="italic" fill="#000" >Ebf1</text>
<text x="1109.3" y="1263.1" font-size="21.6" text-anchor="start" font-weight="normal" font-style="italic" fill="#000" >Trem3</text>
<text x="1189.8" y="1283.4" font-size="21.6" text-anchor="start" font-weight="normal" font-style="italic" fill="#000" >Plek</text>
<text x="1141.8" y="1363.1" font-size="21.6" text-anchor="start" font-weight="normal" font-style="italic" fill="#000" >Mx2</text>
<text x="1076.8" y="1413.5" font-size="21.6" text-anchor="start" font-weight="normal" font-style="italic" fill="#000" >Itga9</text>
<text x="1082" y="1433.3" font-size="21.6" text-anchor="start" font-weight="normal" font-style="italic" fill="#000" >Bcl6</text>
<text x="1056.5" y="1455.1" font-size="21.6" text-anchor="start" font-weight="normal" font-style="italic" fill="#000" >Clec1b</text>
<text x="1081.4" y="1475.9" font-size="21.6" text-anchor="start" font-weight="normal" font-style="italic" fill="#000" >Ccl4</text>
<text x="1226.4" y="1394.8" font-size="21.6" text-anchor="start" font-weight="normal" font-style="italic" fill="#000" >Angpt1</text>
<text x="1246.7" y="1418.2" font-size="21.6" text-anchor="start" font-weight="normal" font-style="italic" fill="#000" >Mpl</text>
<text x="1245.1" y="1437.7" font-size="21.6" text-anchor="start" font-weight="normal" font-style="italic" fill="#000" >Kit</text>
<text x="1355.9" y="1167" font-size="21.6" text-anchor="start" font-weight="normal" font-style="italic" fill="#000" >Hmga1</text>
<text x="1349.5" y="1231.1" font-size="21.6" text-anchor="start" font-weight="normal" font-style="italic" fill="#000" >Socs2</text>
<text x="1312.2" y="1323.8" font-size="21.6" text-anchor="start" font-weight="normal" font-style="italic" fill="#000" >Ifitm1</text>
<text x="1265.2" y="1358.6" font-size="21.6" text-anchor="start" font-weight="normal" font-style="italic" fill="#000" >Hmg1</text>
<text x="1350.2" y="1365.1" font-size="21.6" text-anchor="start" font-weight="normal" font-style="italic" fill="#000" >Tubg1</text>
<text x="1382.3" y="1441" font-size="21.6" text-anchor="start" font-weight="normal" font-style="italic" fill="#000" >Birc5</text>
<text x="1375.3" y="1459.7" font-size="21.6" text-anchor="start" font-weight="normal" font-style="italic" fill="#000" >Aurkb</text>
<text x="1374.6" y="1478.3" font-size="21.6" text-anchor="start" font-weight="normal" font-style="italic" fill="#000" >Cenpf</text>
<text x="1347.6" y="1499.6" font-size="21.6" text-anchor="start" font-weight="normal" font-style="italic" fill="#000" >Itgb1bp2</text>
<line x1="1081" y1="1229.8" x2="1094.5" y2="1223.2" stroke="#000" stroke-width="2.6" stroke-linecap="butt" />
<line x1="1092.8" y1="1264.2" x2="1106.3" y2="1258.5" stroke="#000" stroke-width="2.6" stroke-linecap="butt" />
<line x1="1173.7" y1="1284.2" x2="1187.2" y2="1277.4" stroke="#000" stroke-width="2.6" stroke-linecap="butt" />
<line x1="1138.4" y1="1374.8" x2="1151.9" y2="1368.3" stroke="#000" stroke-width="2.6" stroke-linecap="butt" />
<line x1="1129.1" y1="1407.6" x2="1152.2" y2="1414.5" stroke="#000" stroke-width="2.6" stroke-linecap="butt" />
<line x1="1129.1" y1="1428.5" x2="1154.6" y2="1422.6" stroke="#000" stroke-width="2.6" stroke-linecap="butt" />
<line x1="1129.1" y1="1451.2" x2="1177.4" y2="1441.8" stroke="#000" stroke-width="2.6" stroke-linecap="butt" />
<line x1="1129.1" y1="1470.7" x2="1196.9" y2="1449.9" stroke="#000" stroke-width="2.6" stroke-linecap="butt" />
<line x1="1239.2" y1="1400.8" x2="1229.4" y2="1419" stroke="#000" stroke-width="2.6" stroke-linecap="butt" />
<line x1="1244.1" y1="1414.5" x2="1232.7" y2="1422.6" stroke="#000" stroke-width="2.6" stroke-linecap="butt" />
<line x1="1244.1" y1="1431.7" x2="1231.1" y2="1437.7" stroke="#000" stroke-width="2.6" stroke-linecap="butt" />
<line x1="1376.9" y1="1172.8" x2="1376.9" y2="1181.2" stroke="#000" stroke-width="2.6" stroke-linecap="butt" />
<line x1="1366.2" y1="1238.5" x2="1366.2" y2="1247.5" stroke="#000" stroke-width="2.6" stroke-linecap="butt" />
<line x1="1336.6" y1="1331" x2="1336.6" y2="1378.6" stroke="#000" stroke-width="2.6" stroke-linecap="butt" />
<line x1="1305.7" y1="1368.9" x2="1321.8" y2="1436.5" stroke="#000" stroke-width="2.6" stroke-linecap="butt" />
<line x1="1370.7" y1="1371.5" x2="1359.8" y2="1401.1" stroke="#000" stroke-width="2.6" stroke-linecap="butt" />
<line x1="1334.7" y1="1431.4" x2="1381" y2="1435.9" stroke="#000" stroke-width="2.6" stroke-linecap="butt" />
<line x1="1334.7" y1="1437.8" x2="1375.2" y2="1452.6" stroke="#000" stroke-width="2.6" stroke-linecap="butt" />
<line x1="1334.7" y1="1444.6" x2="1372.6" y2="1472.5" stroke="#000" stroke-width="2.6" stroke-linecap="butt" />
<line x1="1333.4" y1="1450.7" x2="1366.2" y2="1484.1" stroke="#000" stroke-width="2.6" stroke-linecap="butt" />
<defs><clipPath id="cG"><circle cx="242.8" cy="1786.9" r="111.2"/></clipPath><clipPath id="cR"><circle cx="425.7" cy="1786.1" r="149.2"/></clipPath><clipPath id="cB"><circle cx="300.8" cy="1935.7" r="116.6"/></clipPath></defs>
<circle cx="425.7" cy="1786.1" r="149.2" fill="#e18584"/>
<circle cx="242.8" cy="1786.9" r="111.2" fill="#c0cc9e"/>
<circle cx="300.8" cy="1935.7" r="116.6" fill="#9cb0ca"/>
<g clip-path="url(#cG)"><circle cx="425.7" cy="1786.1" r="149.2" fill="#bf6951"/></g>
<g clip-path="url(#cG)"><circle cx="300.8" cy="1935.7" r="116.6" fill="#8aa07f"/></g>
<g clip-path="url(#cR)"><circle cx="300.8" cy="1935.7" r="116.6" fill="#af5a69"/></g>
<g clip-path="url(#cG)"><g clip-path="url(#cR)"><circle cx="300.8" cy="1935.7" r="116.6" fill="#a35545"/></g></g>
<circle cx="242.8" cy="1786.9" r="111.2" fill="none" stroke="#000" stroke-width="4"/>
<circle cx="425.7" cy="1786.1" r="149.2" fill="none" stroke="#000" stroke-width="4"/>
<circle cx="300.8" cy="1935.7" r="116.6" fill="none" stroke="#000" stroke-width="4"/>
<text x="207.8" y="1773.1" font-size="29" text-anchor="middle" font-weight="normal" font-style="normal" fill="#000" >146</text>
<text x="311.9" y="1773.1" font-size="29" text-anchor="middle" font-weight="normal" font-style="normal" fill="#000" >54</text>
<text x="452.5" y="1773.1" font-size="29" text-anchor="middle" font-weight="normal" font-style="normal" fill="#000" >414</text>
<text x="310.2" y="1852.8" font-size="29" text-anchor="middle" font-weight="normal" font-style="normal" fill="#000" >6</text>
<text x="254.7" y="1873.9" font-size="29" text-anchor="middle" font-weight="normal" font-style="normal" fill="#000" >24</text>
<text x="361" y="1889.6" font-size="29" text-anchor="middle" font-weight="normal" font-style="normal" fill="#000" >48</text>
<text x="298.4" y="1971.4" font-size="29" text-anchor="middle" font-weight="normal" font-style="normal" fill="#000" >185</text>
<text x="170.5" y="1626" font-size="29" text-anchor="middle" font-weight="normal" font-style="normal" fill="#000" >Vwf<tspan font-size="19" dy="-11">+</tspan><tspan dy="11"> HSC</tspan></text>
<text x="170.5" y="1660.4" font-size="29" text-anchor="middle" font-weight="normal" font-style="normal" fill="#000" >(IgG vs. GPIbα)</text>
<text x="635.5" y="1636.6" font-size="29" text-anchor="middle" font-weight="normal" font-style="normal" fill="#000" >Vwf<tspan font-size="19" dy="-11">–</tspan><tspan dy="11"> HSC</tspan></text>
<text x="640" y="1671" font-size="29" text-anchor="middle" font-weight="normal" font-style="normal" fill="#000" >(IgG vs. GPIbα)</text>
<text x="302.6" y="2087" font-size="29" text-anchor="middle" font-weight="normal" font-style="normal" fill="#000" >Vwf<tspan font-size="19" dy="-11">+</tspan><tspan dy="11"> HSC vs. HSC Vwf</tspan><tspan font-size="19" dy="-11">–</tspan></text>
<text x="302.6" y="2120" font-size="29" text-anchor="middle" font-weight="normal" font-style="normal" fill="#000" >(IgG)</text>
<line x1="882.9" y1="1707.9" x2="882.9" y2="1986.1" stroke="#666" stroke-width="1.3" stroke-linecap="butt" stroke-dasharray="6,6"/>
<line x1="945.5" y1="1707.9" x2="945.5" y2="1986.1" stroke="#666" stroke-width="1.3" stroke-linecap="butt" stroke-dasharray="6,6"/>
<line x1="1008.1" y1="1707.9" x2="1008.1" y2="1986.1" stroke="#666" stroke-width="1.3" stroke-linecap="butt" stroke-dasharray="6,6"/>
<rect x="820.3" y="1716.5" width="217.5" height="22.8" fill="#7a963f" stroke="#2a2a2a" stroke-width="1" />
<rect x="820.3" y="1750.9" width="211.4" height="22.3" fill="#7a963f" stroke="#2a2a2a" stroke-width="1" />
<rect x="820.3" y="1785" width="188" height="22.4" fill="#7a963f" stroke="#2a2a2a" stroke-width="1" />
<rect x="820.3" y="1818.5" width="176.9" height="22.8" fill="#7a963f" stroke="#2a2a2a" stroke-width="1" />
<rect x="820.3" y="1852.7" width="150.4" height="22.7" fill="#7a963f" stroke="#2a2a2a" stroke-width="1" />
<rect x="820.3" y="1886.2" width="126" height="23.2" fill="#7a963f" stroke="#2a2a2a" stroke-width="1" />
<rect x="820.3" y="1920.2" width="105.3" height="22.9" fill="#7a963f" stroke="#2a2a2a" stroke-width="1" />
<rect x="820.3" y="1954.3" width="92.5" height="22.8" fill="#7a963f" stroke="#2a2a2a" stroke-width="1" />
<rect x="820.3" y="1707.9" width="250.6" height="278.2" fill="none" stroke="#000" stroke-width="3" />
<line x1="1070.9" y1="1727.9" x2="1083.5" y2="1727.9" stroke="#000" stroke-width="2.7" stroke-linecap="butt" />
<text x="1089" y="1732.7" font-size="21.9" text-anchor="start" font-weight="normal" font-style="normal" fill="#000" >Integrin-mediated signaling pathway</text>
<line x1="1070.9" y1="1762.05" x2="1083.5" y2="1762.05" stroke="#000" stroke-width="2.7" stroke-linecap="butt" />
<text x="1089" y="1766.85" font-size="21.9" text-anchor="start" font-weight="normal" font-style="normal" fill="#000" >Cell-cell adhesion</text>
<line x1="1070.9" y1="1796.2" x2="1083.5" y2="1796.2" stroke="#000" stroke-width="2.7" stroke-linecap="butt" />
<text x="1089" y="1801" font-size="21.9" text-anchor="start" font-weight="normal" font-style="normal" fill="#000" >Regulation of cell cycle</text>
<line x1="1070.9" y1="1829.9" x2="1083.5" y2="1829.9" stroke="#000" stroke-width="2.7" stroke-linecap="butt" />
<text x="1089" y="1834.7" font-size="21.9" text-anchor="start" font-weight="normal" font-style="normal" fill="#000" >Cell activation</text>
<line x1="1070.9" y1="1864.05" x2="1083.5" y2="1864.05" stroke="#000" stroke-width="2.7" stroke-linecap="butt" />
<text x="1089" y="1868.85" font-size="21.9" text-anchor="start" font-weight="normal" font-style="normal" fill="#000" >Regulation of signal transduction</text>
<line x1="1070.9" y1="1897.8" x2="1083.5" y2="1897.8" stroke="#000" stroke-width="2.7" stroke-linecap="butt" />
<text x="1089" y="1902.6" font-size="21.9" text-anchor="start" font-weight="normal" font-style="normal" fill="#000" >Blood coagulation</text>
<line x1="1070.9" y1="1931.65" x2="1083.5" y2="1931.65" stroke="#000" stroke-width="2.7" stroke-linecap="butt" />
<text x="1089" y="1936.45" font-size="21.9" text-anchor="start" font-weight="normal" font-style="normal" fill="#000" >Response to stress</text>
<line x1="1070.9" y1="1965.7" x2="1083.5" y2="1965.7" stroke="#000" stroke-width="2.7" stroke-linecap="butt" />
<text x="1089" y="1970.5" font-size="21.9" text-anchor="start" font-weight="normal" font-style="normal" fill="#000" >Inflammatory response</text>
<line x1="820.3" y1="1986.1" x2="820.3" y2="1995.4" stroke="#000" stroke-width="3" stroke-linecap="butt" />
<text x="820.3" y="2019.8" font-size="23.5" text-anchor="middle" font-weight="normal" font-style="normal" fill="#000" >0</text>
<line x1="882.9" y1="1986.1" x2="882.9" y2="1995.4" stroke="#000" stroke-width="3" stroke-linecap="butt" />
<text x="882.9" y="2019.8" font-size="23.5" text-anchor="middle" font-weight="normal" font-style="normal" fill="#000" >1</text>
<line x1="945.5" y1="1986.1" x2="945.5" y2="1995.4" stroke="#000" stroke-width="3" stroke-linecap="butt" />
<text x="945.5" y="2019.8" font-size="23.5" text-anchor="middle" font-weight="normal" font-style="normal" fill="#000" >2</text>
<line x1="1008.1" y1="1986.1" x2="1008.1" y2="1995.4" stroke="#000" stroke-width="3" stroke-linecap="butt" />
<text x="1008.1" y="2019.8" font-size="23.5" text-anchor="middle" font-weight="normal" font-style="normal" fill="#000" >3</text>
<line x1="1070.7" y1="1986.1" x2="1070.7" y2="1995.4" stroke="#000" stroke-width="3" stroke-linecap="butt" />
<text x="1070.7" y="2019.8" font-size="23.5" text-anchor="middle" font-weight="normal" font-style="normal" fill="#000" >4</text>
<text x="946.4" y="2052" font-size="25.6" text-anchor="middle" font-weight="normal" font-style="normal" fill="#000" >-Log (p Value)</text>
<text x="945.8" y="1688.5" font-size="29" text-anchor="middle" font-weight="normal" font-style="normal" fill="#000" >HSC Vwf<tspan font-size="19" dy="-11">+</tspan></text>
<line x1="99.7" y1="2251.8" x2="99.7" y2="2481" stroke="#000" stroke-width="2.6" stroke-linecap="butt" />
<line x1="92.3" y1="2479.7" x2="272.7" y2="2479.7" stroke="#000" stroke-width="2.6" stroke-linecap="butt" />
<line x1="92.3" y1="2479.7" x2="99.7" y2="2479.7" stroke="#000" stroke-width="2.6" stroke-linecap="butt" />
<text x="86.4" y="2488.3" font-size="24.5" text-anchor="end" font-weight="normal" font-style="normal" fill="#000" >0</text>
<line x1="92.3" y1="2438.1" x2="99.7" y2="2438.1" stroke="#000" stroke-width="2.6" stroke-linecap="butt" />
<text x="86.4" y="2446.7" font-size="24.5" text-anchor="end" font-weight="normal" font-style="normal" fill="#000" >2</text>
<line x1="92.3" y1="2396.5" x2="99.7" y2="2396.5" stroke="#000" stroke-width="2.6" stroke-linecap="butt" />
<text x="86.4" y="2405.1" font-size="24.5" text-anchor="end" font-weight="normal" font-style="normal" fill="#000" >4</text>
<line x1="92.3" y1="2354.9" x2="99.7" y2="2354.9" stroke="#000" stroke-width="2.6" stroke-linecap="butt" />
<text x="86.4" y="2363.5" font-size="24.5" text-anchor="end" font-weight="normal" font-style="normal" fill="#000" >6</text>
<line x1="92.3" y1="2313.3" x2="99.7" y2="2313.3" stroke="#000" stroke-width="2.6" stroke-linecap="butt" />
<text x="86.4" y="2321.9" font-size="24.5" text-anchor="end" font-weight="normal" font-style="normal" fill="#000" >8</text>
<line x1="92.3" y1="2271.7" x2="99.7" y2="2271.7" stroke="#000" stroke-width="2.6" stroke-linecap="butt" />
<text x="86.4" y="2280.3" font-size="24.5" text-anchor="end" font-weight="normal" font-style="normal" fill="#000" >10</text>
<rect x="109" y="2342.5" width="25.2" height="137.2" fill="#005494" stroke="#000" stroke-width="2.4" />
<rect x="151.9" y="2426" width="25.2" height="53.7" fill="#931200" stroke="#000" stroke-width="2.4" />
<rect x="195" y="2339.3" width="25.2" height="140.4" fill="#005494" stroke="#000" stroke-width="2.4" />
<rect x="238.2" y="2328.4" width="25.2" height="151.3" fill="#931200" stroke="#000" stroke-width="2.4" />
<line x1="121.6" y1="2342.5" x2="121.6" y2="2290.1" stroke="#000" stroke-width="2.4" stroke-linecap="butt" />
<line x1="114.1" y1="2290.1" x2="129.1" y2="2290.1" stroke="#000" stroke-width="2.4" stroke-linecap="butt" />
<line x1="164.5" y1="2426" x2="164.5" y2="2413.9" stroke="#000" stroke-width="2.4" stroke-linecap="butt" />
<line x1="157" y1="2413.9" x2="172" y2="2413.9" stroke="#000" stroke-width="2.4" stroke-linecap="butt" />
<line x1="207.6" y1="2339.3" x2="207.6" y2="2275" stroke="#000" stroke-width="2.4" stroke-linecap="butt" />
<line x1="200.1" y1="2275" x2="215.1" y2="2275" stroke="#000" stroke-width="2.4" stroke-linecap="butt" />
<line x1="250.8" y1="2328.4" x2="250.8" y2="2281.3" stroke="#000" stroke-width="2.4" stroke-linecap="butt" />
<line x1="243.3" y1="2281.3" x2="258.3" y2="2281.3" stroke="#000" stroke-width="2.4" stroke-linecap="butt" />
<circle cx="121.4" cy="2283.6" r="4.7" fill="#000"/>
<circle cx="121.4" cy="2357.9" r="4.7" fill="#000"/>
<circle cx="121.4" cy="2381.9" r="4.7" fill="#000"/>
<circle cx="155.2" cy="2417.2" r="4.7" fill="#000"/>
<circle cx="173.9" cy="2419.8" r="4.7" fill="#000"/>
<circle cx="164.6" cy="2436.5" r="4.7" fill="#000"/>
<circle cx="207.9" cy="2265.6" r="4.7" fill="#000"/>
<circle cx="207.9" cy="2366.7" r="4.7" fill="#000"/>
<circle cx="207.9" cy="2381.1" r="4.7" fill="#000"/>
<circle cx="251.1" cy="2292.7" r="4.7" fill="#000"/>
<circle cx="251.1" cy="2309.8" r="4.7" fill="#000"/>
<circle cx="251.1" cy="2379.5" r="4.7" fill="#000"/>
<line x1="121.6" y1="2479.7" x2="121.6" y2="2486.7" stroke="#000" stroke-width="2.6" stroke-linecap="butt" />
<line x1="164.5" y1="2479.7" x2="164.5" y2="2486.7" stroke="#000" stroke-width="2.6" stroke-linecap="butt" />
<line x1="207.6" y1="2479.7" x2="207.6" y2="2486.7" stroke="#000" stroke-width="2.6" stroke-linecap="butt" />
<line x1="250.8" y1="2479.7" x2="250.8" y2="2486.7" stroke="#000" stroke-width="2.6" stroke-linecap="butt" />
<line x1="117.3" y1="2497.5" x2="168" y2="2497.5" stroke="#000" stroke-width="2.6" stroke-linecap="butt" />
<line x1="202.4" y1="2497.5" x2="253.8" y2="2497.5" stroke="#000" stroke-width="2.6" stroke-linecap="butt" />
<line x1="117.9" y1="2258.7" x2="157.2" y2="2258.7" stroke="#000" stroke-width="3.8" stroke-linecap="butt" />
<text x="139.3" y="2259.2" font-size="36" text-anchor="middle" font-weight="bold" font-style="normal" fill="#000" letter-spacing="3.5">*</text>
<line x1="211.8" y1="2244" x2="251.1" y2="2244" stroke="#000" stroke-width="3.8" stroke-linecap="butt" />
<text x="231.45" y="2234.5" font-size="25.5" text-anchor="middle" font-weight="normal" font-style="normal" fill="#000" >ns</text>
<text x="184.2" y="2197.9" font-size="28.6" text-anchor="middle" font-weight="normal" font-style="italic" fill="#000" >Runx3</text>
<text x="163.35" y="2516.7" font-size="30.5" text-anchor="end" font-weight="normal" font-style="normal" fill="#000" transform="rotate(-36.5 163.35 2516.7)" >Vwf<tspan font-size="21" dx="1.5" dy="-12">+</tspan></text>
<text x="259.5" y="2516.7" font-size="30.5" text-anchor="end" font-weight="normal" font-style="normal" fill="#000" transform="rotate(-36.5 259.5 2516.7)" >Vwf<tspan font-size="21" dx="1.5" dy="-12">–</tspan></text>
<text x="26.5" y="2365.8" font-size="29.3" text-anchor="middle" font-weight="normal" font-style="normal" fill="#000" transform="rotate(-90 26.5 2365.8)" >FPKM</text>
<line x1="369.7" y1="2252.5" x2="369.7" y2="2481.5" stroke="#000" stroke-width="2.6" stroke-linecap="butt" />
<line x1="362.3" y1="2480.2" x2="540.6" y2="2480.2" stroke="#000" stroke-width="2.6" stroke-linecap="butt" />
<line x1="362.3" y1="2480.2" x2="369.7" y2="2480.2" stroke="#000" stroke-width="2.6" stroke-linecap="butt" />
<text x="354" y="2488.8" font-size="24.5" text-anchor="end" font-weight="normal" font-style="normal" fill="#000" >0</text>
<line x1="362.3" y1="2404.55" x2="369.7" y2="2404.55" stroke="#000" stroke-width="2.6" stroke-linecap="butt" />
<text x="354" y="2413.15" font-size="24.5" text-anchor="end" font-weight="normal" font-style="normal" fill="#000" >5</text>
<line x1="362.3" y1="2328.9" x2="369.7" y2="2328.9" stroke="#000" stroke-width="2.6" stroke-linecap="butt" />
<text x="354" y="2337.5" font-size="24.5" text-anchor="end" font-weight="normal" font-style="normal" fill="#000" >10</text>
<line x1="362.3" y1="2253.25" x2="369.7" y2="2253.25" stroke="#000" stroke-width="2.6" stroke-linecap="butt" />
<text x="354" y="2261.85" font-size="24.5" text-anchor="end" font-weight="normal" font-style="normal" fill="#000" >15</text>
<rect x="378.2" y="2454.6" width="25.2" height="25.6" fill="#005494" stroke="#000" stroke-width="2.4" />
<rect x="421" y="2333.9" width="25.2" height="146.3" fill="#931200" stroke="#000" stroke-width="2.4" />
<rect x="463.5" y="2451.9" width="25.2" height="28.3" fill="#005494" stroke="#000" stroke-width="2.4" />
<rect x="506.6" y="2423.5" width="25.2" height="56.7" fill="#931200" stroke="#000" stroke-width="2.4" />
<line x1="390.8" y1="2454.6" x2="390.8" y2="2426.2" stroke="#000" stroke-width="2.4" stroke-linecap="butt" />
<line x1="383.3" y1="2426.2" x2="398.3" y2="2426.2" stroke="#000" stroke-width="2.4" stroke-linecap="butt" />
<line x1="433.6" y1="2333.9" x2="433.6" y2="2292.7" stroke="#000" stroke-width="2.4" stroke-linecap="butt" />
<line x1="426.1" y1="2292.7" x2="441.1" y2="2292.7" stroke="#000" stroke-width="2.4" stroke-linecap="butt" />
<line x1="476.1" y1="2451.9" x2="476.1" y2="2400.2" stroke="#000" stroke-width="2.4" stroke-linecap="butt" />
<line x1="468.6" y1="2400.2" x2="483.6" y2="2400.2" stroke="#000" stroke-width="2.4" stroke-linecap="butt" />
<line x1="519.2" y1="2423.5" x2="519.2" y2="2407" stroke="#000" stroke-width="2.4" stroke-linecap="butt" />
<line x1="511.7" y1="2407" x2="526.7" y2="2407" stroke="#000" stroke-width="2.4" stroke-linecap="butt" />
<circle cx="390.6" cy="2421.6" r="4.7" fill="#000"/>
<circle cx="381.5" cy="2470.5" r="4.7" fill="#000"/>
<circle cx="399.8" cy="2465" r="4.7" fill="#000"/>
<circle cx="433.6" cy="2286.8" r="4.7" fill="#000"/>
<circle cx="433.6" cy="2348.1" r="4.7" fill="#000"/>
<circle cx="433.6" cy="2360.4" r="4.7" fill="#000"/>
<circle cx="476.6" cy="2392.4" r="4.7" fill="#000"/>
<circle cx="467.1" cy="2479.3" r="4.7" fill="#000"/>
<circle cx="485.4" cy="2476.5" r="4.7" fill="#000"/>
<circle cx="509.5" cy="2410.7" r="4.7" fill="#000"/>
<circle cx="528.7" cy="2416.1" r="4.7" fill="#000"/>
<circle cx="519" cy="2437.2" r="4.7" fill="#000"/>
<line x1="390.8" y1="2480.2" x2="390.8" y2="2487.2" stroke="#000" stroke-width="2.6" stroke-linecap="butt" />
<line x1="433.6" y1="2480.2" x2="433.6" y2="2487.2" stroke="#000" stroke-width="2.6" stroke-linecap="butt" />
<line x1="476.1" y1="2480.2" x2="476.1" y2="2487.2" stroke="#000" stroke-width="2.6" stroke-linecap="butt" />
<line x1="519.2" y1="2480.2" x2="519.2" y2="2487.2" stroke="#000" stroke-width="2.6" stroke-linecap="butt" />
<line x1="386" y1="2497.5" x2="437.2" y2="2497.5" stroke="#000" stroke-width="2.6" stroke-linecap="butt" />
<line x1="471.1" y1="2497.5" x2="522.7" y2="2497.5" stroke="#000" stroke-width="2.6" stroke-linecap="butt" />
<line x1="394.6" y1="2262.3" x2="433.6" y2="2262.3" stroke="#000" stroke-width="3.8" stroke-linecap="butt" />
<text x="415.85" y="2262.8" font-size="36" text-anchor="middle" font-weight="bold" font-style="normal" fill="#000" letter-spacing="3.5">*</text>
<line x1="482.1" y1="2346.7" x2="520.8" y2="2346.7" stroke="#000" stroke-width="3.8" stroke-linecap="butt" />
<text x="501.45" y="2337.2" font-size="25.5" text-anchor="middle" font-weight="normal" font-style="normal" fill="#000" >ns</text>
<text x="453.7" y="2197.9" font-size="28.6" text-anchor="middle" font-weight="normal" font-style="italic" fill="#000" >Id1</text>
<text x="432.5" y="2516.7" font-size="30.5" text-anchor="end" font-weight="normal" font-style="normal" fill="#000" transform="rotate(-36.5 432.5 2516.7)" >Vwf<tspan font-size="21" dx="1.5" dy="-12">+</tspan></text>
<text x="527.95" y="2516.7" font-size="30.5" text-anchor="end" font-weight="normal" font-style="normal" fill="#000" transform="rotate(-36.5 527.95 2516.7)" >Vwf<tspan font-size="21" dx="1.5" dy="-12">–</tspan></text>
<line x1="644.6" y1="2252.3" x2="644.6" y2="2481.1" stroke="#000" stroke-width="2.6" stroke-linecap="butt" />
<line x1="637.2" y1="2479.8" x2="815.7" y2="2479.8" stroke="#000" stroke-width="2.6" stroke-linecap="butt" />
<line x1="637.2" y1="2479.8" x2="644.6" y2="2479.8" stroke="#000" stroke-width="2.6" stroke-linecap="butt" />
<text x="624.9" y="2488.4" font-size="24.5" text-anchor="end" font-weight="normal" font-style="normal" fill="#000" >0</text>
<line x1="637.2" y1="2423.1" x2="644.6" y2="2423.1" stroke="#000" stroke-width="2.6" stroke-linecap="butt" />
<text x="624.9" y="2431.7" font-size="24.5" text-anchor="end" font-weight="normal" font-style="normal" fill="#000" >20</text>
<line x1="637.2" y1="2366.4" x2="644.6" y2="2366.4" stroke="#000" stroke-width="2.6" stroke-linecap="butt" />
<text x="624.9" y="2375" font-size="24.5" text-anchor="end" font-weight="normal" font-style="normal" fill="#000" >40</text>
<line x1="637.2" y1="2309.7" x2="644.6" y2="2309.7" stroke="#000" stroke-width="2.6" stroke-linecap="butt" />
<text x="624.9" y="2318.3" font-size="24.5" text-anchor="end" font-weight="normal" font-style="normal" fill="#000" >60</text>
<line x1="637.2" y1="2253" x2="644.6" y2="2253" stroke="#000" stroke-width="2.6" stroke-linecap="butt" />
<text x="624.9" y="2261.6" font-size="24.5" text-anchor="end" font-weight="normal" font-style="normal" fill="#000" >80</text>
<rect x="653.5" y="2409.8" width="25.2" height="70" fill="#005494" stroke="#000" stroke-width="2.4" />
<rect x="696.4" y="2329.3" width="25.2" height="150.5" fill="#931200" stroke="#000" stroke-width="2.4" />
<rect x="739.2" y="2334.3" width="25.2" height="145.5" fill="#005494" stroke="#000" stroke-width="2.4" />
<rect x="782.1" y="2312.9" width="25.2" height="166.9" fill="#931200" stroke="#000" stroke-width="2.4" />
<line x1="666.1" y1="2409.8" x2="666.1" y2="2381.4" stroke="#000" stroke-width="2.4" stroke-linecap="butt" />
<line x1="658.6" y1="2381.4" x2="673.6" y2="2381.4" stroke="#000" stroke-width="2.4" stroke-linecap="butt" />
<line x1="751.8" y1="2334.3" x2="751.8" y2="2263.4" stroke="#000" stroke-width="2.4" stroke-linecap="butt" />
<line x1="744.3" y1="2263.4" x2="759.3" y2="2263.4" stroke="#000" stroke-width="2.4" stroke-linecap="butt" />
<line x1="794.7" y1="2312.9" x2="794.7" y2="2272.2" stroke="#000" stroke-width="2.4" stroke-linecap="butt" />
<line x1="787.2" y1="2272.2" x2="802.2" y2="2272.2" stroke="#000" stroke-width="2.4" stroke-linecap="butt" />
<circle cx="665.7" cy="2384.5" r="4.7" fill="#000"/>
<circle cx="665.7" cy="2403.3" r="4.7" fill="#000"/>
<circle cx="665.7" cy="2436.3" r="4.7" fill="#000"/>
<circle cx="699.9" cy="2332.5" r="4.7" fill="#000"/>
<circle cx="709.1" cy="2327.1" r="4.7" fill="#000"/>
<circle cx="717.7" cy="2332" r="4.7" fill="#000"/>
<circle cx="751.7" cy="2253.9" r="4.7" fill="#000"/>
<circle cx="751.7" cy="2361.8" r="4.7" fill="#000"/>
<circle cx="751.7" cy="2381.9" r="4.7" fill="#000"/>
<circle cx="794.5" cy="2266.2" r="4.7" fill="#000"/>
<circle cx="785.9" cy="2336.2" r="4.7" fill="#000"/>
<circle cx="803.6" cy="2330.7" r="4.7" fill="#000"/>
<line x1="666.1" y1="2479.8" x2="666.1" y2="2486.8" stroke="#000" stroke-width="2.6" stroke-linecap="butt" />
<line x1="709" y1="2479.8" x2="709" y2="2486.8" stroke="#000" stroke-width="2.6" stroke-linecap="butt" />
<line x1="751.8" y1="2479.8" x2="751.8" y2="2486.8" stroke="#000" stroke-width="2.6" stroke-linecap="butt" />
<line x1="794.7" y1="2479.8" x2="794.7" y2="2486.8" stroke="#000" stroke-width="2.6" stroke-linecap="butt" />
<line x1="661.5" y1="2497.5" x2="712.7" y2="2497.5" stroke="#000" stroke-width="2.6" stroke-linecap="butt" />
<line x1="747" y1="2497.5" x2="798.2" y2="2497.5" stroke="#000" stroke-width="2.6" stroke-linecap="butt" />
<line x1="663.3" y1="2282.9" x2="701.8" y2="2282.9" stroke="#000" stroke-width="3.8" stroke-linecap="butt" />
<text x="684.3" y="2283.4" font-size="36" text-anchor="middle" font-weight="bold" font-style="normal" fill="#000" letter-spacing="3.5">**</text>
<line x1="754.3" y1="2235.4" x2="793.2" y2="2235.4" stroke="#000" stroke-width="3.8" stroke-linecap="butt" />
<text x="773.75" y="2225.9" font-size="25.5" text-anchor="middle" font-weight="normal" font-style="normal" fill="#000" >ns</text>
<text x="714.5" y="2197.9" font-size="28.6" text-anchor="middle" font-weight="normal" font-style="italic" fill="#000" >Fut8</text>
<text x="707.85" y="2516.7" font-size="30.5" text-anchor="end" font-weight="normal" font-style="normal" fill="#000" transform="rotate(-36.5 707.85 2516.7)" >Vwf<tspan font-size="21" dx="1.5" dy="-12">+</tspan></text>
<text x="803.55" y="2516.7" font-size="30.5" text-anchor="end" font-weight="normal" font-style="normal" fill="#000" transform="rotate(-36.5 803.55 2516.7)" >Vwf<tspan font-size="21" dx="1.5" dy="-12">–</tspan></text>
<line x1="918.1" y1="2251.5" x2="918.1" y2="2480.9" stroke="#000" stroke-width="2.6" stroke-linecap="butt" />
<line x1="910.5" y1="2479.6" x2="1088.8" y2="2479.6" stroke="#000" stroke-width="2.6" stroke-linecap="butt" />
<line x1="910.5" y1="2479.6" x2="918.1" y2="2479.6" stroke="#000" stroke-width="2.6" stroke-linecap="butt" />
<text x="900.4" y="2488.2" font-size="24.5" text-anchor="end" font-weight="normal" font-style="normal" fill="#000" >0</text>
<line x1="910.5" y1="2422.9" x2="918.1" y2="2422.9" stroke="#000" stroke-width="2.6" stroke-linecap="butt" />
<text x="900.4" y="2431.5" font-size="24.5" text-anchor="end" font-weight="normal" font-style="normal" fill="#000" >20</text>
<line x1="910.5" y1="2366.2" x2="918.1" y2="2366.2" stroke="#000" stroke-width="2.6" stroke-linecap="butt" />
<text x="900.4" y="2374.8" font-size="24.5" text-anchor="end" font-weight="normal" font-style="normal" fill="#000" >40</text>
<line x1="910.5" y1="2309.5" x2="918.1" y2="2309.5" stroke="#000" stroke-width="2.6" stroke-linecap="butt" />
<text x="900.4" y="2318.1" font-size="24.5" text-anchor="end" font-weight="normal" font-style="normal" fill="#000" >60</text>
<line x1="910.5" y1="2252.8" x2="918.1" y2="2252.8" stroke="#000" stroke-width="2.6" stroke-linecap="butt" />
<text x="900.4" y="2261.4" font-size="24.5" text-anchor="end" font-weight="normal" font-style="normal" fill="#000" >80</text>
<rect x="926.4" y="2397.4" width="25.2" height="82.2" fill="#005494" stroke="#000" stroke-width="2.4" />
<rect x="969.2" y="2316.5" width="25.2" height="163.1" fill="#931200" stroke="#000" stroke-width="2.4" />
<rect x="1012.2" y="2380.6" width="25.2" height="99" fill="#005494" stroke="#000" stroke-width="2.4" />
<rect x="1055.2" y="2318.4" width="25.2" height="161.2" fill="#931200" stroke="#000" stroke-width="2.4" />
<line x1="939" y1="2397.4" x2="939" y2="2385" stroke="#000" stroke-width="2.4" stroke-linecap="butt" />
<line x1="931.5" y1="2385" x2="946.5" y2="2385" stroke="#000" stroke-width="2.4" stroke-linecap="butt" />
<line x1="981.8" y1="2316.5" x2="981.8" y2="2290.8" stroke="#000" stroke-width="2.4" stroke-linecap="butt" />
<line x1="974.3" y1="2290.8" x2="989.3" y2="2290.8" stroke="#000" stroke-width="2.4" stroke-linecap="butt" />
<line x1="1024.8" y1="2380.6" x2="1024.8" y2="2367.1" stroke="#000" stroke-width="2.4" stroke-linecap="butt" />
<line x1="1017.3" y1="2367.1" x2="1032.3" y2="2367.1" stroke="#000" stroke-width="2.4" stroke-linecap="butt" />
<line x1="1067.8" y1="2318.4" x2="1067.8" y2="2274" stroke="#000" stroke-width="2.4" stroke-linecap="butt" />
<line x1="1060.3" y1="2274" x2="1075.3" y2="2274" stroke="#000" stroke-width="2.4" stroke-linecap="butt" />
<circle cx="939.4" cy="2384.1" r="4.7" fill="#000"/>
<circle cx="929.7" cy="2406.4" r="4.7" fill="#000"/>
<circle cx="948.5" cy="2397.3" r="4.7" fill="#000"/>
<circle cx="981.8" cy="2291.2" r="4.7" fill="#000"/>
<circle cx="981.8" cy="2313.7" r="4.7" fill="#000"/>
<circle cx="981.8" cy="2340.2" r="4.7" fill="#000"/>
<circle cx="1024.8" cy="2366.8" r="4.7" fill="#000"/>
<circle cx="1015.7" cy="2389.6" r="4.7" fill="#000"/>
<circle cx="1034" cy="2380.1" r="4.7" fill="#000"/>
<circle cx="1067.8" cy="2268" r="4.7" fill="#000"/>
<circle cx="1067.8" cy="2333.8" r="4.7" fill="#000"/>
<circle cx="1067.8" cy="2348.1" r="4.7" fill="#000"/>
<line x1="939" y1="2479.6" x2="939" y2="2486.6" stroke="#000" stroke-width="2.6" stroke-linecap="butt" />
<line x1="981.8" y1="2479.6" x2="981.8" y2="2486.6" stroke="#000" stroke-width="2.6" stroke-linecap="butt" />
<line x1="1024.8" y1="2479.6" x2="1024.8" y2="2486.6" stroke="#000" stroke-width="2.6" stroke-linecap="butt" />
<line x1="1067.8" y1="2479.6" x2="1067.8" y2="2486.6" stroke="#000" stroke-width="2.6" stroke-linecap="butt" />
<line x1="934.6" y1="2497.5" x2="985.5" y2="2497.5" stroke="#000" stroke-width="2.6" stroke-linecap="butt" />
<line x1="1020.2" y1="2497.5" x2="1071.4" y2="2497.5" stroke="#000" stroke-width="2.6" stroke-linecap="butt" />
<line x1="931.5" y1="2281.3" x2="969.9" y2="2281.3" stroke="#000" stroke-width="3.8" stroke-linecap="butt" />
<text x="952.45" y="2281.8" font-size="36" text-anchor="middle" font-weight="bold" font-style="normal" fill="#000" letter-spacing="3.5">**</text>
<text x="1008.3" y="2197.9" font-size="28.6" text-anchor="middle" font-weight="normal" font-style="italic" fill="#000" >Fkbp1a</text>
<text x="980.7" y="2516.7" font-size="30.5" text-anchor="end" font-weight="normal" font-style="normal" fill="#000" transform="rotate(-36.5 980.7 2516.7)" >Vwf<tspan font-size="21" dx="1.5" dy="-12">+</tspan></text>
<text x="1076.6" y="2516.7" font-size="30.5" text-anchor="end" font-weight="normal" font-style="normal" fill="#000" transform="rotate(-36.5 1076.6 2516.7)" >Vwf<tspan font-size="21" dx="1.5" dy="-12">–</tspan></text>
<line x1="1025.4" y1="2250" x2="1063.8" y2="2250" stroke="#000" stroke-width="3.8" stroke-linecap="butt" />
<text x="1013" y="2243.3" font-size="20.5" text-anchor="start" font-weight="normal" font-style="normal" fill="#000" ><tspan font-style="italic">p</tspan>=0.07</text>
<rect x="1151.7" y="2229.9" width="23.4" height="23.4" fill="#345c92" stroke="#000" stroke-width="3.4" rx="1.5"/>
<rect x="1151.7" y="2275.4" width="23.4" height="23.4" fill="#973634" stroke="#000" stroke-width="3.4" rx="1.5"/>
<text x="1192.9" y="2249" font-size="28.7" text-anchor="start" font-weight="normal" font-style="normal" fill="#000" >IgG</text>
<text x="1187.4" y="2295.3" font-size="28.7" text-anchor="start" font-weight="normal" font-style="normal" fill="#000" >GPIbα</text>
<text x="-0.4" y="28" font-size="52.5" text-anchor="start" font-weight="bold" font-style="normal" fill="#000" >a</text>
<text x="-1.7" y="505.2" font-size="52.5" text-anchor="start" font-weight="bold" font-style="normal" fill="#000" >b</text>
<text x="-0.3" y="974.2" font-size="52.5" text-anchor="start" font-weight="bold" font-style="normal" fill="#000" >c</text>
<text x="491.6" y="973.7" font-size="52.5" text-anchor="start" font-weight="bold" font-style="normal" fill="#000" >d</text>
<text x="-1.1" y="1630.1" font-size="52.5" text-anchor="start" font-weight="bold" font-style="normal" fill="#000" >e</text>
<text x="793.4" y="1629.8" font-size="52.5" text-anchor="start" font-weight="bold" font-style="normal" fill="#000" >f</text>
<text x="-2.2" y="2154.1" font-size="52.5" text-anchor="start" font-weight="bold" font-style="normal" fill="#000" >g</text>
</svg></body></html>
